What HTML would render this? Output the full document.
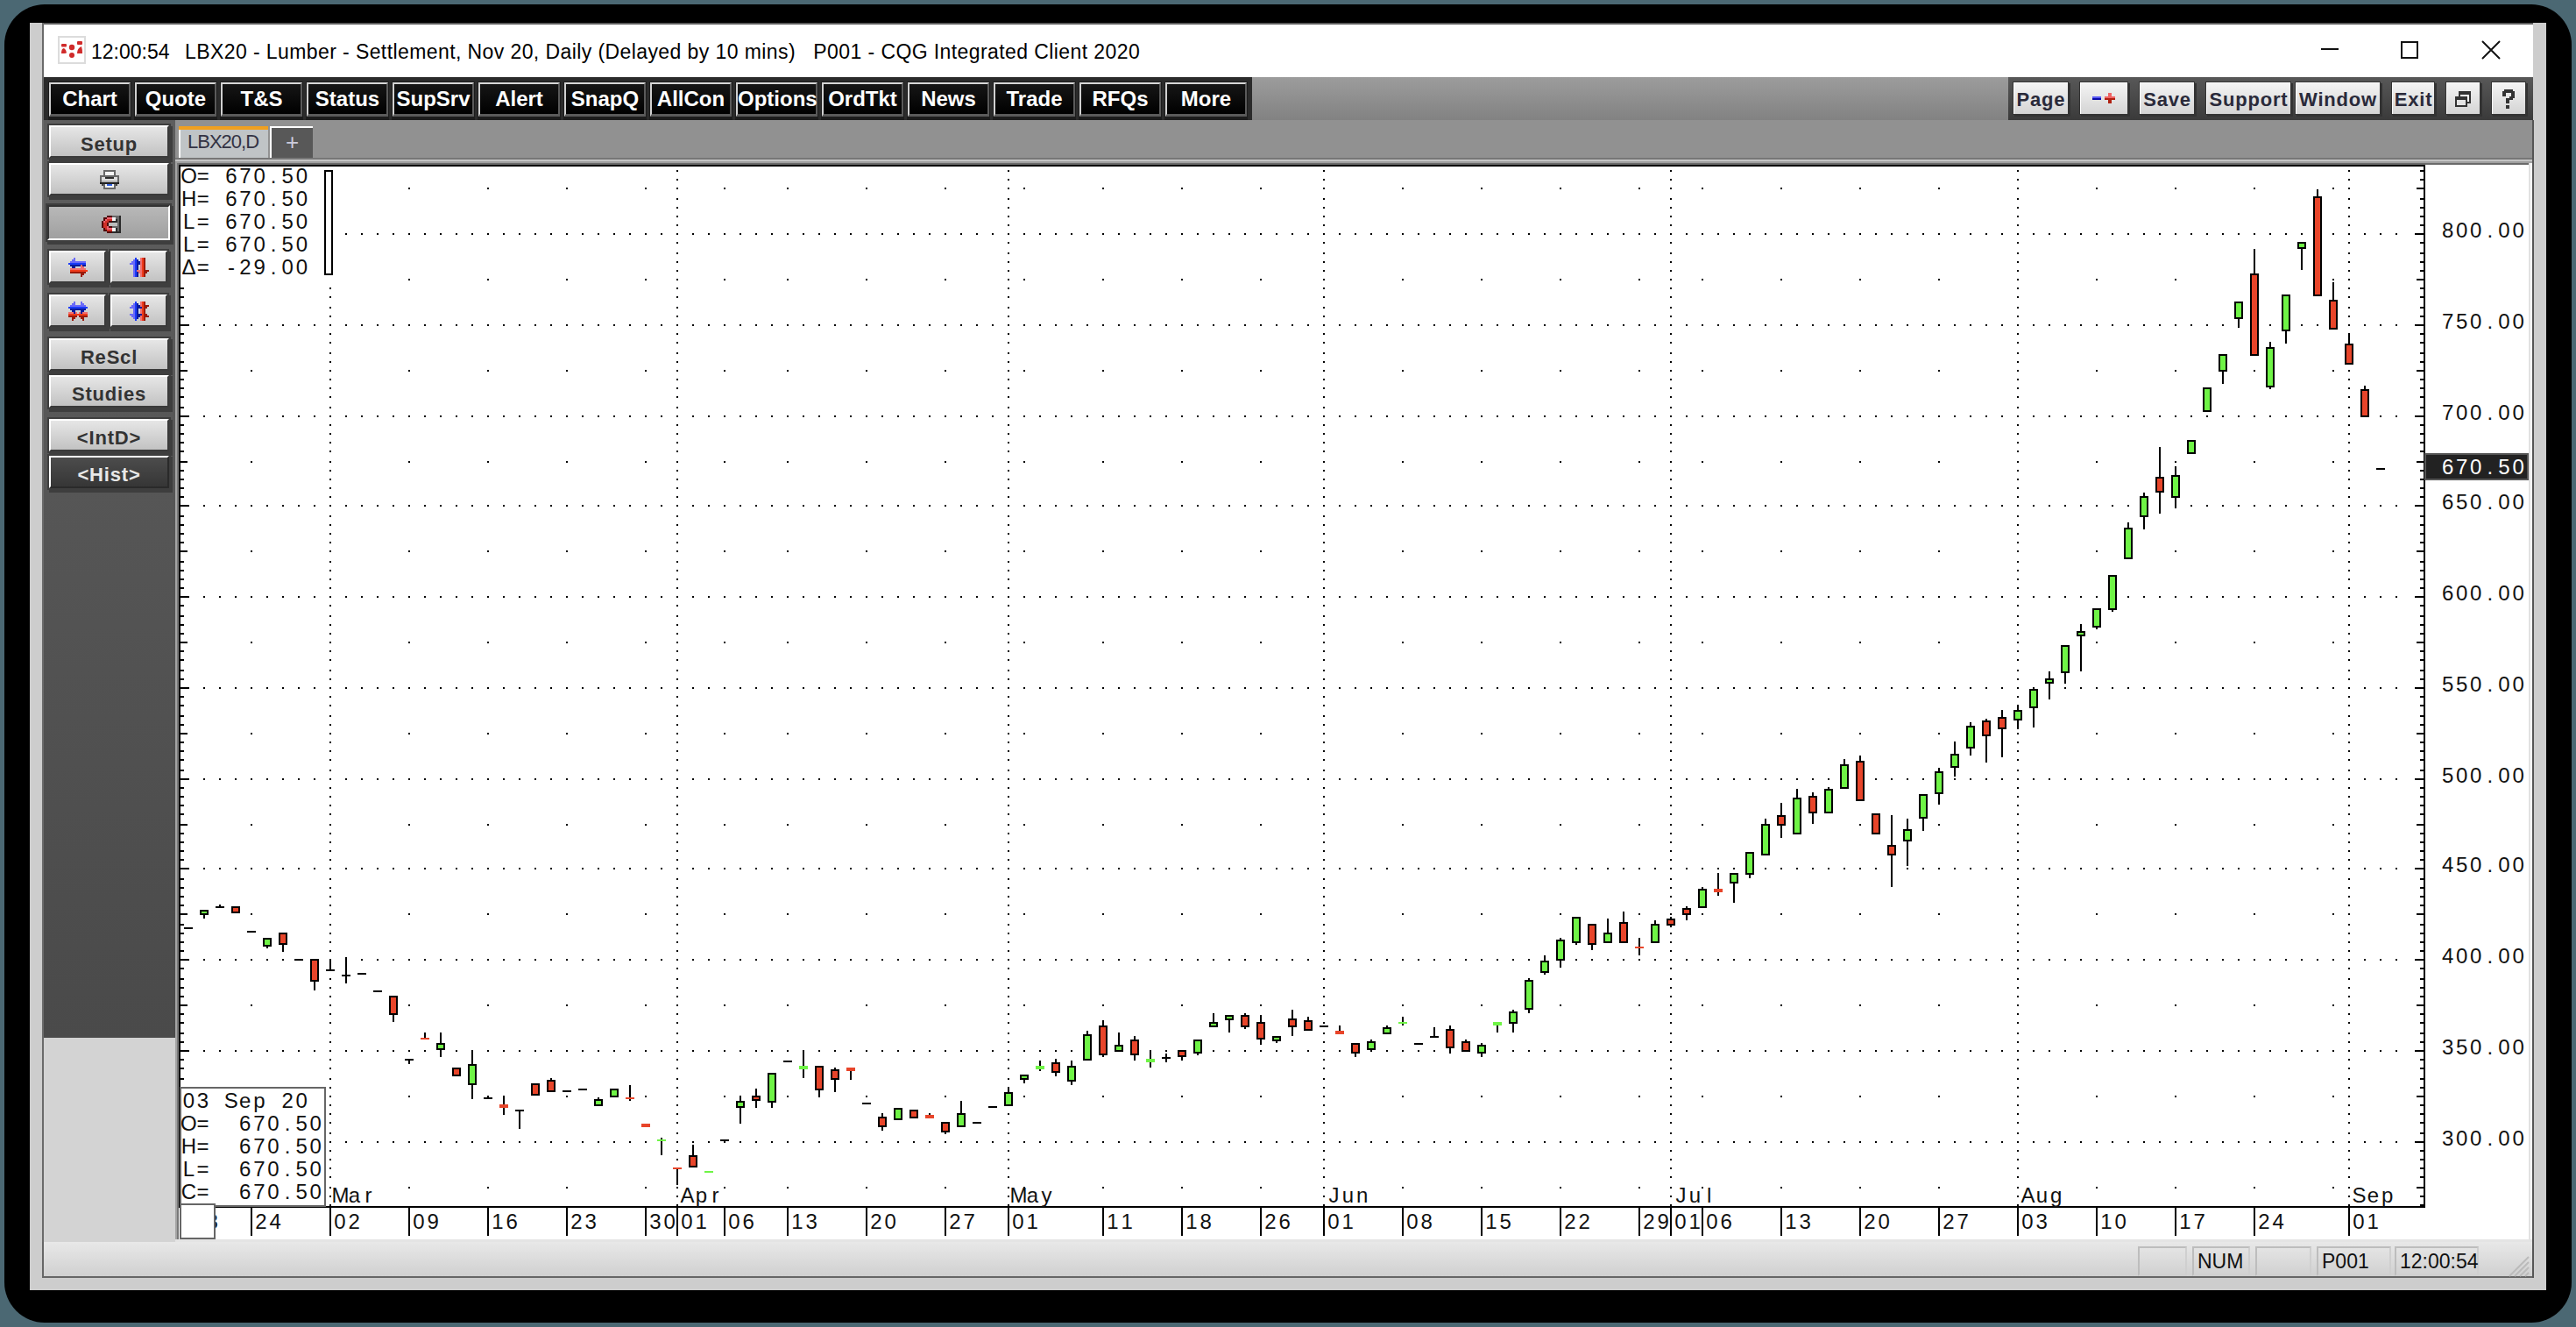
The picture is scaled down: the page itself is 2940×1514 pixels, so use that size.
<!DOCTYPE html>
<html><head><meta charset="utf-8"><style>
html,body{margin:0;padding:0;}
body{width:2940px;height:1514px;overflow:hidden;background:#4b6873;position:relative;font-family:"Liberation Sans",sans-serif;}
.a{position:absolute;}
.bd{position:absolute;top:94px;width:93px;height:39px;box-sizing:border-box;box-shadow:0 0 0 1px #1c1c1c,0 3px 0 1px #1c1c1c;background:linear-gradient(#161616,#000);border-top:2px solid #d8d8d8;border-left:2px solid #d0d0d0;border-right:2px solid #5a5a5a;border-bottom:3px solid #5a5a5a;color:#fff;font:bold 24px "Liberation Sans",sans-serif;text-align:center;line-height:33px;}
.bl{position:absolute;top:94px;height:36px;box-sizing:border-box;background:linear-gradient(#f4f4f4,#d4d4d4);border-top:1px solid #fff;border-left:1px solid #fff;color:#2a2a3a;font:bold 22px "Liberation Sans",sans-serif;letter-spacing:0.8px;text-align:center;line-height:38px;white-space:nowrap;overflow:hidden;box-shadow:0 0 0 1px #333,2px 2px 0 1px #333;}
.lb{position:absolute;left:56px;width:137px;height:37px;box-sizing:border-box;background:linear-gradient(#e6e6e6,#c2c2c2);border-top:2px solid #fff;border-left:2px solid #fff;border-right:2px solid #3a3a3a;border-bottom:2px solid #3a3a3a;color:#333;font:bold 22px "Liberation Sans",sans-serif;letter-spacing:0.8px;text-align:center;line-height:40px;box-shadow:0 0 0 2px #3e3e3e,2px 3px 0 2px #3e3e3e;}
svg text{font-family:"Liberation Sans",sans-serif;}
.ax{font-size:24px;fill:#111;}
.pl{font-size:24px;fill:#111;}
.ob{font-size:24px;fill:#111;}
.st{position:absolute;top:1422px;height:34px;box-sizing:border-box;border:2px solid #cfcfcf;border-top-color:#bdbdbd;border-left-color:#bdbdbd;font:23px "Liberation Sans",sans-serif;color:#111;line-height:30px;padding-left:4px;}
</style></head><body>
<div class="a" style="left:5px;top:5px;width:2930px;height:1504px;background:#000;border-radius:46px;"></div>
<div class="a" style="left:34px;top:26px;width:2872px;height:1446px;background:#cdcdcd;"></div>
<div class="a" style="left:48px;top:26px;width:2843px;height:2px;background:#5c5c5c;"></div>
<div class="a" style="left:48px;top:26px;width:2px;height:1431px;background:#6a6a6a;"></div>
<!-- title bar -->
<div class="a" style="left:50px;top:28px;width:2841px;height:60px;background:#fff;"></div>
<div class="a" style="left:66px;top:41px;width:28px;height:28px;border:2px solid #dcdcdc;background:#fff;"></div>
<svg class="a" style="left:66px;top:41px" width="32" height="32"><g fill="#d02a2a"><rect x="4" y="9" width="6" height="3.5" rx="1"/><path d="M4 20 Q4 14 7 14 Q10 16 10 19 Q10 20 7 20 Z"/><circle cx="16" cy="13" r="3.2"/><circle cx="16" cy="22" r="3"/><rect x="22" y="6" width="6" height="4" rx="1"/><path d="M22 20 Q22 14 27 12 Q28 15 28 20 Z"/></g></svg>
<div class="a" style="left:104px;top:45px;font-size:23px;color:#000;white-space:pre;line-height:28px;">12:00:54</div><div id="tt" class="a" style="left:211px;top:45px;font-size:23px;letter-spacing:0.41px;color:#000;white-space:pre;line-height:28px;">LBX20 - Lumber - Settlement, Nov 20, Daily (Delayed by 10 mins)   P001 - CQG Integrated Client 2020</div>
<div class="a" style="left:2649px;top:55px;width:20px;height:2px;background:#111;"></div>
<div class="a" style="left:2740px;top:47px;width:16px;height:16px;border:2px solid #111;"></div>
<svg class="a" style="left:2831px;top:45px" width="24" height="24"><path d="M2 2L22 22M22 2L2 22" stroke="#111" stroke-width="2"/></svg>
<!-- toolbar -->
<div class="a" style="left:50px;top:88px;width:1379px;height:49px;background:#2b2b2b;"></div>
<div class="a" style="left:1429px;top:88px;width:863px;height:49px;background:linear-gradient(#9c9c9c,#828282);"></div>
<div class="a" style="left:2292px;top:88px;width:599px;height:49px;background:linear-gradient(#585858,#3a3a3a);"></div>
<div class="bd" style="left:56px">Chart</div><div class="bd" style="left:154px">Quote</div><div class="bd" style="left:252px">T&amp;S</div><div class="bd" style="left:350px">Status</div><div class="bd" style="left:448px">SupSrv</div><div class="bd" style="left:546px">Alert</div><div class="bd" style="left:644px">SnapQ</div><div class="bd" style="left:742px">AllCon</div><div class="bd" style="left:840px">Options</div><div class="bd" style="left:938px">OrdTkt</div><div class="bd" style="left:1036px">News</div><div class="bd" style="left:1134px">Trade</div><div class="bd" style="left:1232px">RFQs</div><div class="bd" style="left:1330px">More</div><div class="bl" style="left:2298px;width:62px">Page</div><div class="bl" style="left:2374px;width:54px"></div><div class="bl" style="left:2442px;width:62px">Save</div><div class="bl" style="left:2518px;width:96px">Support</div><div class="bl" style="left:2620px;width:96px">Window</div><div class="bl" style="left:2730px;width:48px">Exit</div><div class="bl" style="left:2792px;width:38px"></div><div class="bl" style="left:2844px;width:38px"></div>
<svg class="a" style="left:2800px;top:102px" width="24" height="24" shape-rendering="crispEdges">
<rect x="6" y="2" width="14" height="14" fill="#333"/><rect x="8" y="6" width="10" height="8" fill="#fff"/>
<rect x="2" y="8" width="14" height="12" fill="#333"/><rect x="4" y="12" width="10" height="6" fill="#e4e4e4"/>
</svg>
<svg class="a" style="left:2854px;top:102px" width="20" height="24" shape-rendering="crispEdges" fill="#333">
<rect x="4" y="0" width="10" height="4"/><rect x="2" y="2" width="4" height="6"/><rect x="12" y="2" width="4" height="8"/><rect x="10" y="8" width="4" height="4"/><rect x="8" y="10" width="4" height="2"/><rect x="6" y="10" width="4" height="6"/><rect x="6" y="18" width="4" height="4"/>
</svg>
<svg class="a" style="left:2388px;top:106px" width="28" height="14" shape-rendering="crispEdges">
<rect x="0" y="4" width="10" height="2" fill="#5a5af4"/><rect x="0" y="6" width="10" height="2" fill="#0a0aa8"/>
<rect x="14" y="4" width="12" height="2" fill="#f06464"/><rect x="14" y="6" width="12" height="2" fill="#b02010"/>
<rect x="18" y="0" width="4" height="4" fill="#f06464"/><rect x="18" y="8" width="4" height="4" fill="#b02010"/>
</svg>
<!-- tab band -->
<div class="a" style="left:200px;top:137px;width:2691px;height:43px;background:#919191;"></div>
<div class="a" style="left:204px;top:144px;width:102px;height:36px;background:#c0c4c6;border-left:2px solid #fff;box-sizing:border-box;"></div>
<div class="a" style="left:204px;top:144px;width:102px;height:4px;background:#f0a020;"></div>
<div class="a" style="left:214px;top:148px;font-size:22px;letter-spacing:-1px;color:#334;line-height:28px;">LBX20,D</div>
<div class="a" style="left:308px;top:144px;width:49px;height:36px;background:#585858;border-left:2px solid #fff;border-top:2px solid #fff;box-sizing:border-box;color:#ccd;font-size:26px;text-align:center;line-height:32px;">+</div>
<div class="a" style="left:200px;top:180px;width:2691px;height:2px;background:#777;"></div>
<div class="a" style="left:200px;top:182px;width:2691px;height:2px;background:#c4c4c4;"></div>
<div class="a" style="left:200px;top:184px;width:2691px;height:2px;background:#a0a0a0;"></div>
<div class="a" style="left:200px;top:186px;width:2691px;height:2px;background:#6a6a6a;"></div>
<div class="a" style="left:200px;top:186px;width:2px;height:1231px;background:#a4a4a4;"></div><div class="a" style="left:202px;top:186px;width:2px;height:1231px;background:#777;"></div>
<div class="a" style="left:2886px;top:186px;width:2px;height:1228px;background:#e2e2e2;"></div><div class="a" style="left:2888px;top:186px;width:2px;height:1228px;background:#fff;"></div>
<!-- left panel -->
<div class="a" style="left:50px;top:137px;width:150px;height:1047px;background:linear-gradient(#5e5e5e,#4a4a4a);"></div>
<div class="a" style="left:50px;top:1184px;width:150px;height:233px;background:#d3d3d3;"></div>
<div class="lb" style="top:143px;">Setup</div>
<div class="lb" style="top:186px;"></div>
<div class="lb" style="top:234px;left:54px;width:140px;height:40px;background:linear-gradient(#b8b8b8,#a0a0a0);border-top:2px solid #333;border-left:2px solid #333;border-right:2px solid #fff;border-bottom:2px solid #fff;"></div>
<div class="lb" style="top:286px;width:65px;"></div><div class="lb" style="top:286px;left:126px;width:65px;"></div>
<div class="lb" style="top:336px;width:65px;"></div><div class="lb" style="top:336px;left:126px;width:65px;"></div>
<div class="lb" style="top:386px;">ReScl</div>
<div class="lb" style="top:428px;">Studies</div>
<div class="lb" style="top:478px;">&lt;IntD&gt;</div>
<div class="lb" style="top:520px;background:linear-gradient(#4c4c4c,#363636);color:#e8e8e8;border-right-color:#2a2a2a;border-bottom-color:#2a2a2a;">&lt;Hist&gt;</div>

<svg class="a" style="left:78px;top:294px" width="22" height="22" shape-rendering="crispEdges"><rect x="6" y="0" width="2" height="2" fill="#6a6af8"/><rect x="4" y="2" width="4" height="2" fill="#6a6af8"/><rect x="2" y="4" width="18" height="2" fill="#6a6af8"/><rect x="0" y="6" width="20" height="2" fill="#1a3af8"/><rect x="2" y="8" width="18" height="2" fill="#0a1a9a"/><rect x="4" y="10" width="4" height="2" fill="#0a1a9a"/><rect x="6" y="12" width="2" height="2" fill="#0a1a9a"/><rect x="14" y="8" width="2" height="2" fill="#f07070"/><rect x="14" y="10" width="4" height="2" fill="#f07070"/><rect x="2" y="12" width="18" height="2" fill="#f07070"/><rect x="2" y="14" width="20" height="2" fill="#f03a1a"/><rect x="2" y="16" width="18" height="2" fill="#9a1a0a"/><rect x="14" y="18" width="4" height="2" fill="#9a1a0a"/><rect x="14" y="20" width="2" height="2" fill="#9a1a0a"/></svg><svg class="a" style="left:148px;top:294px" width="22" height="22" shape-rendering="crispEdges"><rect x="6" y="0" width="2" height="2" fill="#1a3af8"/><rect x="4" y="2" width="2" height="2" fill="#6a6af8"/><rect x="6" y="2" width="2" height="2" fill="#1a3af8"/><rect x="8" y="2" width="2" height="2" fill="#0a1a9a"/><rect x="2" y="4" width="4" height="2" fill="#6a6af8"/><rect x="6" y="4" width="2" height="2" fill="#1a3af8"/><rect x="8" y="4" width="4" height="2" fill="#0a1a9a"/><rect x="0" y="6" width="6" height="2" fill="#6a6af8"/><rect x="6" y="6" width="2" height="2" fill="#1a3af8"/><rect x="8" y="6" width="6" height="2" fill="#0a1a9a"/><rect x="4" y="8" width="2" height="2" fill="#6a6af8"/><rect x="6" y="8" width="2" height="2" fill="#1a3af8"/><rect x="8" y="8" width="2" height="2" fill="#0a1a9a"/><rect x="4" y="10" width="2" height="2" fill="#6a6af8"/><rect x="6" y="10" width="2" height="2" fill="#1a3af8"/><rect x="8" y="10" width="2" height="2" fill="#0a1a9a"/><rect x="4" y="12" width="2" height="2" fill="#6a6af8"/><rect x="6" y="12" width="2" height="2" fill="#1a3af8"/><rect x="8" y="12" width="2" height="2" fill="#0a1a9a"/><rect x="4" y="14" width="2" height="2" fill="#6a6af8"/><rect x="6" y="14" width="2" height="2" fill="#1a3af8"/><rect x="8" y="14" width="2" height="2" fill="#0a1a9a"/><rect x="4" y="16" width="2" height="2" fill="#6a6af8"/><rect x="6" y="16" width="2" height="2" fill="#1a3af8"/><rect x="8" y="16" width="2" height="2" fill="#0a1a9a"/><rect x="4" y="18" width="2" height="2" fill="#6a6af8"/><rect x="6" y="18" width="2" height="2" fill="#1a3af8"/><rect x="8" y="18" width="2" height="2" fill="#0a1a9a"/><rect x="4" y="20" width="2" height="2" fill="#6a6af8"/><rect x="6" y="20" width="2" height="2" fill="#1a3af8"/><rect x="8" y="20" width="2" height="2" fill="#0a1a9a"/><rect x="12" y="0" width="2" height="2" fill="#f07070"/><rect x="14" y="0" width="2" height="2" fill="#f03a1a"/><rect x="16" y="0" width="2" height="2" fill="#9a1a0a"/><rect x="12" y="2" width="2" height="2" fill="#f07070"/><rect x="14" y="2" width="2" height="2" fill="#f03a1a"/><rect x="16" y="2" width="2" height="2" fill="#9a1a0a"/><rect x="12" y="4" width="2" height="2" fill="#f07070"/><rect x="14" y="4" width="2" height="2" fill="#f03a1a"/><rect x="16" y="4" width="2" height="2" fill="#9a1a0a"/><rect x="12" y="8" width="2" height="2" fill="#f07070"/><rect x="14" y="8" width="2" height="2" fill="#f03a1a"/><rect x="16" y="8" width="2" height="2" fill="#9a1a0a"/><rect x="12" y="10" width="2" height="2" fill="#f07070"/><rect x="14" y="10" width="2" height="2" fill="#f03a1a"/><rect x="16" y="10" width="2" height="2" fill="#9a1a0a"/><rect x="12" y="12" width="2" height="2" fill="#f07070"/><rect x="14" y="12" width="2" height="2" fill="#f03a1a"/><rect x="16" y="12" width="2" height="2" fill="#9a1a0a"/><rect x="12" y="14" width="2" height="2" fill="#f07070"/><rect x="14" y="14" width="2" height="2" fill="#f03a1a"/><rect x="16" y="14" width="2" height="2" fill="#9a1a0a"/><rect x="12" y="16" width="2" height="2" fill="#f07070"/><rect x="14" y="16" width="2" height="2" fill="#f03a1a"/><rect x="16" y="16" width="2" height="2" fill="#9a1a0a"/><rect x="12" y="18" width="2" height="2" fill="#f07070"/><rect x="14" y="18" width="2" height="2" fill="#f03a1a"/><rect x="16" y="18" width="2" height="2" fill="#9a1a0a"/><rect x="12" y="20" width="2" height="2" fill="#f07070"/><rect x="14" y="20" width="2" height="2" fill="#f03a1a"/><rect x="16" y="20" width="2" height="2" fill="#9a1a0a"/><rect x="8" y="14" width="4" height="2" fill="#f07070"/><rect x="18" y="14" width="4" height="2" fill="#9a1a0a"/><rect x="10" y="16" width="2" height="2" fill="#f07070"/><rect x="18" y="16" width="2" height="2" fill="#9a1a0a"/><rect x="12" y="18" width="2" height="2" fill="#f07070"/><rect x="14" y="18" width="2" height="2" fill="#f03a1a"/><rect x="16" y="18" width="2" height="2" fill="#9a1a0a"/><rect x="14" y="20" width="2" height="2" fill="#f03a1a"/><rect x="12" y="6" width="2" height="2" fill="#f07070"/><rect x="14" y="6" width="2" height="2" fill="#f03a1a"/><rect x="16" y="6" width="2" height="2" fill="#9a1a0a"/></svg><svg class="a" style="left:78px;top:344px" width="22" height="22" shape-rendering="crispEdges"><rect x="6" y="0" width="2" height="2" fill="#6a6af8"/><rect x="14" y="0" width="2" height="2" fill="#6a6af8"/><rect x="4" y="2" width="4" height="2" fill="#6a6af8"/><rect x="14" y="2" width="4" height="2" fill="#6a6af8"/><rect x="2" y="4" width="18" height="2" fill="#6a6af8"/><rect x="0" y="6" width="22" height="2" fill="#1a3af8"/><rect x="2" y="8" width="18" height="2" fill="#0a1a9a"/><rect x="4" y="10" width="4" height="2" fill="#0a1a9a"/><rect x="14" y="10" width="4" height="2" fill="#0a1a9a"/><rect x="0" y="12" width="6" height="2" fill="#f07070"/><rect x="8" y="12" width="2" height="2" fill="#f07070"/><rect x="12" y="12" width="2" height="2" fill="#f07070"/><rect x="16" y="12" width="6" height="2" fill="#f07070"/><rect x="6" y="12" width="2" height="2" fill="#0a1a9a"/><rect x="14" y="12" width="2" height="2" fill="#0a1a9a"/><rect x="0" y="14" width="22" height="2" fill="#f03a1a"/><rect x="0" y="16" width="10" height="2" fill="#9a1a0a"/><rect x="12" y="16" width="10" height="2" fill="#9a1a0a"/><rect x="4" y="18" width="4" height="2" fill="#9a1a0a"/><rect x="14" y="18" width="4" height="2" fill="#9a1a0a"/><rect x="4" y="20" width="2" height="2" fill="#9a1a0a"/><rect x="16" y="20" width="2" height="2" fill="#9a1a0a"/></svg><svg class="a" style="left:148px;top:344px" width="22" height="22" shape-rendering="crispEdges"><rect x="12" y="0" width="2" height="2" fill="#f07070"/><rect x="14" y="0" width="2" height="2" fill="#f03a1a"/><rect x="16" y="0" width="2" height="2" fill="#9a1a0a"/><rect x="12" y="2" width="2" height="2" fill="#f07070"/><rect x="14" y="2" width="2" height="2" fill="#f03a1a"/><rect x="16" y="2" width="2" height="2" fill="#9a1a0a"/><rect x="12" y="4" width="2" height="2" fill="#f07070"/><rect x="14" y="4" width="2" height="2" fill="#f03a1a"/><rect x="16" y="4" width="2" height="2" fill="#9a1a0a"/><rect x="12" y="6" width="2" height="2" fill="#f07070"/><rect x="14" y="6" width="2" height="2" fill="#f03a1a"/><rect x="16" y="6" width="2" height="2" fill="#9a1a0a"/><rect x="12" y="8" width="2" height="2" fill="#f07070"/><rect x="14" y="8" width="2" height="2" fill="#f03a1a"/><rect x="16" y="8" width="2" height="2" fill="#9a1a0a"/><rect x="12" y="10" width="2" height="2" fill="#f07070"/><rect x="14" y="10" width="2" height="2" fill="#f03a1a"/><rect x="16" y="10" width="2" height="2" fill="#9a1a0a"/><rect x="12" y="12" width="2" height="2" fill="#f07070"/><rect x="14" y="12" width="2" height="2" fill="#f03a1a"/><rect x="16" y="12" width="2" height="2" fill="#9a1a0a"/><rect x="12" y="14" width="2" height="2" fill="#f07070"/><rect x="14" y="14" width="2" height="2" fill="#f03a1a"/><rect x="16" y="14" width="2" height="2" fill="#9a1a0a"/><rect x="12" y="16" width="2" height="2" fill="#f07070"/><rect x="14" y="16" width="2" height="2" fill="#f03a1a"/><rect x="16" y="16" width="2" height="2" fill="#9a1a0a"/><rect x="12" y="18" width="2" height="2" fill="#f07070"/><rect x="14" y="18" width="2" height="2" fill="#f03a1a"/><rect x="16" y="18" width="2" height="2" fill="#9a1a0a"/><rect x="12" y="20" width="2" height="2" fill="#f07070"/><rect x="14" y="20" width="2" height="2" fill="#f03a1a"/><rect x="16" y="20" width="2" height="2" fill="#9a1a0a"/><rect x="18" y="4" width="4" height="2" fill="#9a1a0a"/><rect x="18" y="6" width="2" height="2" fill="#9a1a0a"/><rect x="18" y="14" width="2" height="2" fill="#9a1a0a"/><rect x="18" y="16" width="4" height="2" fill="#9a1a0a"/><rect x="6" y="0" width="2" height="2" fill="#1a3af8"/><rect x="4" y="2" width="2" height="2" fill="#6a6af8"/><rect x="6" y="2" width="2" height="2" fill="#1a3af8"/><rect x="8" y="2" width="2" height="2" fill="#0a1a9a"/><rect x="2" y="4" width="4" height="2" fill="#6a6af8"/><rect x="6" y="4" width="2" height="2" fill="#1a3af8"/><rect x="8" y="4" width="4" height="2" fill="#0a1a9a"/><rect x="0" y="6" width="6" height="2" fill="#6a6af8"/><rect x="6" y="6" width="2" height="2" fill="#1a3af8"/><rect x="8" y="6" width="6" height="2" fill="#0a1a9a"/><rect x="4" y="8" width="2" height="2" fill="#6a6af8"/><rect x="6" y="8" width="2" height="2" fill="#1a3af8"/><rect x="8" y="8" width="2" height="2" fill="#0a1a9a"/><rect x="4" y="10" width="2" height="2" fill="#6a6af8"/><rect x="6" y="10" width="2" height="2" fill="#1a3af8"/><rect x="8" y="10" width="2" height="2" fill="#0a1a9a"/><rect x="4" y="12" width="2" height="2" fill="#6a6af8"/><rect x="6" y="12" width="2" height="2" fill="#1a3af8"/><rect x="8" y="12" width="2" height="2" fill="#0a1a9a"/><rect x="0" y="14" width="6" height="2" fill="#6a6af8"/><rect x="6" y="14" width="2" height="2" fill="#1a3af8"/><rect x="8" y="14" width="6" height="2" fill="#0a1a9a"/><rect x="2" y="16" width="4" height="2" fill="#6a6af8"/><rect x="6" y="16" width="2" height="2" fill="#1a3af8"/><rect x="8" y="16" width="4" height="2" fill="#0a1a9a"/><rect x="4" y="18" width="2" height="2" fill="#6a6af8"/><rect x="6" y="18" width="2" height="2" fill="#1a3af8"/><rect x="8" y="18" width="2" height="2" fill="#0a1a9a"/><rect x="6" y="20" width="2" height="2" fill="#1a3af8"/></svg><svg class="a" style="left:116px;top:246px" width="22" height="22" shape-rendering="crispEdges"><rect x="6" y="0" width="6" height="2" fill="#500808"/><rect x="12" y="0" width="8" height="2" fill="#686868"/><rect x="20" y="0" width="2" height="2" fill="#2a2a2a"/><rect x="2" y="2" width="4" height="2" fill="#500808"/><rect x="6" y="2" width="6" height="2" fill="#f06070"/><rect x="12" y="2" width="4" height="2" fill="#f4f4f4"/><rect x="16" y="2" width="4" height="2" fill="#686868"/><rect x="20" y="2" width="2" height="2" fill="#2a2a2a"/><rect x="2" y="4" width="2" height="2" fill="#500808"/><rect x="4" y="4" width="2" height="2" fill="#f06070"/><rect x="6" y="4" width="6" height="2" fill="#d03028"/><rect x="12" y="4" width="4" height="2" fill="#f4f4f4"/><rect x="16" y="4" width="2" height="2" fill="#2a2a2a"/><rect x="18" y="4" width="2" height="2" fill="#686868"/><rect x="20" y="4" width="2" height="2" fill="#2a2a2a"/><rect x="0" y="6" width="2" height="2" fill="#500808"/><rect x="2" y="6" width="2" height="2" fill="#f06070"/><rect x="4" y="6" width="4" height="2" fill="#d03028"/><rect x="8" y="6" width="4" height="2" fill="#500808"/><rect x="12" y="6" width="6" height="2" fill="#2a2a2a"/><rect x="18" y="6" width="2" height="2" fill="#686868"/><rect x="20" y="6" width="2" height="2" fill="#2a2a2a"/><rect x="0" y="8" width="2" height="2" fill="#500808"/><rect x="2" y="8" width="4" height="2" fill="#d03028"/><rect x="6" y="8" width="2" height="2" fill="#500808"/><rect x="8" y="8" width="10" height="2" fill="#bcbcbc"/><rect x="18" y="8" width="2" height="2" fill="#686868"/><rect x="20" y="8" width="2" height="2" fill="#2a2a2a"/><rect x="0" y="10" width="2" height="2" fill="#500808"/><rect x="2" y="10" width="4" height="2" fill="#d03028"/><rect x="6" y="10" width="2" height="2" fill="#500808"/><rect x="8" y="10" width="10" height="2" fill="#bcbcbc"/><rect x="18" y="10" width="2" height="2" fill="#686868"/><rect x="20" y="10" width="2" height="2" fill="#2a2a2a"/><rect x="0" y="12" width="2" height="2" fill="#500808"/><rect x="2" y="12" width="4" height="2" fill="#d03028"/><rect x="6" y="12" width="2" height="2" fill="#f06070"/><rect x="8" y="12" width="4" height="2" fill="#500808"/><rect x="12" y="12" width="8" height="2" fill="#686868"/><rect x="20" y="12" width="2" height="2" fill="#2a2a2a"/><rect x="2" y="14" width="2" height="2" fill="#500808"/><rect x="4" y="14" width="2" height="2" fill="#d03028"/><rect x="6" y="14" width="6" height="2" fill="#f06070"/><rect x="12" y="14" width="4" height="2" fill="#f4f4f4"/><rect x="16" y="14" width="2" height="2" fill="#2a2a2a"/><rect x="18" y="14" width="2" height="2" fill="#686868"/><rect x="20" y="14" width="2" height="2" fill="#2a2a2a"/><rect x="2" y="16" width="4" height="2" fill="#500808"/><rect x="6" y="16" width="6" height="2" fill="#d03028"/><rect x="12" y="16" width="4" height="2" fill="#f4f4f4"/><rect x="16" y="16" width="2" height="2" fill="#2a2a2a"/><rect x="18" y="16" width="2" height="2" fill="#686868"/><rect x="20" y="16" width="2" height="2" fill="#2a2a2a"/><rect x="6" y="18" width="6" height="2" fill="#500808"/><rect x="12" y="18" width="10" height="2" fill="#2a2a2a"/></svg><svg class="a" style="left:114px;top:194px" width="22" height="22" shape-rendering="crispEdges"><rect x="4" y="0" width="14" height="2" fill="#686868"/><rect x="4" y="2" width="2" height="2" fill="#686868"/><rect x="6" y="2" width="10" height="2" fill="#f4f4f4"/><rect x="16" y="2" width="2" height="2" fill="#686868"/><rect x="4" y="4" width="2" height="2" fill="#686868"/><rect x="6" y="4" width="10" height="2" fill="#f4f4f4"/><rect x="16" y="4" width="2" height="2" fill="#686868"/><rect x="0" y="6" width="22" height="2" fill="#686868"/><rect x="0" y="8" width="2" height="2" fill="#686868"/><rect x="2" y="8" width="4" height="2" fill="#dcdcdc"/><rect x="6" y="8" width="10" height="2" fill="#2a2a2a"/><rect x="16" y="8" width="4" height="2" fill="#dcdcdc"/><rect x="20" y="8" width="2" height="2" fill="#686868"/><rect x="0" y="10" width="2" height="2" fill="#686868"/><rect x="2" y="10" width="18" height="2" fill="#dcdcdc"/><rect x="20" y="10" width="2" height="2" fill="#686868"/><rect x="0" y="12" width="2" height="2" fill="#686868"/><rect x="2" y="12" width="18" height="2" fill="#b4b4b4"/><rect x="20" y="12" width="2" height="2" fill="#686868"/><rect x="0" y="14" width="22" height="2" fill="#222"/><rect x="2" y="16" width="2" height="2" fill="#444"/><rect x="4" y="16" width="2" height="2" fill="#686868"/><rect x="6" y="16" width="2" height="2" fill="#f4f4f4"/><rect x="8" y="16" width="6" height="2" fill="#3060e0"/><rect x="14" y="16" width="2" height="2" fill="#f4f4f4"/><rect x="16" y="16" width="2" height="2" fill="#686868"/><rect x="18" y="16" width="2" height="2" fill="#444"/><rect x="4" y="18" width="2" height="2" fill="#686868"/><rect x="6" y="18" width="10" height="2" fill="#f4f4f4"/><rect x="16" y="18" width="2" height="2" fill="#686868"/><rect x="4" y="20" width="14" height="2" fill="#686868"/></svg>
<div class="a" style="left:200px;top:1414px;width:2691px;height:3px;background:#e4e4e4;"></div>
<!-- status bar -->
<div class="a" style="left:48px;top:1417px;width:2843px;height:41px;box-sizing:border-box;background:linear-gradient(#e8e8e8,#d0d0d0);border-left:2px solid #666;border-bottom:2px solid #666;"></div>
<div class="st" style="left:2440px;width:56px;"></div>
<div class="st" style="left:2502px;width:66px;">NUM</div>
<div class="st" style="left:2574px;width:64px;"></div>
<div class="st" style="left:2644px;width:85px;">P001</div>
<div class="st" style="left:2733px;width:96px;">12:00:54</div>
<div class="a" style="left:2890px;top:137px;width:2px;height:1321px;background:#555;"></div>
<svg class="a" style="left:2860px;top:1430px" width="27" height="27"><path d="M26 4 L4 26 M26 10 L10 26 M26 16 L16 26 M26 22 L22 26" stroke="#bbb" stroke-width="2"/></svg>
<!-- chart -->
<svg class="a" style="left:0;top:0" width="2940" height="1514" shape-rendering="crispEdges"><rect x="204" y="188" width="2682" height="1226" fill="#fff"/><rect x="232" y="1302" width="2" height="2" fill="#000"/><rect x="250" y="1302" width="2" height="2" fill="#000"/><rect x="268" y="1302" width="2" height="2" fill="#000"/><rect x="286" y="1302" width="2" height="2" fill="#000"/><rect x="304" y="1302" width="2" height="2" fill="#000"/><rect x="322" y="1302" width="2" height="2" fill="#000"/><rect x="340" y="1302" width="2" height="2" fill="#000"/><rect x="358" y="1302" width="2" height="2" fill="#000"/><rect x="376" y="1302" width="2" height="2" fill="#000"/><rect x="394" y="1302" width="2" height="2" fill="#000"/><rect x="412" y="1302" width="2" height="2" fill="#000"/><rect x="430" y="1302" width="2" height="2" fill="#000"/><rect x="448" y="1302" width="2" height="2" fill="#000"/><rect x="466" y="1302" width="2" height="2" fill="#000"/><rect x="484" y="1302" width="2" height="2" fill="#000"/><rect x="502" y="1302" width="2" height="2" fill="#000"/><rect x="520" y="1302" width="2" height="2" fill="#000"/><rect x="538" y="1302" width="2" height="2" fill="#000"/><rect x="556" y="1302" width="2" height="2" fill="#000"/><rect x="574" y="1302" width="2" height="2" fill="#000"/><rect x="592" y="1302" width="2" height="2" fill="#000"/><rect x="610" y="1302" width="2" height="2" fill="#000"/><rect x="628" y="1302" width="2" height="2" fill="#000"/><rect x="646" y="1302" width="2" height="2" fill="#000"/><rect x="664" y="1302" width="2" height="2" fill="#000"/><rect x="682" y="1302" width="2" height="2" fill="#000"/><rect x="700" y="1302" width="2" height="2" fill="#000"/><rect x="718" y="1302" width="2" height="2" fill="#000"/><rect x="736" y="1302" width="2" height="2" fill="#000"/><rect x="754" y="1302" width="2" height="2" fill="#000"/><rect x="772" y="1302" width="2" height="2" fill="#000"/><rect x="790" y="1302" width="2" height="2" fill="#000"/><rect x="808" y="1302" width="2" height="2" fill="#000"/><rect x="826" y="1302" width="2" height="2" fill="#000"/><rect x="844" y="1302" width="2" height="2" fill="#000"/><rect x="862" y="1302" width="2" height="2" fill="#000"/><rect x="880" y="1302" width="2" height="2" fill="#000"/><rect x="898" y="1302" width="2" height="2" fill="#000"/><rect x="916" y="1302" width="2" height="2" fill="#000"/><rect x="934" y="1302" width="2" height="2" fill="#000"/><rect x="952" y="1302" width="2" height="2" fill="#000"/><rect x="970" y="1302" width="2" height="2" fill="#000"/><rect x="988" y="1302" width="2" height="2" fill="#000"/><rect x="1006" y="1302" width="2" height="2" fill="#000"/><rect x="1024" y="1302" width="2" height="2" fill="#000"/><rect x="1042" y="1302" width="2" height="2" fill="#000"/><rect x="1060" y="1302" width="2" height="2" fill="#000"/><rect x="1078" y="1302" width="2" height="2" fill="#000"/><rect x="1096" y="1302" width="2" height="2" fill="#000"/><rect x="1114" y="1302" width="2" height="2" fill="#000"/><rect x="1132" y="1302" width="2" height="2" fill="#000"/><rect x="1150" y="1302" width="2" height="2" fill="#000"/><rect x="1168" y="1302" width="2" height="2" fill="#000"/><rect x="1186" y="1302" width="2" height="2" fill="#000"/><rect x="1204" y="1302" width="2" height="2" fill="#000"/><rect x="1222" y="1302" width="2" height="2" fill="#000"/><rect x="1240" y="1302" width="2" height="2" fill="#000"/><rect x="1258" y="1302" width="2" height="2" fill="#000"/><rect x="1276" y="1302" width="2" height="2" fill="#000"/><rect x="1294" y="1302" width="2" height="2" fill="#000"/><rect x="1312" y="1302" width="2" height="2" fill="#000"/><rect x="1330" y="1302" width="2" height="2" fill="#000"/><rect x="1348" y="1302" width="2" height="2" fill="#000"/><rect x="1366" y="1302" width="2" height="2" fill="#000"/><rect x="1384" y="1302" width="2" height="2" fill="#000"/><rect x="1402" y="1302" width="2" height="2" fill="#000"/><rect x="1420" y="1302" width="2" height="2" fill="#000"/><rect x="1438" y="1302" width="2" height="2" fill="#000"/><rect x="1456" y="1302" width="2" height="2" fill="#000"/><rect x="1474" y="1302" width="2" height="2" fill="#000"/><rect x="1492" y="1302" width="2" height="2" fill="#000"/><rect x="1510" y="1302" width="2" height="2" fill="#000"/><rect x="1528" y="1302" width="2" height="2" fill="#000"/><rect x="1546" y="1302" width="2" height="2" fill="#000"/><rect x="1564" y="1302" width="2" height="2" fill="#000"/><rect x="1582" y="1302" width="2" height="2" fill="#000"/><rect x="1600" y="1302" width="2" height="2" fill="#000"/><rect x="1618" y="1302" width="2" height="2" fill="#000"/><rect x="1636" y="1302" width="2" height="2" fill="#000"/><rect x="1654" y="1302" width="2" height="2" fill="#000"/><rect x="1672" y="1302" width="2" height="2" fill="#000"/><rect x="1690" y="1302" width="2" height="2" fill="#000"/><rect x="1708" y="1302" width="2" height="2" fill="#000"/><rect x="1726" y="1302" width="2" height="2" fill="#000"/><rect x="1744" y="1302" width="2" height="2" fill="#000"/><rect x="1762" y="1302" width="2" height="2" fill="#000"/><rect x="1780" y="1302" width="2" height="2" fill="#000"/><rect x="1798" y="1302" width="2" height="2" fill="#000"/><rect x="1816" y="1302" width="2" height="2" fill="#000"/><rect x="1834" y="1302" width="2" height="2" fill="#000"/><rect x="1852" y="1302" width="2" height="2" fill="#000"/><rect x="1870" y="1302" width="2" height="2" fill="#000"/><rect x="1888" y="1302" width="2" height="2" fill="#000"/><rect x="1906" y="1302" width="2" height="2" fill="#000"/><rect x="1924" y="1302" width="2" height="2" fill="#000"/><rect x="1942" y="1302" width="2" height="2" fill="#000"/><rect x="1960" y="1302" width="2" height="2" fill="#000"/><rect x="1978" y="1302" width="2" height="2" fill="#000"/><rect x="1996" y="1302" width="2" height="2" fill="#000"/><rect x="2014" y="1302" width="2" height="2" fill="#000"/><rect x="2032" y="1302" width="2" height="2" fill="#000"/><rect x="2050" y="1302" width="2" height="2" fill="#000"/><rect x="2068" y="1302" width="2" height="2" fill="#000"/><rect x="2086" y="1302" width="2" height="2" fill="#000"/><rect x="2104" y="1302" width="2" height="2" fill="#000"/><rect x="2122" y="1302" width="2" height="2" fill="#000"/><rect x="2140" y="1302" width="2" height="2" fill="#000"/><rect x="2158" y="1302" width="2" height="2" fill="#000"/><rect x="2176" y="1302" width="2" height="2" fill="#000"/><rect x="2194" y="1302" width="2" height="2" fill="#000"/><rect x="2212" y="1302" width="2" height="2" fill="#000"/><rect x="2230" y="1302" width="2" height="2" fill="#000"/><rect x="2248" y="1302" width="2" height="2" fill="#000"/><rect x="2266" y="1302" width="2" height="2" fill="#000"/><rect x="2284" y="1302" width="2" height="2" fill="#000"/><rect x="2302" y="1302" width="2" height="2" fill="#000"/><rect x="2320" y="1302" width="2" height="2" fill="#000"/><rect x="2338" y="1302" width="2" height="2" fill="#000"/><rect x="2356" y="1302" width="2" height="2" fill="#000"/><rect x="2374" y="1302" width="2" height="2" fill="#000"/><rect x="2392" y="1302" width="2" height="2" fill="#000"/><rect x="2410" y="1302" width="2" height="2" fill="#000"/><rect x="2428" y="1302" width="2" height="2" fill="#000"/><rect x="2446" y="1302" width="2" height="2" fill="#000"/><rect x="2464" y="1302" width="2" height="2" fill="#000"/><rect x="2482" y="1302" width="2" height="2" fill="#000"/><rect x="2500" y="1302" width="2" height="2" fill="#000"/><rect x="2518" y="1302" width="2" height="2" fill="#000"/><rect x="2536" y="1302" width="2" height="2" fill="#000"/><rect x="2554" y="1302" width="2" height="2" fill="#000"/><rect x="2572" y="1302" width="2" height="2" fill="#000"/><rect x="2590" y="1302" width="2" height="2" fill="#000"/><rect x="2608" y="1302" width="2" height="2" fill="#000"/><rect x="2626" y="1302" width="2" height="2" fill="#000"/><rect x="2644" y="1302" width="2" height="2" fill="#000"/><rect x="2662" y="1302" width="2" height="2" fill="#000"/><rect x="2680" y="1302" width="2" height="2" fill="#000"/><rect x="2698" y="1302" width="2" height="2" fill="#000"/><rect x="2716" y="1302" width="2" height="2" fill="#000"/><rect x="2734" y="1302" width="2" height="2" fill="#000"/><rect x="2734" y="1302" width="2" height="2" fill="#000"/><rect x="232" y="1198" width="2" height="2" fill="#000"/><rect x="250" y="1198" width="2" height="2" fill="#000"/><rect x="268" y="1198" width="2" height="2" fill="#000"/><rect x="286" y="1198" width="2" height="2" fill="#000"/><rect x="304" y="1198" width="2" height="2" fill="#000"/><rect x="322" y="1198" width="2" height="2" fill="#000"/><rect x="340" y="1198" width="2" height="2" fill="#000"/><rect x="358" y="1198" width="2" height="2" fill="#000"/><rect x="376" y="1198" width="2" height="2" fill="#000"/><rect x="394" y="1198" width="2" height="2" fill="#000"/><rect x="412" y="1198" width="2" height="2" fill="#000"/><rect x="430" y="1198" width="2" height="2" fill="#000"/><rect x="448" y="1198" width="2" height="2" fill="#000"/><rect x="466" y="1198" width="2" height="2" fill="#000"/><rect x="484" y="1198" width="2" height="2" fill="#000"/><rect x="502" y="1198" width="2" height="2" fill="#000"/><rect x="520" y="1198" width="2" height="2" fill="#000"/><rect x="538" y="1198" width="2" height="2" fill="#000"/><rect x="556" y="1198" width="2" height="2" fill="#000"/><rect x="574" y="1198" width="2" height="2" fill="#000"/><rect x="592" y="1198" width="2" height="2" fill="#000"/><rect x="610" y="1198" width="2" height="2" fill="#000"/><rect x="628" y="1198" width="2" height="2" fill="#000"/><rect x="646" y="1198" width="2" height="2" fill="#000"/><rect x="664" y="1198" width="2" height="2" fill="#000"/><rect x="682" y="1198" width="2" height="2" fill="#000"/><rect x="700" y="1198" width="2" height="2" fill="#000"/><rect x="718" y="1198" width="2" height="2" fill="#000"/><rect x="736" y="1198" width="2" height="2" fill="#000"/><rect x="754" y="1198" width="2" height="2" fill="#000"/><rect x="772" y="1198" width="2" height="2" fill="#000"/><rect x="790" y="1198" width="2" height="2" fill="#000"/><rect x="808" y="1198" width="2" height="2" fill="#000"/><rect x="826" y="1198" width="2" height="2" fill="#000"/><rect x="844" y="1198" width="2" height="2" fill="#000"/><rect x="862" y="1198" width="2" height="2" fill="#000"/><rect x="880" y="1198" width="2" height="2" fill="#000"/><rect x="898" y="1198" width="2" height="2" fill="#000"/><rect x="916" y="1198" width="2" height="2" fill="#000"/><rect x="934" y="1198" width="2" height="2" fill="#000"/><rect x="952" y="1198" width="2" height="2" fill="#000"/><rect x="970" y="1198" width="2" height="2" fill="#000"/><rect x="988" y="1198" width="2" height="2" fill="#000"/><rect x="1006" y="1198" width="2" height="2" fill="#000"/><rect x="1024" y="1198" width="2" height="2" fill="#000"/><rect x="1042" y="1198" width="2" height="2" fill="#000"/><rect x="1060" y="1198" width="2" height="2" fill="#000"/><rect x="1078" y="1198" width="2" height="2" fill="#000"/><rect x="1096" y="1198" width="2" height="2" fill="#000"/><rect x="1114" y="1198" width="2" height="2" fill="#000"/><rect x="1132" y="1198" width="2" height="2" fill="#000"/><rect x="1150" y="1198" width="2" height="2" fill="#000"/><rect x="1168" y="1198" width="2" height="2" fill="#000"/><rect x="1186" y="1198" width="2" height="2" fill="#000"/><rect x="1204" y="1198" width="2" height="2" fill="#000"/><rect x="1222" y="1198" width="2" height="2" fill="#000"/><rect x="1240" y="1198" width="2" height="2" fill="#000"/><rect x="1258" y="1198" width="2" height="2" fill="#000"/><rect x="1276" y="1198" width="2" height="2" fill="#000"/><rect x="1294" y="1198" width="2" height="2" fill="#000"/><rect x="1312" y="1198" width="2" height="2" fill="#000"/><rect x="1330" y="1198" width="2" height="2" fill="#000"/><rect x="1348" y="1198" width="2" height="2" fill="#000"/><rect x="1366" y="1198" width="2" height="2" fill="#000"/><rect x="1384" y="1198" width="2" height="2" fill="#000"/><rect x="1402" y="1198" width="2" height="2" fill="#000"/><rect x="1420" y="1198" width="2" height="2" fill="#000"/><rect x="1438" y="1198" width="2" height="2" fill="#000"/><rect x="1456" y="1198" width="2" height="2" fill="#000"/><rect x="1474" y="1198" width="2" height="2" fill="#000"/><rect x="1492" y="1198" width="2" height="2" fill="#000"/><rect x="1510" y="1198" width="2" height="2" fill="#000"/><rect x="1528" y="1198" width="2" height="2" fill="#000"/><rect x="1546" y="1198" width="2" height="2" fill="#000"/><rect x="1564" y="1198" width="2" height="2" fill="#000"/><rect x="1582" y="1198" width="2" height="2" fill="#000"/><rect x="1600" y="1198" width="2" height="2" fill="#000"/><rect x="1618" y="1198" width="2" height="2" fill="#000"/><rect x="1636" y="1198" width="2" height="2" fill="#000"/><rect x="1654" y="1198" width="2" height="2" fill="#000"/><rect x="1672" y="1198" width="2" height="2" fill="#000"/><rect x="1690" y="1198" width="2" height="2" fill="#000"/><rect x="1708" y="1198" width="2" height="2" fill="#000"/><rect x="1726" y="1198" width="2" height="2" fill="#000"/><rect x="1744" y="1198" width="2" height="2" fill="#000"/><rect x="1762" y="1198" width="2" height="2" fill="#000"/><rect x="1780" y="1198" width="2" height="2" fill="#000"/><rect x="1798" y="1198" width="2" height="2" fill="#000"/><rect x="1816" y="1198" width="2" height="2" fill="#000"/><rect x="1834" y="1198" width="2" height="2" fill="#000"/><rect x="1852" y="1198" width="2" height="2" fill="#000"/><rect x="1870" y="1198" width="2" height="2" fill="#000"/><rect x="1888" y="1198" width="2" height="2" fill="#000"/><rect x="1906" y="1198" width="2" height="2" fill="#000"/><rect x="1924" y="1198" width="2" height="2" fill="#000"/><rect x="1942" y="1198" width="2" height="2" fill="#000"/><rect x="1960" y="1198" width="2" height="2" fill="#000"/><rect x="1978" y="1198" width="2" height="2" fill="#000"/><rect x="1996" y="1198" width="2" height="2" fill="#000"/><rect x="2014" y="1198" width="2" height="2" fill="#000"/><rect x="2032" y="1198" width="2" height="2" fill="#000"/><rect x="2050" y="1198" width="2" height="2" fill="#000"/><rect x="2068" y="1198" width="2" height="2" fill="#000"/><rect x="2086" y="1198" width="2" height="2" fill="#000"/><rect x="2104" y="1198" width="2" height="2" fill="#000"/><rect x="2122" y="1198" width="2" height="2" fill="#000"/><rect x="2140" y="1198" width="2" height="2" fill="#000"/><rect x="2158" y="1198" width="2" height="2" fill="#000"/><rect x="2176" y="1198" width="2" height="2" fill="#000"/><rect x="2194" y="1198" width="2" height="2" fill="#000"/><rect x="2212" y="1198" width="2" height="2" fill="#000"/><rect x="2230" y="1198" width="2" height="2" fill="#000"/><rect x="2248" y="1198" width="2" height="2" fill="#000"/><rect x="2266" y="1198" width="2" height="2" fill="#000"/><rect x="2284" y="1198" width="2" height="2" fill="#000"/><rect x="2302" y="1198" width="2" height="2" fill="#000"/><rect x="2320" y="1198" width="2" height="2" fill="#000"/><rect x="2338" y="1198" width="2" height="2" fill="#000"/><rect x="2356" y="1198" width="2" height="2" fill="#000"/><rect x="2374" y="1198" width="2" height="2" fill="#000"/><rect x="2392" y="1198" width="2" height="2" fill="#000"/><rect x="2410" y="1198" width="2" height="2" fill="#000"/><rect x="2428" y="1198" width="2" height="2" fill="#000"/><rect x="2446" y="1198" width="2" height="2" fill="#000"/><rect x="2464" y="1198" width="2" height="2" fill="#000"/><rect x="2482" y="1198" width="2" height="2" fill="#000"/><rect x="2500" y="1198" width="2" height="2" fill="#000"/><rect x="2518" y="1198" width="2" height="2" fill="#000"/><rect x="2536" y="1198" width="2" height="2" fill="#000"/><rect x="2554" y="1198" width="2" height="2" fill="#000"/><rect x="2572" y="1198" width="2" height="2" fill="#000"/><rect x="2590" y="1198" width="2" height="2" fill="#000"/><rect x="2608" y="1198" width="2" height="2" fill="#000"/><rect x="2626" y="1198" width="2" height="2" fill="#000"/><rect x="2644" y="1198" width="2" height="2" fill="#000"/><rect x="2662" y="1198" width="2" height="2" fill="#000"/><rect x="2680" y="1198" width="2" height="2" fill="#000"/><rect x="2698" y="1198" width="2" height="2" fill="#000"/><rect x="2716" y="1198" width="2" height="2" fill="#000"/><rect x="2734" y="1198" width="2" height="2" fill="#000"/><rect x="2734" y="1198" width="2" height="2" fill="#000"/><rect x="232" y="1094" width="2" height="2" fill="#000"/><rect x="250" y="1094" width="2" height="2" fill="#000"/><rect x="268" y="1094" width="2" height="2" fill="#000"/><rect x="286" y="1094" width="2" height="2" fill="#000"/><rect x="304" y="1094" width="2" height="2" fill="#000"/><rect x="322" y="1094" width="2" height="2" fill="#000"/><rect x="340" y="1094" width="2" height="2" fill="#000"/><rect x="358" y="1094" width="2" height="2" fill="#000"/><rect x="376" y="1094" width="2" height="2" fill="#000"/><rect x="394" y="1094" width="2" height="2" fill="#000"/><rect x="412" y="1094" width="2" height="2" fill="#000"/><rect x="430" y="1094" width="2" height="2" fill="#000"/><rect x="448" y="1094" width="2" height="2" fill="#000"/><rect x="466" y="1094" width="2" height="2" fill="#000"/><rect x="484" y="1094" width="2" height="2" fill="#000"/><rect x="502" y="1094" width="2" height="2" fill="#000"/><rect x="520" y="1094" width="2" height="2" fill="#000"/><rect x="538" y="1094" width="2" height="2" fill="#000"/><rect x="556" y="1094" width="2" height="2" fill="#000"/><rect x="574" y="1094" width="2" height="2" fill="#000"/><rect x="592" y="1094" width="2" height="2" fill="#000"/><rect x="610" y="1094" width="2" height="2" fill="#000"/><rect x="628" y="1094" width="2" height="2" fill="#000"/><rect x="646" y="1094" width="2" height="2" fill="#000"/><rect x="664" y="1094" width="2" height="2" fill="#000"/><rect x="682" y="1094" width="2" height="2" fill="#000"/><rect x="700" y="1094" width="2" height="2" fill="#000"/><rect x="718" y="1094" width="2" height="2" fill="#000"/><rect x="736" y="1094" width="2" height="2" fill="#000"/><rect x="754" y="1094" width="2" height="2" fill="#000"/><rect x="772" y="1094" width="2" height="2" fill="#000"/><rect x="790" y="1094" width="2" height="2" fill="#000"/><rect x="808" y="1094" width="2" height="2" fill="#000"/><rect x="826" y="1094" width="2" height="2" fill="#000"/><rect x="844" y="1094" width="2" height="2" fill="#000"/><rect x="862" y="1094" width="2" height="2" fill="#000"/><rect x="880" y="1094" width="2" height="2" fill="#000"/><rect x="898" y="1094" width="2" height="2" fill="#000"/><rect x="916" y="1094" width="2" height="2" fill="#000"/><rect x="934" y="1094" width="2" height="2" fill="#000"/><rect x="952" y="1094" width="2" height="2" fill="#000"/><rect x="970" y="1094" width="2" height="2" fill="#000"/><rect x="988" y="1094" width="2" height="2" fill="#000"/><rect x="1006" y="1094" width="2" height="2" fill="#000"/><rect x="1024" y="1094" width="2" height="2" fill="#000"/><rect x="1042" y="1094" width="2" height="2" fill="#000"/><rect x="1060" y="1094" width="2" height="2" fill="#000"/><rect x="1078" y="1094" width="2" height="2" fill="#000"/><rect x="1096" y="1094" width="2" height="2" fill="#000"/><rect x="1114" y="1094" width="2" height="2" fill="#000"/><rect x="1132" y="1094" width="2" height="2" fill="#000"/><rect x="1150" y="1094" width="2" height="2" fill="#000"/><rect x="1168" y="1094" width="2" height="2" fill="#000"/><rect x="1186" y="1094" width="2" height="2" fill="#000"/><rect x="1204" y="1094" width="2" height="2" fill="#000"/><rect x="1222" y="1094" width="2" height="2" fill="#000"/><rect x="1240" y="1094" width="2" height="2" fill="#000"/><rect x="1258" y="1094" width="2" height="2" fill="#000"/><rect x="1276" y="1094" width="2" height="2" fill="#000"/><rect x="1294" y="1094" width="2" height="2" fill="#000"/><rect x="1312" y="1094" width="2" height="2" fill="#000"/><rect x="1330" y="1094" width="2" height="2" fill="#000"/><rect x="1348" y="1094" width="2" height="2" fill="#000"/><rect x="1366" y="1094" width="2" height="2" fill="#000"/><rect x="1384" y="1094" width="2" height="2" fill="#000"/><rect x="1402" y="1094" width="2" height="2" fill="#000"/><rect x="1420" y="1094" width="2" height="2" fill="#000"/><rect x="1438" y="1094" width="2" height="2" fill="#000"/><rect x="1456" y="1094" width="2" height="2" fill="#000"/><rect x="1474" y="1094" width="2" height="2" fill="#000"/><rect x="1492" y="1094" width="2" height="2" fill="#000"/><rect x="1510" y="1094" width="2" height="2" fill="#000"/><rect x="1528" y="1094" width="2" height="2" fill="#000"/><rect x="1546" y="1094" width="2" height="2" fill="#000"/><rect x="1564" y="1094" width="2" height="2" fill="#000"/><rect x="1582" y="1094" width="2" height="2" fill="#000"/><rect x="1600" y="1094" width="2" height="2" fill="#000"/><rect x="1618" y="1094" width="2" height="2" fill="#000"/><rect x="1636" y="1094" width="2" height="2" fill="#000"/><rect x="1654" y="1094" width="2" height="2" fill="#000"/><rect x="1672" y="1094" width="2" height="2" fill="#000"/><rect x="1690" y="1094" width="2" height="2" fill="#000"/><rect x="1708" y="1094" width="2" height="2" fill="#000"/><rect x="1726" y="1094" width="2" height="2" fill="#000"/><rect x="1744" y="1094" width="2" height="2" fill="#000"/><rect x="1762" y="1094" width="2" height="2" fill="#000"/><rect x="1780" y="1094" width="2" height="2" fill="#000"/><rect x="1798" y="1094" width="2" height="2" fill="#000"/><rect x="1816" y="1094" width="2" height="2" fill="#000"/><rect x="1834" y="1094" width="2" height="2" fill="#000"/><rect x="1852" y="1094" width="2" height="2" fill="#000"/><rect x="1870" y="1094" width="2" height="2" fill="#000"/><rect x="1888" y="1094" width="2" height="2" fill="#000"/><rect x="1906" y="1094" width="2" height="2" fill="#000"/><rect x="1924" y="1094" width="2" height="2" fill="#000"/><rect x="1942" y="1094" width="2" height="2" fill="#000"/><rect x="1960" y="1094" width="2" height="2" fill="#000"/><rect x="1978" y="1094" width="2" height="2" fill="#000"/><rect x="1996" y="1094" width="2" height="2" fill="#000"/><rect x="2014" y="1094" width="2" height="2" fill="#000"/><rect x="2032" y="1094" width="2" height="2" fill="#000"/><rect x="2050" y="1094" width="2" height="2" fill="#000"/><rect x="2068" y="1094" width="2" height="2" fill="#000"/><rect x="2086" y="1094" width="2" height="2" fill="#000"/><rect x="2104" y="1094" width="2" height="2" fill="#000"/><rect x="2122" y="1094" width="2" height="2" fill="#000"/><rect x="2140" y="1094" width="2" height="2" fill="#000"/><rect x="2158" y="1094" width="2" height="2" fill="#000"/><rect x="2176" y="1094" width="2" height="2" fill="#000"/><rect x="2194" y="1094" width="2" height="2" fill="#000"/><rect x="2212" y="1094" width="2" height="2" fill="#000"/><rect x="2230" y="1094" width="2" height="2" fill="#000"/><rect x="2248" y="1094" width="2" height="2" fill="#000"/><rect x="2266" y="1094" width="2" height="2" fill="#000"/><rect x="2284" y="1094" width="2" height="2" fill="#000"/><rect x="2302" y="1094" width="2" height="2" fill="#000"/><rect x="2320" y="1094" width="2" height="2" fill="#000"/><rect x="2338" y="1094" width="2" height="2" fill="#000"/><rect x="2356" y="1094" width="2" height="2" fill="#000"/><rect x="2374" y="1094" width="2" height="2" fill="#000"/><rect x="2392" y="1094" width="2" height="2" fill="#000"/><rect x="2410" y="1094" width="2" height="2" fill="#000"/><rect x="2428" y="1094" width="2" height="2" fill="#000"/><rect x="2446" y="1094" width="2" height="2" fill="#000"/><rect x="2464" y="1094" width="2" height="2" fill="#000"/><rect x="2482" y="1094" width="2" height="2" fill="#000"/><rect x="2500" y="1094" width="2" height="2" fill="#000"/><rect x="2518" y="1094" width="2" height="2" fill="#000"/><rect x="2536" y="1094" width="2" height="2" fill="#000"/><rect x="2554" y="1094" width="2" height="2" fill="#000"/><rect x="2572" y="1094" width="2" height="2" fill="#000"/><rect x="2590" y="1094" width="2" height="2" fill="#000"/><rect x="2608" y="1094" width="2" height="2" fill="#000"/><rect x="2626" y="1094" width="2" height="2" fill="#000"/><rect x="2644" y="1094" width="2" height="2" fill="#000"/><rect x="2662" y="1094" width="2" height="2" fill="#000"/><rect x="2680" y="1094" width="2" height="2" fill="#000"/><rect x="2698" y="1094" width="2" height="2" fill="#000"/><rect x="2716" y="1094" width="2" height="2" fill="#000"/><rect x="2734" y="1094" width="2" height="2" fill="#000"/><rect x="2734" y="1094" width="2" height="2" fill="#000"/><rect x="232" y="990" width="2" height="2" fill="#000"/><rect x="250" y="990" width="2" height="2" fill="#000"/><rect x="268" y="990" width="2" height="2" fill="#000"/><rect x="286" y="990" width="2" height="2" fill="#000"/><rect x="304" y="990" width="2" height="2" fill="#000"/><rect x="322" y="990" width="2" height="2" fill="#000"/><rect x="340" y="990" width="2" height="2" fill="#000"/><rect x="358" y="990" width="2" height="2" fill="#000"/><rect x="376" y="990" width="2" height="2" fill="#000"/><rect x="394" y="990" width="2" height="2" fill="#000"/><rect x="412" y="990" width="2" height="2" fill="#000"/><rect x="430" y="990" width="2" height="2" fill="#000"/><rect x="448" y="990" width="2" height="2" fill="#000"/><rect x="466" y="990" width="2" height="2" fill="#000"/><rect x="484" y="990" width="2" height="2" fill="#000"/><rect x="502" y="990" width="2" height="2" fill="#000"/><rect x="520" y="990" width="2" height="2" fill="#000"/><rect x="538" y="990" width="2" height="2" fill="#000"/><rect x="556" y="990" width="2" height="2" fill="#000"/><rect x="574" y="990" width="2" height="2" fill="#000"/><rect x="592" y="990" width="2" height="2" fill="#000"/><rect x="610" y="990" width="2" height="2" fill="#000"/><rect x="628" y="990" width="2" height="2" fill="#000"/><rect x="646" y="990" width="2" height="2" fill="#000"/><rect x="664" y="990" width="2" height="2" fill="#000"/><rect x="682" y="990" width="2" height="2" fill="#000"/><rect x="700" y="990" width="2" height="2" fill="#000"/><rect x="718" y="990" width="2" height="2" fill="#000"/><rect x="736" y="990" width="2" height="2" fill="#000"/><rect x="754" y="990" width="2" height="2" fill="#000"/><rect x="772" y="990" width="2" height="2" fill="#000"/><rect x="790" y="990" width="2" height="2" fill="#000"/><rect x="808" y="990" width="2" height="2" fill="#000"/><rect x="826" y="990" width="2" height="2" fill="#000"/><rect x="844" y="990" width="2" height="2" fill="#000"/><rect x="862" y="990" width="2" height="2" fill="#000"/><rect x="880" y="990" width="2" height="2" fill="#000"/><rect x="898" y="990" width="2" height="2" fill="#000"/><rect x="916" y="990" width="2" height="2" fill="#000"/><rect x="934" y="990" width="2" height="2" fill="#000"/><rect x="952" y="990" width="2" height="2" fill="#000"/><rect x="970" y="990" width="2" height="2" fill="#000"/><rect x="988" y="990" width="2" height="2" fill="#000"/><rect x="1006" y="990" width="2" height="2" fill="#000"/><rect x="1024" y="990" width="2" height="2" fill="#000"/><rect x="1042" y="990" width="2" height="2" fill="#000"/><rect x="1060" y="990" width="2" height="2" fill="#000"/><rect x="1078" y="990" width="2" height="2" fill="#000"/><rect x="1096" y="990" width="2" height="2" fill="#000"/><rect x="1114" y="990" width="2" height="2" fill="#000"/><rect x="1132" y="990" width="2" height="2" fill="#000"/><rect x="1150" y="990" width="2" height="2" fill="#000"/><rect x="1168" y="990" width="2" height="2" fill="#000"/><rect x="1186" y="990" width="2" height="2" fill="#000"/><rect x="1204" y="990" width="2" height="2" fill="#000"/><rect x="1222" y="990" width="2" height="2" fill="#000"/><rect x="1240" y="990" width="2" height="2" fill="#000"/><rect x="1258" y="990" width="2" height="2" fill="#000"/><rect x="1276" y="990" width="2" height="2" fill="#000"/><rect x="1294" y="990" width="2" height="2" fill="#000"/><rect x="1312" y="990" width="2" height="2" fill="#000"/><rect x="1330" y="990" width="2" height="2" fill="#000"/><rect x="1348" y="990" width="2" height="2" fill="#000"/><rect x="1366" y="990" width="2" height="2" fill="#000"/><rect x="1384" y="990" width="2" height="2" fill="#000"/><rect x="1402" y="990" width="2" height="2" fill="#000"/><rect x="1420" y="990" width="2" height="2" fill="#000"/><rect x="1438" y="990" width="2" height="2" fill="#000"/><rect x="1456" y="990" width="2" height="2" fill="#000"/><rect x="1474" y="990" width="2" height="2" fill="#000"/><rect x="1492" y="990" width="2" height="2" fill="#000"/><rect x="1510" y="990" width="2" height="2" fill="#000"/><rect x="1528" y="990" width="2" height="2" fill="#000"/><rect x="1546" y="990" width="2" height="2" fill="#000"/><rect x="1564" y="990" width="2" height="2" fill="#000"/><rect x="1582" y="990" width="2" height="2" fill="#000"/><rect x="1600" y="990" width="2" height="2" fill="#000"/><rect x="1618" y="990" width="2" height="2" fill="#000"/><rect x="1636" y="990" width="2" height="2" fill="#000"/><rect x="1654" y="990" width="2" height="2" fill="#000"/><rect x="1672" y="990" width="2" height="2" fill="#000"/><rect x="1690" y="990" width="2" height="2" fill="#000"/><rect x="1708" y="990" width="2" height="2" fill="#000"/><rect x="1726" y="990" width="2" height="2" fill="#000"/><rect x="1744" y="990" width="2" height="2" fill="#000"/><rect x="1762" y="990" width="2" height="2" fill="#000"/><rect x="1780" y="990" width="2" height="2" fill="#000"/><rect x="1798" y="990" width="2" height="2" fill="#000"/><rect x="1816" y="990" width="2" height="2" fill="#000"/><rect x="1834" y="990" width="2" height="2" fill="#000"/><rect x="1852" y="990" width="2" height="2" fill="#000"/><rect x="1870" y="990" width="2" height="2" fill="#000"/><rect x="1888" y="990" width="2" height="2" fill="#000"/><rect x="1906" y="990" width="2" height="2" fill="#000"/><rect x="1924" y="990" width="2" height="2" fill="#000"/><rect x="1942" y="990" width="2" height="2" fill="#000"/><rect x="1960" y="990" width="2" height="2" fill="#000"/><rect x="1978" y="990" width="2" height="2" fill="#000"/><rect x="1996" y="990" width="2" height="2" fill="#000"/><rect x="2014" y="990" width="2" height="2" fill="#000"/><rect x="2032" y="990" width="2" height="2" fill="#000"/><rect x="2050" y="990" width="2" height="2" fill="#000"/><rect x="2068" y="990" width="2" height="2" fill="#000"/><rect x="2086" y="990" width="2" height="2" fill="#000"/><rect x="2104" y="990" width="2" height="2" fill="#000"/><rect x="2122" y="990" width="2" height="2" fill="#000"/><rect x="2140" y="990" width="2" height="2" fill="#000"/><rect x="2158" y="990" width="2" height="2" fill="#000"/><rect x="2176" y="990" width="2" height="2" fill="#000"/><rect x="2194" y="990" width="2" height="2" fill="#000"/><rect x="2212" y="990" width="2" height="2" fill="#000"/><rect x="2230" y="990" width="2" height="2" fill="#000"/><rect x="2248" y="990" width="2" height="2" fill="#000"/><rect x="2266" y="990" width="2" height="2" fill="#000"/><rect x="2284" y="990" width="2" height="2" fill="#000"/><rect x="2302" y="990" width="2" height="2" fill="#000"/><rect x="2320" y="990" width="2" height="2" fill="#000"/><rect x="2338" y="990" width="2" height="2" fill="#000"/><rect x="2356" y="990" width="2" height="2" fill="#000"/><rect x="2374" y="990" width="2" height="2" fill="#000"/><rect x="2392" y="990" width="2" height="2" fill="#000"/><rect x="2410" y="990" width="2" height="2" fill="#000"/><rect x="2428" y="990" width="2" height="2" fill="#000"/><rect x="2446" y="990" width="2" height="2" fill="#000"/><rect x="2464" y="990" width="2" height="2" fill="#000"/><rect x="2482" y="990" width="2" height="2" fill="#000"/><rect x="2500" y="990" width="2" height="2" fill="#000"/><rect x="2518" y="990" width="2" height="2" fill="#000"/><rect x="2536" y="990" width="2" height="2" fill="#000"/><rect x="2554" y="990" width="2" height="2" fill="#000"/><rect x="2572" y="990" width="2" height="2" fill="#000"/><rect x="2590" y="990" width="2" height="2" fill="#000"/><rect x="2608" y="990" width="2" height="2" fill="#000"/><rect x="2626" y="990" width="2" height="2" fill="#000"/><rect x="2644" y="990" width="2" height="2" fill="#000"/><rect x="2662" y="990" width="2" height="2" fill="#000"/><rect x="2680" y="990" width="2" height="2" fill="#000"/><rect x="2698" y="990" width="2" height="2" fill="#000"/><rect x="2716" y="990" width="2" height="2" fill="#000"/><rect x="2734" y="990" width="2" height="2" fill="#000"/><rect x="2734" y="990" width="2" height="2" fill="#000"/><rect x="232" y="888" width="2" height="2" fill="#000"/><rect x="250" y="888" width="2" height="2" fill="#000"/><rect x="268" y="888" width="2" height="2" fill="#000"/><rect x="286" y="888" width="2" height="2" fill="#000"/><rect x="304" y="888" width="2" height="2" fill="#000"/><rect x="322" y="888" width="2" height="2" fill="#000"/><rect x="340" y="888" width="2" height="2" fill="#000"/><rect x="358" y="888" width="2" height="2" fill="#000"/><rect x="376" y="888" width="2" height="2" fill="#000"/><rect x="394" y="888" width="2" height="2" fill="#000"/><rect x="412" y="888" width="2" height="2" fill="#000"/><rect x="430" y="888" width="2" height="2" fill="#000"/><rect x="448" y="888" width="2" height="2" fill="#000"/><rect x="466" y="888" width="2" height="2" fill="#000"/><rect x="484" y="888" width="2" height="2" fill="#000"/><rect x="502" y="888" width="2" height="2" fill="#000"/><rect x="520" y="888" width="2" height="2" fill="#000"/><rect x="538" y="888" width="2" height="2" fill="#000"/><rect x="556" y="888" width="2" height="2" fill="#000"/><rect x="574" y="888" width="2" height="2" fill="#000"/><rect x="592" y="888" width="2" height="2" fill="#000"/><rect x="610" y="888" width="2" height="2" fill="#000"/><rect x="628" y="888" width="2" height="2" fill="#000"/><rect x="646" y="888" width="2" height="2" fill="#000"/><rect x="664" y="888" width="2" height="2" fill="#000"/><rect x="682" y="888" width="2" height="2" fill="#000"/><rect x="700" y="888" width="2" height="2" fill="#000"/><rect x="718" y="888" width="2" height="2" fill="#000"/><rect x="736" y="888" width="2" height="2" fill="#000"/><rect x="754" y="888" width="2" height="2" fill="#000"/><rect x="772" y="888" width="2" height="2" fill="#000"/><rect x="790" y="888" width="2" height="2" fill="#000"/><rect x="808" y="888" width="2" height="2" fill="#000"/><rect x="826" y="888" width="2" height="2" fill="#000"/><rect x="844" y="888" width="2" height="2" fill="#000"/><rect x="862" y="888" width="2" height="2" fill="#000"/><rect x="880" y="888" width="2" height="2" fill="#000"/><rect x="898" y="888" width="2" height="2" fill="#000"/><rect x="916" y="888" width="2" height="2" fill="#000"/><rect x="934" y="888" width="2" height="2" fill="#000"/><rect x="952" y="888" width="2" height="2" fill="#000"/><rect x="970" y="888" width="2" height="2" fill="#000"/><rect x="988" y="888" width="2" height="2" fill="#000"/><rect x="1006" y="888" width="2" height="2" fill="#000"/><rect x="1024" y="888" width="2" height="2" fill="#000"/><rect x="1042" y="888" width="2" height="2" fill="#000"/><rect x="1060" y="888" width="2" height="2" fill="#000"/><rect x="1078" y="888" width="2" height="2" fill="#000"/><rect x="1096" y="888" width="2" height="2" fill="#000"/><rect x="1114" y="888" width="2" height="2" fill="#000"/><rect x="1132" y="888" width="2" height="2" fill="#000"/><rect x="1150" y="888" width="2" height="2" fill="#000"/><rect x="1168" y="888" width="2" height="2" fill="#000"/><rect x="1186" y="888" width="2" height="2" fill="#000"/><rect x="1204" y="888" width="2" height="2" fill="#000"/><rect x="1222" y="888" width="2" height="2" fill="#000"/><rect x="1240" y="888" width="2" height="2" fill="#000"/><rect x="1258" y="888" width="2" height="2" fill="#000"/><rect x="1276" y="888" width="2" height="2" fill="#000"/><rect x="1294" y="888" width="2" height="2" fill="#000"/><rect x="1312" y="888" width="2" height="2" fill="#000"/><rect x="1330" y="888" width="2" height="2" fill="#000"/><rect x="1348" y="888" width="2" height="2" fill="#000"/><rect x="1366" y="888" width="2" height="2" fill="#000"/><rect x="1384" y="888" width="2" height="2" fill="#000"/><rect x="1402" y="888" width="2" height="2" fill="#000"/><rect x="1420" y="888" width="2" height="2" fill="#000"/><rect x="1438" y="888" width="2" height="2" fill="#000"/><rect x="1456" y="888" width="2" height="2" fill="#000"/><rect x="1474" y="888" width="2" height="2" fill="#000"/><rect x="1492" y="888" width="2" height="2" fill="#000"/><rect x="1510" y="888" width="2" height="2" fill="#000"/><rect x="1528" y="888" width="2" height="2" fill="#000"/><rect x="1546" y="888" width="2" height="2" fill="#000"/><rect x="1564" y="888" width="2" height="2" fill="#000"/><rect x="1582" y="888" width="2" height="2" fill="#000"/><rect x="1600" y="888" width="2" height="2" fill="#000"/><rect x="1618" y="888" width="2" height="2" fill="#000"/><rect x="1636" y="888" width="2" height="2" fill="#000"/><rect x="1654" y="888" width="2" height="2" fill="#000"/><rect x="1672" y="888" width="2" height="2" fill="#000"/><rect x="1690" y="888" width="2" height="2" fill="#000"/><rect x="1708" y="888" width="2" height="2" fill="#000"/><rect x="1726" y="888" width="2" height="2" fill="#000"/><rect x="1744" y="888" width="2" height="2" fill="#000"/><rect x="1762" y="888" width="2" height="2" fill="#000"/><rect x="1780" y="888" width="2" height="2" fill="#000"/><rect x="1798" y="888" width="2" height="2" fill="#000"/><rect x="1816" y="888" width="2" height="2" fill="#000"/><rect x="1834" y="888" width="2" height="2" fill="#000"/><rect x="1852" y="888" width="2" height="2" fill="#000"/><rect x="1870" y="888" width="2" height="2" fill="#000"/><rect x="1888" y="888" width="2" height="2" fill="#000"/><rect x="1906" y="888" width="2" height="2" fill="#000"/><rect x="1924" y="888" width="2" height="2" fill="#000"/><rect x="1942" y="888" width="2" height="2" fill="#000"/><rect x="1960" y="888" width="2" height="2" fill="#000"/><rect x="1978" y="888" width="2" height="2" fill="#000"/><rect x="1996" y="888" width="2" height="2" fill="#000"/><rect x="2014" y="888" width="2" height="2" fill="#000"/><rect x="2032" y="888" width="2" height="2" fill="#000"/><rect x="2050" y="888" width="2" height="2" fill="#000"/><rect x="2068" y="888" width="2" height="2" fill="#000"/><rect x="2086" y="888" width="2" height="2" fill="#000"/><rect x="2104" y="888" width="2" height="2" fill="#000"/><rect x="2122" y="888" width="2" height="2" fill="#000"/><rect x="2140" y="888" width="2" height="2" fill="#000"/><rect x="2158" y="888" width="2" height="2" fill="#000"/><rect x="2176" y="888" width="2" height="2" fill="#000"/><rect x="2194" y="888" width="2" height="2" fill="#000"/><rect x="2212" y="888" width="2" height="2" fill="#000"/><rect x="2230" y="888" width="2" height="2" fill="#000"/><rect x="2248" y="888" width="2" height="2" fill="#000"/><rect x="2266" y="888" width="2" height="2" fill="#000"/><rect x="2284" y="888" width="2" height="2" fill="#000"/><rect x="2302" y="888" width="2" height="2" fill="#000"/><rect x="2320" y="888" width="2" height="2" fill="#000"/><rect x="2338" y="888" width="2" height="2" fill="#000"/><rect x="2356" y="888" width="2" height="2" fill="#000"/><rect x="2374" y="888" width="2" height="2" fill="#000"/><rect x="2392" y="888" width="2" height="2" fill="#000"/><rect x="2410" y="888" width="2" height="2" fill="#000"/><rect x="2428" y="888" width="2" height="2" fill="#000"/><rect x="2446" y="888" width="2" height="2" fill="#000"/><rect x="2464" y="888" width="2" height="2" fill="#000"/><rect x="2482" y="888" width="2" height="2" fill="#000"/><rect x="2500" y="888" width="2" height="2" fill="#000"/><rect x="2518" y="888" width="2" height="2" fill="#000"/><rect x="2536" y="888" width="2" height="2" fill="#000"/><rect x="2554" y="888" width="2" height="2" fill="#000"/><rect x="2572" y="888" width="2" height="2" fill="#000"/><rect x="2590" y="888" width="2" height="2" fill="#000"/><rect x="2608" y="888" width="2" height="2" fill="#000"/><rect x="2626" y="888" width="2" height="2" fill="#000"/><rect x="2644" y="888" width="2" height="2" fill="#000"/><rect x="2662" y="888" width="2" height="2" fill="#000"/><rect x="2680" y="888" width="2" height="2" fill="#000"/><rect x="2698" y="888" width="2" height="2" fill="#000"/><rect x="2716" y="888" width="2" height="2" fill="#000"/><rect x="2734" y="888" width="2" height="2" fill="#000"/><rect x="2734" y="888" width="2" height="2" fill="#000"/><rect x="232" y="784" width="2" height="2" fill="#000"/><rect x="250" y="784" width="2" height="2" fill="#000"/><rect x="268" y="784" width="2" height="2" fill="#000"/><rect x="286" y="784" width="2" height="2" fill="#000"/><rect x="304" y="784" width="2" height="2" fill="#000"/><rect x="322" y="784" width="2" height="2" fill="#000"/><rect x="340" y="784" width="2" height="2" fill="#000"/><rect x="358" y="784" width="2" height="2" fill="#000"/><rect x="376" y="784" width="2" height="2" fill="#000"/><rect x="394" y="784" width="2" height="2" fill="#000"/><rect x="412" y="784" width="2" height="2" fill="#000"/><rect x="430" y="784" width="2" height="2" fill="#000"/><rect x="448" y="784" width="2" height="2" fill="#000"/><rect x="466" y="784" width="2" height="2" fill="#000"/><rect x="484" y="784" width="2" height="2" fill="#000"/><rect x="502" y="784" width="2" height="2" fill="#000"/><rect x="520" y="784" width="2" height="2" fill="#000"/><rect x="538" y="784" width="2" height="2" fill="#000"/><rect x="556" y="784" width="2" height="2" fill="#000"/><rect x="574" y="784" width="2" height="2" fill="#000"/><rect x="592" y="784" width="2" height="2" fill="#000"/><rect x="610" y="784" width="2" height="2" fill="#000"/><rect x="628" y="784" width="2" height="2" fill="#000"/><rect x="646" y="784" width="2" height="2" fill="#000"/><rect x="664" y="784" width="2" height="2" fill="#000"/><rect x="682" y="784" width="2" height="2" fill="#000"/><rect x="700" y="784" width="2" height="2" fill="#000"/><rect x="718" y="784" width="2" height="2" fill="#000"/><rect x="736" y="784" width="2" height="2" fill="#000"/><rect x="754" y="784" width="2" height="2" fill="#000"/><rect x="772" y="784" width="2" height="2" fill="#000"/><rect x="790" y="784" width="2" height="2" fill="#000"/><rect x="808" y="784" width="2" height="2" fill="#000"/><rect x="826" y="784" width="2" height="2" fill="#000"/><rect x="844" y="784" width="2" height="2" fill="#000"/><rect x="862" y="784" width="2" height="2" fill="#000"/><rect x="880" y="784" width="2" height="2" fill="#000"/><rect x="898" y="784" width="2" height="2" fill="#000"/><rect x="916" y="784" width="2" height="2" fill="#000"/><rect x="934" y="784" width="2" height="2" fill="#000"/><rect x="952" y="784" width="2" height="2" fill="#000"/><rect x="970" y="784" width="2" height="2" fill="#000"/><rect x="988" y="784" width="2" height="2" fill="#000"/><rect x="1006" y="784" width="2" height="2" fill="#000"/><rect x="1024" y="784" width="2" height="2" fill="#000"/><rect x="1042" y="784" width="2" height="2" fill="#000"/><rect x="1060" y="784" width="2" height="2" fill="#000"/><rect x="1078" y="784" width="2" height="2" fill="#000"/><rect x="1096" y="784" width="2" height="2" fill="#000"/><rect x="1114" y="784" width="2" height="2" fill="#000"/><rect x="1132" y="784" width="2" height="2" fill="#000"/><rect x="1150" y="784" width="2" height="2" fill="#000"/><rect x="1168" y="784" width="2" height="2" fill="#000"/><rect x="1186" y="784" width="2" height="2" fill="#000"/><rect x="1204" y="784" width="2" height="2" fill="#000"/><rect x="1222" y="784" width="2" height="2" fill="#000"/><rect x="1240" y="784" width="2" height="2" fill="#000"/><rect x="1258" y="784" width="2" height="2" fill="#000"/><rect x="1276" y="784" width="2" height="2" fill="#000"/><rect x="1294" y="784" width="2" height="2" fill="#000"/><rect x="1312" y="784" width="2" height="2" fill="#000"/><rect x="1330" y="784" width="2" height="2" fill="#000"/><rect x="1348" y="784" width="2" height="2" fill="#000"/><rect x="1366" y="784" width="2" height="2" fill="#000"/><rect x="1384" y="784" width="2" height="2" fill="#000"/><rect x="1402" y="784" width="2" height="2" fill="#000"/><rect x="1420" y="784" width="2" height="2" fill="#000"/><rect x="1438" y="784" width="2" height="2" fill="#000"/><rect x="1456" y="784" width="2" height="2" fill="#000"/><rect x="1474" y="784" width="2" height="2" fill="#000"/><rect x="1492" y="784" width="2" height="2" fill="#000"/><rect x="1510" y="784" width="2" height="2" fill="#000"/><rect x="1528" y="784" width="2" height="2" fill="#000"/><rect x="1546" y="784" width="2" height="2" fill="#000"/><rect x="1564" y="784" width="2" height="2" fill="#000"/><rect x="1582" y="784" width="2" height="2" fill="#000"/><rect x="1600" y="784" width="2" height="2" fill="#000"/><rect x="1618" y="784" width="2" height="2" fill="#000"/><rect x="1636" y="784" width="2" height="2" fill="#000"/><rect x="1654" y="784" width="2" height="2" fill="#000"/><rect x="1672" y="784" width="2" height="2" fill="#000"/><rect x="1690" y="784" width="2" height="2" fill="#000"/><rect x="1708" y="784" width="2" height="2" fill="#000"/><rect x="1726" y="784" width="2" height="2" fill="#000"/><rect x="1744" y="784" width="2" height="2" fill="#000"/><rect x="1762" y="784" width="2" height="2" fill="#000"/><rect x="1780" y="784" width="2" height="2" fill="#000"/><rect x="1798" y="784" width="2" height="2" fill="#000"/><rect x="1816" y="784" width="2" height="2" fill="#000"/><rect x="1834" y="784" width="2" height="2" fill="#000"/><rect x="1852" y="784" width="2" height="2" fill="#000"/><rect x="1870" y="784" width="2" height="2" fill="#000"/><rect x="1888" y="784" width="2" height="2" fill="#000"/><rect x="1906" y="784" width="2" height="2" fill="#000"/><rect x="1924" y="784" width="2" height="2" fill="#000"/><rect x="1942" y="784" width="2" height="2" fill="#000"/><rect x="1960" y="784" width="2" height="2" fill="#000"/><rect x="1978" y="784" width="2" height="2" fill="#000"/><rect x="1996" y="784" width="2" height="2" fill="#000"/><rect x="2014" y="784" width="2" height="2" fill="#000"/><rect x="2032" y="784" width="2" height="2" fill="#000"/><rect x="2050" y="784" width="2" height="2" fill="#000"/><rect x="2068" y="784" width="2" height="2" fill="#000"/><rect x="2086" y="784" width="2" height="2" fill="#000"/><rect x="2104" y="784" width="2" height="2" fill="#000"/><rect x="2122" y="784" width="2" height="2" fill="#000"/><rect x="2140" y="784" width="2" height="2" fill="#000"/><rect x="2158" y="784" width="2" height="2" fill="#000"/><rect x="2176" y="784" width="2" height="2" fill="#000"/><rect x="2194" y="784" width="2" height="2" fill="#000"/><rect x="2212" y="784" width="2" height="2" fill="#000"/><rect x="2230" y="784" width="2" height="2" fill="#000"/><rect x="2248" y="784" width="2" height="2" fill="#000"/><rect x="2266" y="784" width="2" height="2" fill="#000"/><rect x="2284" y="784" width="2" height="2" fill="#000"/><rect x="2302" y="784" width="2" height="2" fill="#000"/><rect x="2320" y="784" width="2" height="2" fill="#000"/><rect x="2338" y="784" width="2" height="2" fill="#000"/><rect x="2356" y="784" width="2" height="2" fill="#000"/><rect x="2374" y="784" width="2" height="2" fill="#000"/><rect x="2392" y="784" width="2" height="2" fill="#000"/><rect x="2410" y="784" width="2" height="2" fill="#000"/><rect x="2428" y="784" width="2" height="2" fill="#000"/><rect x="2446" y="784" width="2" height="2" fill="#000"/><rect x="2464" y="784" width="2" height="2" fill="#000"/><rect x="2482" y="784" width="2" height="2" fill="#000"/><rect x="2500" y="784" width="2" height="2" fill="#000"/><rect x="2518" y="784" width="2" height="2" fill="#000"/><rect x="2536" y="784" width="2" height="2" fill="#000"/><rect x="2554" y="784" width="2" height="2" fill="#000"/><rect x="2572" y="784" width="2" height="2" fill="#000"/><rect x="2590" y="784" width="2" height="2" fill="#000"/><rect x="2608" y="784" width="2" height="2" fill="#000"/><rect x="2626" y="784" width="2" height="2" fill="#000"/><rect x="2644" y="784" width="2" height="2" fill="#000"/><rect x="2662" y="784" width="2" height="2" fill="#000"/><rect x="2680" y="784" width="2" height="2" fill="#000"/><rect x="2698" y="784" width="2" height="2" fill="#000"/><rect x="2716" y="784" width="2" height="2" fill="#000"/><rect x="2734" y="784" width="2" height="2" fill="#000"/><rect x="2734" y="784" width="2" height="2" fill="#000"/><rect x="232" y="680" width="2" height="2" fill="#000"/><rect x="250" y="680" width="2" height="2" fill="#000"/><rect x="268" y="680" width="2" height="2" fill="#000"/><rect x="286" y="680" width="2" height="2" fill="#000"/><rect x="304" y="680" width="2" height="2" fill="#000"/><rect x="322" y="680" width="2" height="2" fill="#000"/><rect x="340" y="680" width="2" height="2" fill="#000"/><rect x="358" y="680" width="2" height="2" fill="#000"/><rect x="376" y="680" width="2" height="2" fill="#000"/><rect x="394" y="680" width="2" height="2" fill="#000"/><rect x="412" y="680" width="2" height="2" fill="#000"/><rect x="430" y="680" width="2" height="2" fill="#000"/><rect x="448" y="680" width="2" height="2" fill="#000"/><rect x="466" y="680" width="2" height="2" fill="#000"/><rect x="484" y="680" width="2" height="2" fill="#000"/><rect x="502" y="680" width="2" height="2" fill="#000"/><rect x="520" y="680" width="2" height="2" fill="#000"/><rect x="538" y="680" width="2" height="2" fill="#000"/><rect x="556" y="680" width="2" height="2" fill="#000"/><rect x="574" y="680" width="2" height="2" fill="#000"/><rect x="592" y="680" width="2" height="2" fill="#000"/><rect x="610" y="680" width="2" height="2" fill="#000"/><rect x="628" y="680" width="2" height="2" fill="#000"/><rect x="646" y="680" width="2" height="2" fill="#000"/><rect x="664" y="680" width="2" height="2" fill="#000"/><rect x="682" y="680" width="2" height="2" fill="#000"/><rect x="700" y="680" width="2" height="2" fill="#000"/><rect x="718" y="680" width="2" height="2" fill="#000"/><rect x="736" y="680" width="2" height="2" fill="#000"/><rect x="754" y="680" width="2" height="2" fill="#000"/><rect x="772" y="680" width="2" height="2" fill="#000"/><rect x="790" y="680" width="2" height="2" fill="#000"/><rect x="808" y="680" width="2" height="2" fill="#000"/><rect x="826" y="680" width="2" height="2" fill="#000"/><rect x="844" y="680" width="2" height="2" fill="#000"/><rect x="862" y="680" width="2" height="2" fill="#000"/><rect x="880" y="680" width="2" height="2" fill="#000"/><rect x="898" y="680" width="2" height="2" fill="#000"/><rect x="916" y="680" width="2" height="2" fill="#000"/><rect x="934" y="680" width="2" height="2" fill="#000"/><rect x="952" y="680" width="2" height="2" fill="#000"/><rect x="970" y="680" width="2" height="2" fill="#000"/><rect x="988" y="680" width="2" height="2" fill="#000"/><rect x="1006" y="680" width="2" height="2" fill="#000"/><rect x="1024" y="680" width="2" height="2" fill="#000"/><rect x="1042" y="680" width="2" height="2" fill="#000"/><rect x="1060" y="680" width="2" height="2" fill="#000"/><rect x="1078" y="680" width="2" height="2" fill="#000"/><rect x="1096" y="680" width="2" height="2" fill="#000"/><rect x="1114" y="680" width="2" height="2" fill="#000"/><rect x="1132" y="680" width="2" height="2" fill="#000"/><rect x="1150" y="680" width="2" height="2" fill="#000"/><rect x="1168" y="680" width="2" height="2" fill="#000"/><rect x="1186" y="680" width="2" height="2" fill="#000"/><rect x="1204" y="680" width="2" height="2" fill="#000"/><rect x="1222" y="680" width="2" height="2" fill="#000"/><rect x="1240" y="680" width="2" height="2" fill="#000"/><rect x="1258" y="680" width="2" height="2" fill="#000"/><rect x="1276" y="680" width="2" height="2" fill="#000"/><rect x="1294" y="680" width="2" height="2" fill="#000"/><rect x="1312" y="680" width="2" height="2" fill="#000"/><rect x="1330" y="680" width="2" height="2" fill="#000"/><rect x="1348" y="680" width="2" height="2" fill="#000"/><rect x="1366" y="680" width="2" height="2" fill="#000"/><rect x="1384" y="680" width="2" height="2" fill="#000"/><rect x="1402" y="680" width="2" height="2" fill="#000"/><rect x="1420" y="680" width="2" height="2" fill="#000"/><rect x="1438" y="680" width="2" height="2" fill="#000"/><rect x="1456" y="680" width="2" height="2" fill="#000"/><rect x="1474" y="680" width="2" height="2" fill="#000"/><rect x="1492" y="680" width="2" height="2" fill="#000"/><rect x="1510" y="680" width="2" height="2" fill="#000"/><rect x="1528" y="680" width="2" height="2" fill="#000"/><rect x="1546" y="680" width="2" height="2" fill="#000"/><rect x="1564" y="680" width="2" height="2" fill="#000"/><rect x="1582" y="680" width="2" height="2" fill="#000"/><rect x="1600" y="680" width="2" height="2" fill="#000"/><rect x="1618" y="680" width="2" height="2" fill="#000"/><rect x="1636" y="680" width="2" height="2" fill="#000"/><rect x="1654" y="680" width="2" height="2" fill="#000"/><rect x="1672" y="680" width="2" height="2" fill="#000"/><rect x="1690" y="680" width="2" height="2" fill="#000"/><rect x="1708" y="680" width="2" height="2" fill="#000"/><rect x="1726" y="680" width="2" height="2" fill="#000"/><rect x="1744" y="680" width="2" height="2" fill="#000"/><rect x="1762" y="680" width="2" height="2" fill="#000"/><rect x="1780" y="680" width="2" height="2" fill="#000"/><rect x="1798" y="680" width="2" height="2" fill="#000"/><rect x="1816" y="680" width="2" height="2" fill="#000"/><rect x="1834" y="680" width="2" height="2" fill="#000"/><rect x="1852" y="680" width="2" height="2" fill="#000"/><rect x="1870" y="680" width="2" height="2" fill="#000"/><rect x="1888" y="680" width="2" height="2" fill="#000"/><rect x="1906" y="680" width="2" height="2" fill="#000"/><rect x="1924" y="680" width="2" height="2" fill="#000"/><rect x="1942" y="680" width="2" height="2" fill="#000"/><rect x="1960" y="680" width="2" height="2" fill="#000"/><rect x="1978" y="680" width="2" height="2" fill="#000"/><rect x="1996" y="680" width="2" height="2" fill="#000"/><rect x="2014" y="680" width="2" height="2" fill="#000"/><rect x="2032" y="680" width="2" height="2" fill="#000"/><rect x="2050" y="680" width="2" height="2" fill="#000"/><rect x="2068" y="680" width="2" height="2" fill="#000"/><rect x="2086" y="680" width="2" height="2" fill="#000"/><rect x="2104" y="680" width="2" height="2" fill="#000"/><rect x="2122" y="680" width="2" height="2" fill="#000"/><rect x="2140" y="680" width="2" height="2" fill="#000"/><rect x="2158" y="680" width="2" height="2" fill="#000"/><rect x="2176" y="680" width="2" height="2" fill="#000"/><rect x="2194" y="680" width="2" height="2" fill="#000"/><rect x="2212" y="680" width="2" height="2" fill="#000"/><rect x="2230" y="680" width="2" height="2" fill="#000"/><rect x="2248" y="680" width="2" height="2" fill="#000"/><rect x="2266" y="680" width="2" height="2" fill="#000"/><rect x="2284" y="680" width="2" height="2" fill="#000"/><rect x="2302" y="680" width="2" height="2" fill="#000"/><rect x="2320" y="680" width="2" height="2" fill="#000"/><rect x="2338" y="680" width="2" height="2" fill="#000"/><rect x="2356" y="680" width="2" height="2" fill="#000"/><rect x="2374" y="680" width="2" height="2" fill="#000"/><rect x="2392" y="680" width="2" height="2" fill="#000"/><rect x="2410" y="680" width="2" height="2" fill="#000"/><rect x="2428" y="680" width="2" height="2" fill="#000"/><rect x="2446" y="680" width="2" height="2" fill="#000"/><rect x="2464" y="680" width="2" height="2" fill="#000"/><rect x="2482" y="680" width="2" height="2" fill="#000"/><rect x="2500" y="680" width="2" height="2" fill="#000"/><rect x="2518" y="680" width="2" height="2" fill="#000"/><rect x="2536" y="680" width="2" height="2" fill="#000"/><rect x="2554" y="680" width="2" height="2" fill="#000"/><rect x="2572" y="680" width="2" height="2" fill="#000"/><rect x="2590" y="680" width="2" height="2" fill="#000"/><rect x="2608" y="680" width="2" height="2" fill="#000"/><rect x="2626" y="680" width="2" height="2" fill="#000"/><rect x="2644" y="680" width="2" height="2" fill="#000"/><rect x="2662" y="680" width="2" height="2" fill="#000"/><rect x="2680" y="680" width="2" height="2" fill="#000"/><rect x="2698" y="680" width="2" height="2" fill="#000"/><rect x="2716" y="680" width="2" height="2" fill="#000"/><rect x="2734" y="680" width="2" height="2" fill="#000"/><rect x="2734" y="680" width="2" height="2" fill="#000"/><rect x="232" y="576" width="2" height="2" fill="#000"/><rect x="250" y="576" width="2" height="2" fill="#000"/><rect x="268" y="576" width="2" height="2" fill="#000"/><rect x="286" y="576" width="2" height="2" fill="#000"/><rect x="304" y="576" width="2" height="2" fill="#000"/><rect x="322" y="576" width="2" height="2" fill="#000"/><rect x="340" y="576" width="2" height="2" fill="#000"/><rect x="358" y="576" width="2" height="2" fill="#000"/><rect x="376" y="576" width="2" height="2" fill="#000"/><rect x="394" y="576" width="2" height="2" fill="#000"/><rect x="412" y="576" width="2" height="2" fill="#000"/><rect x="430" y="576" width="2" height="2" fill="#000"/><rect x="448" y="576" width="2" height="2" fill="#000"/><rect x="466" y="576" width="2" height="2" fill="#000"/><rect x="484" y="576" width="2" height="2" fill="#000"/><rect x="502" y="576" width="2" height="2" fill="#000"/><rect x="520" y="576" width="2" height="2" fill="#000"/><rect x="538" y="576" width="2" height="2" fill="#000"/><rect x="556" y="576" width="2" height="2" fill="#000"/><rect x="574" y="576" width="2" height="2" fill="#000"/><rect x="592" y="576" width="2" height="2" fill="#000"/><rect x="610" y="576" width="2" height="2" fill="#000"/><rect x="628" y="576" width="2" height="2" fill="#000"/><rect x="646" y="576" width="2" height="2" fill="#000"/><rect x="664" y="576" width="2" height="2" fill="#000"/><rect x="682" y="576" width="2" height="2" fill="#000"/><rect x="700" y="576" width="2" height="2" fill="#000"/><rect x="718" y="576" width="2" height="2" fill="#000"/><rect x="736" y="576" width="2" height="2" fill="#000"/><rect x="754" y="576" width="2" height="2" fill="#000"/><rect x="772" y="576" width="2" height="2" fill="#000"/><rect x="790" y="576" width="2" height="2" fill="#000"/><rect x="808" y="576" width="2" height="2" fill="#000"/><rect x="826" y="576" width="2" height="2" fill="#000"/><rect x="844" y="576" width="2" height="2" fill="#000"/><rect x="862" y="576" width="2" height="2" fill="#000"/><rect x="880" y="576" width="2" height="2" fill="#000"/><rect x="898" y="576" width="2" height="2" fill="#000"/><rect x="916" y="576" width="2" height="2" fill="#000"/><rect x="934" y="576" width="2" height="2" fill="#000"/><rect x="952" y="576" width="2" height="2" fill="#000"/><rect x="970" y="576" width="2" height="2" fill="#000"/><rect x="988" y="576" width="2" height="2" fill="#000"/><rect x="1006" y="576" width="2" height="2" fill="#000"/><rect x="1024" y="576" width="2" height="2" fill="#000"/><rect x="1042" y="576" width="2" height="2" fill="#000"/><rect x="1060" y="576" width="2" height="2" fill="#000"/><rect x="1078" y="576" width="2" height="2" fill="#000"/><rect x="1096" y="576" width="2" height="2" fill="#000"/><rect x="1114" y="576" width="2" height="2" fill="#000"/><rect x="1132" y="576" width="2" height="2" fill="#000"/><rect x="1150" y="576" width="2" height="2" fill="#000"/><rect x="1168" y="576" width="2" height="2" fill="#000"/><rect x="1186" y="576" width="2" height="2" fill="#000"/><rect x="1204" y="576" width="2" height="2" fill="#000"/><rect x="1222" y="576" width="2" height="2" fill="#000"/><rect x="1240" y="576" width="2" height="2" fill="#000"/><rect x="1258" y="576" width="2" height="2" fill="#000"/><rect x="1276" y="576" width="2" height="2" fill="#000"/><rect x="1294" y="576" width="2" height="2" fill="#000"/><rect x="1312" y="576" width="2" height="2" fill="#000"/><rect x="1330" y="576" width="2" height="2" fill="#000"/><rect x="1348" y="576" width="2" height="2" fill="#000"/><rect x="1366" y="576" width="2" height="2" fill="#000"/><rect x="1384" y="576" width="2" height="2" fill="#000"/><rect x="1402" y="576" width="2" height="2" fill="#000"/><rect x="1420" y="576" width="2" height="2" fill="#000"/><rect x="1438" y="576" width="2" height="2" fill="#000"/><rect x="1456" y="576" width="2" height="2" fill="#000"/><rect x="1474" y="576" width="2" height="2" fill="#000"/><rect x="1492" y="576" width="2" height="2" fill="#000"/><rect x="1510" y="576" width="2" height="2" fill="#000"/><rect x="1528" y="576" width="2" height="2" fill="#000"/><rect x="1546" y="576" width="2" height="2" fill="#000"/><rect x="1564" y="576" width="2" height="2" fill="#000"/><rect x="1582" y="576" width="2" height="2" fill="#000"/><rect x="1600" y="576" width="2" height="2" fill="#000"/><rect x="1618" y="576" width="2" height="2" fill="#000"/><rect x="1636" y="576" width="2" height="2" fill="#000"/><rect x="1654" y="576" width="2" height="2" fill="#000"/><rect x="1672" y="576" width="2" height="2" fill="#000"/><rect x="1690" y="576" width="2" height="2" fill="#000"/><rect x="1708" y="576" width="2" height="2" fill="#000"/><rect x="1726" y="576" width="2" height="2" fill="#000"/><rect x="1744" y="576" width="2" height="2" fill="#000"/><rect x="1762" y="576" width="2" height="2" fill="#000"/><rect x="1780" y="576" width="2" height="2" fill="#000"/><rect x="1798" y="576" width="2" height="2" fill="#000"/><rect x="1816" y="576" width="2" height="2" fill="#000"/><rect x="1834" y="576" width="2" height="2" fill="#000"/><rect x="1852" y="576" width="2" height="2" fill="#000"/><rect x="1870" y="576" width="2" height="2" fill="#000"/><rect x="1888" y="576" width="2" height="2" fill="#000"/><rect x="1906" y="576" width="2" height="2" fill="#000"/><rect x="1924" y="576" width="2" height="2" fill="#000"/><rect x="1942" y="576" width="2" height="2" fill="#000"/><rect x="1960" y="576" width="2" height="2" fill="#000"/><rect x="1978" y="576" width="2" height="2" fill="#000"/><rect x="1996" y="576" width="2" height="2" fill="#000"/><rect x="2014" y="576" width="2" height="2" fill="#000"/><rect x="2032" y="576" width="2" height="2" fill="#000"/><rect x="2050" y="576" width="2" height="2" fill="#000"/><rect x="2068" y="576" width="2" height="2" fill="#000"/><rect x="2086" y="576" width="2" height="2" fill="#000"/><rect x="2104" y="576" width="2" height="2" fill="#000"/><rect x="2122" y="576" width="2" height="2" fill="#000"/><rect x="2140" y="576" width="2" height="2" fill="#000"/><rect x="2158" y="576" width="2" height="2" fill="#000"/><rect x="2176" y="576" width="2" height="2" fill="#000"/><rect x="2194" y="576" width="2" height="2" fill="#000"/><rect x="2212" y="576" width="2" height="2" fill="#000"/><rect x="2230" y="576" width="2" height="2" fill="#000"/><rect x="2248" y="576" width="2" height="2" fill="#000"/><rect x="2266" y="576" width="2" height="2" fill="#000"/><rect x="2284" y="576" width="2" height="2" fill="#000"/><rect x="2302" y="576" width="2" height="2" fill="#000"/><rect x="2320" y="576" width="2" height="2" fill="#000"/><rect x="2338" y="576" width="2" height="2" fill="#000"/><rect x="2356" y="576" width="2" height="2" fill="#000"/><rect x="2374" y="576" width="2" height="2" fill="#000"/><rect x="2392" y="576" width="2" height="2" fill="#000"/><rect x="2410" y="576" width="2" height="2" fill="#000"/><rect x="2428" y="576" width="2" height="2" fill="#000"/><rect x="2446" y="576" width="2" height="2" fill="#000"/><rect x="2464" y="576" width="2" height="2" fill="#000"/><rect x="2482" y="576" width="2" height="2" fill="#000"/><rect x="2500" y="576" width="2" height="2" fill="#000"/><rect x="2518" y="576" width="2" height="2" fill="#000"/><rect x="2536" y="576" width="2" height="2" fill="#000"/><rect x="2554" y="576" width="2" height="2" fill="#000"/><rect x="2572" y="576" width="2" height="2" fill="#000"/><rect x="2590" y="576" width="2" height="2" fill="#000"/><rect x="2608" y="576" width="2" height="2" fill="#000"/><rect x="2626" y="576" width="2" height="2" fill="#000"/><rect x="2644" y="576" width="2" height="2" fill="#000"/><rect x="2662" y="576" width="2" height="2" fill="#000"/><rect x="2680" y="576" width="2" height="2" fill="#000"/><rect x="2698" y="576" width="2" height="2" fill="#000"/><rect x="2716" y="576" width="2" height="2" fill="#000"/><rect x="2734" y="576" width="2" height="2" fill="#000"/><rect x="2734" y="576" width="2" height="2" fill="#000"/><rect x="232" y="474" width="2" height="2" fill="#000"/><rect x="250" y="474" width="2" height="2" fill="#000"/><rect x="268" y="474" width="2" height="2" fill="#000"/><rect x="286" y="474" width="2" height="2" fill="#000"/><rect x="304" y="474" width="2" height="2" fill="#000"/><rect x="322" y="474" width="2" height="2" fill="#000"/><rect x="340" y="474" width="2" height="2" fill="#000"/><rect x="358" y="474" width="2" height="2" fill="#000"/><rect x="376" y="474" width="2" height="2" fill="#000"/><rect x="394" y="474" width="2" height="2" fill="#000"/><rect x="412" y="474" width="2" height="2" fill="#000"/><rect x="430" y="474" width="2" height="2" fill="#000"/><rect x="448" y="474" width="2" height="2" fill="#000"/><rect x="466" y="474" width="2" height="2" fill="#000"/><rect x="484" y="474" width="2" height="2" fill="#000"/><rect x="502" y="474" width="2" height="2" fill="#000"/><rect x="520" y="474" width="2" height="2" fill="#000"/><rect x="538" y="474" width="2" height="2" fill="#000"/><rect x="556" y="474" width="2" height="2" fill="#000"/><rect x="574" y="474" width="2" height="2" fill="#000"/><rect x="592" y="474" width="2" height="2" fill="#000"/><rect x="610" y="474" width="2" height="2" fill="#000"/><rect x="628" y="474" width="2" height="2" fill="#000"/><rect x="646" y="474" width="2" height="2" fill="#000"/><rect x="664" y="474" width="2" height="2" fill="#000"/><rect x="682" y="474" width="2" height="2" fill="#000"/><rect x="700" y="474" width="2" height="2" fill="#000"/><rect x="718" y="474" width="2" height="2" fill="#000"/><rect x="736" y="474" width="2" height="2" fill="#000"/><rect x="754" y="474" width="2" height="2" fill="#000"/><rect x="772" y="474" width="2" height="2" fill="#000"/><rect x="790" y="474" width="2" height="2" fill="#000"/><rect x="808" y="474" width="2" height="2" fill="#000"/><rect x="826" y="474" width="2" height="2" fill="#000"/><rect x="844" y="474" width="2" height="2" fill="#000"/><rect x="862" y="474" width="2" height="2" fill="#000"/><rect x="880" y="474" width="2" height="2" fill="#000"/><rect x="898" y="474" width="2" height="2" fill="#000"/><rect x="916" y="474" width="2" height="2" fill="#000"/><rect x="934" y="474" width="2" height="2" fill="#000"/><rect x="952" y="474" width="2" height="2" fill="#000"/><rect x="970" y="474" width="2" height="2" fill="#000"/><rect x="988" y="474" width="2" height="2" fill="#000"/><rect x="1006" y="474" width="2" height="2" fill="#000"/><rect x="1024" y="474" width="2" height="2" fill="#000"/><rect x="1042" y="474" width="2" height="2" fill="#000"/><rect x="1060" y="474" width="2" height="2" fill="#000"/><rect x="1078" y="474" width="2" height="2" fill="#000"/><rect x="1096" y="474" width="2" height="2" fill="#000"/><rect x="1114" y="474" width="2" height="2" fill="#000"/><rect x="1132" y="474" width="2" height="2" fill="#000"/><rect x="1150" y="474" width="2" height="2" fill="#000"/><rect x="1168" y="474" width="2" height="2" fill="#000"/><rect x="1186" y="474" width="2" height="2" fill="#000"/><rect x="1204" y="474" width="2" height="2" fill="#000"/><rect x="1222" y="474" width="2" height="2" fill="#000"/><rect x="1240" y="474" width="2" height="2" fill="#000"/><rect x="1258" y="474" width="2" height="2" fill="#000"/><rect x="1276" y="474" width="2" height="2" fill="#000"/><rect x="1294" y="474" width="2" height="2" fill="#000"/><rect x="1312" y="474" width="2" height="2" fill="#000"/><rect x="1330" y="474" width="2" height="2" fill="#000"/><rect x="1348" y="474" width="2" height="2" fill="#000"/><rect x="1366" y="474" width="2" height="2" fill="#000"/><rect x="1384" y="474" width="2" height="2" fill="#000"/><rect x="1402" y="474" width="2" height="2" fill="#000"/><rect x="1420" y="474" width="2" height="2" fill="#000"/><rect x="1438" y="474" width="2" height="2" fill="#000"/><rect x="1456" y="474" width="2" height="2" fill="#000"/><rect x="1474" y="474" width="2" height="2" fill="#000"/><rect x="1492" y="474" width="2" height="2" fill="#000"/><rect x="1510" y="474" width="2" height="2" fill="#000"/><rect x="1528" y="474" width="2" height="2" fill="#000"/><rect x="1546" y="474" width="2" height="2" fill="#000"/><rect x="1564" y="474" width="2" height="2" fill="#000"/><rect x="1582" y="474" width="2" height="2" fill="#000"/><rect x="1600" y="474" width="2" height="2" fill="#000"/><rect x="1618" y="474" width="2" height="2" fill="#000"/><rect x="1636" y="474" width="2" height="2" fill="#000"/><rect x="1654" y="474" width="2" height="2" fill="#000"/><rect x="1672" y="474" width="2" height="2" fill="#000"/><rect x="1690" y="474" width="2" height="2" fill="#000"/><rect x="1708" y="474" width="2" height="2" fill="#000"/><rect x="1726" y="474" width="2" height="2" fill="#000"/><rect x="1744" y="474" width="2" height="2" fill="#000"/><rect x="1762" y="474" width="2" height="2" fill="#000"/><rect x="1780" y="474" width="2" height="2" fill="#000"/><rect x="1798" y="474" width="2" height="2" fill="#000"/><rect x="1816" y="474" width="2" height="2" fill="#000"/><rect x="1834" y="474" width="2" height="2" fill="#000"/><rect x="1852" y="474" width="2" height="2" fill="#000"/><rect x="1870" y="474" width="2" height="2" fill="#000"/><rect x="1888" y="474" width="2" height="2" fill="#000"/><rect x="1906" y="474" width="2" height="2" fill="#000"/><rect x="1924" y="474" width="2" height="2" fill="#000"/><rect x="1942" y="474" width="2" height="2" fill="#000"/><rect x="1960" y="474" width="2" height="2" fill="#000"/><rect x="1978" y="474" width="2" height="2" fill="#000"/><rect x="1996" y="474" width="2" height="2" fill="#000"/><rect x="2014" y="474" width="2" height="2" fill="#000"/><rect x="2032" y="474" width="2" height="2" fill="#000"/><rect x="2050" y="474" width="2" height="2" fill="#000"/><rect x="2068" y="474" width="2" height="2" fill="#000"/><rect x="2086" y="474" width="2" height="2" fill="#000"/><rect x="2104" y="474" width="2" height="2" fill="#000"/><rect x="2122" y="474" width="2" height="2" fill="#000"/><rect x="2140" y="474" width="2" height="2" fill="#000"/><rect x="2158" y="474" width="2" height="2" fill="#000"/><rect x="2176" y="474" width="2" height="2" fill="#000"/><rect x="2194" y="474" width="2" height="2" fill="#000"/><rect x="2212" y="474" width="2" height="2" fill="#000"/><rect x="2230" y="474" width="2" height="2" fill="#000"/><rect x="2248" y="474" width="2" height="2" fill="#000"/><rect x="2266" y="474" width="2" height="2" fill="#000"/><rect x="2284" y="474" width="2" height="2" fill="#000"/><rect x="2302" y="474" width="2" height="2" fill="#000"/><rect x="2320" y="474" width="2" height="2" fill="#000"/><rect x="2338" y="474" width="2" height="2" fill="#000"/><rect x="2356" y="474" width="2" height="2" fill="#000"/><rect x="2374" y="474" width="2" height="2" fill="#000"/><rect x="2392" y="474" width="2" height="2" fill="#000"/><rect x="2410" y="474" width="2" height="2" fill="#000"/><rect x="2428" y="474" width="2" height="2" fill="#000"/><rect x="2446" y="474" width="2" height="2" fill="#000"/><rect x="2464" y="474" width="2" height="2" fill="#000"/><rect x="2482" y="474" width="2" height="2" fill="#000"/><rect x="2500" y="474" width="2" height="2" fill="#000"/><rect x="2518" y="474" width="2" height="2" fill="#000"/><rect x="2536" y="474" width="2" height="2" fill="#000"/><rect x="2554" y="474" width="2" height="2" fill="#000"/><rect x="2572" y="474" width="2" height="2" fill="#000"/><rect x="2590" y="474" width="2" height="2" fill="#000"/><rect x="2608" y="474" width="2" height="2" fill="#000"/><rect x="2626" y="474" width="2" height="2" fill="#000"/><rect x="2644" y="474" width="2" height="2" fill="#000"/><rect x="2662" y="474" width="2" height="2" fill="#000"/><rect x="2680" y="474" width="2" height="2" fill="#000"/><rect x="2698" y="474" width="2" height="2" fill="#000"/><rect x="2716" y="474" width="2" height="2" fill="#000"/><rect x="2734" y="474" width="2" height="2" fill="#000"/><rect x="2734" y="474" width="2" height="2" fill="#000"/><rect x="232" y="370" width="2" height="2" fill="#000"/><rect x="250" y="370" width="2" height="2" fill="#000"/><rect x="268" y="370" width="2" height="2" fill="#000"/><rect x="286" y="370" width="2" height="2" fill="#000"/><rect x="304" y="370" width="2" height="2" fill="#000"/><rect x="322" y="370" width="2" height="2" fill="#000"/><rect x="340" y="370" width="2" height="2" fill="#000"/><rect x="358" y="370" width="2" height="2" fill="#000"/><rect x="376" y="370" width="2" height="2" fill="#000"/><rect x="394" y="370" width="2" height="2" fill="#000"/><rect x="412" y="370" width="2" height="2" fill="#000"/><rect x="430" y="370" width="2" height="2" fill="#000"/><rect x="448" y="370" width="2" height="2" fill="#000"/><rect x="466" y="370" width="2" height="2" fill="#000"/><rect x="484" y="370" width="2" height="2" fill="#000"/><rect x="502" y="370" width="2" height="2" fill="#000"/><rect x="520" y="370" width="2" height="2" fill="#000"/><rect x="538" y="370" width="2" height="2" fill="#000"/><rect x="556" y="370" width="2" height="2" fill="#000"/><rect x="574" y="370" width="2" height="2" fill="#000"/><rect x="592" y="370" width="2" height="2" fill="#000"/><rect x="610" y="370" width="2" height="2" fill="#000"/><rect x="628" y="370" width="2" height="2" fill="#000"/><rect x="646" y="370" width="2" height="2" fill="#000"/><rect x="664" y="370" width="2" height="2" fill="#000"/><rect x="682" y="370" width="2" height="2" fill="#000"/><rect x="700" y="370" width="2" height="2" fill="#000"/><rect x="718" y="370" width="2" height="2" fill="#000"/><rect x="736" y="370" width="2" height="2" fill="#000"/><rect x="754" y="370" width="2" height="2" fill="#000"/><rect x="772" y="370" width="2" height="2" fill="#000"/><rect x="790" y="370" width="2" height="2" fill="#000"/><rect x="808" y="370" width="2" height="2" fill="#000"/><rect x="826" y="370" width="2" height="2" fill="#000"/><rect x="844" y="370" width="2" height="2" fill="#000"/><rect x="862" y="370" width="2" height="2" fill="#000"/><rect x="880" y="370" width="2" height="2" fill="#000"/><rect x="898" y="370" width="2" height="2" fill="#000"/><rect x="916" y="370" width="2" height="2" fill="#000"/><rect x="934" y="370" width="2" height="2" fill="#000"/><rect x="952" y="370" width="2" height="2" fill="#000"/><rect x="970" y="370" width="2" height="2" fill="#000"/><rect x="988" y="370" width="2" height="2" fill="#000"/><rect x="1006" y="370" width="2" height="2" fill="#000"/><rect x="1024" y="370" width="2" height="2" fill="#000"/><rect x="1042" y="370" width="2" height="2" fill="#000"/><rect x="1060" y="370" width="2" height="2" fill="#000"/><rect x="1078" y="370" width="2" height="2" fill="#000"/><rect x="1096" y="370" width="2" height="2" fill="#000"/><rect x="1114" y="370" width="2" height="2" fill="#000"/><rect x="1132" y="370" width="2" height="2" fill="#000"/><rect x="1150" y="370" width="2" height="2" fill="#000"/><rect x="1168" y="370" width="2" height="2" fill="#000"/><rect x="1186" y="370" width="2" height="2" fill="#000"/><rect x="1204" y="370" width="2" height="2" fill="#000"/><rect x="1222" y="370" width="2" height="2" fill="#000"/><rect x="1240" y="370" width="2" height="2" fill="#000"/><rect x="1258" y="370" width="2" height="2" fill="#000"/><rect x="1276" y="370" width="2" height="2" fill="#000"/><rect x="1294" y="370" width="2" height="2" fill="#000"/><rect x="1312" y="370" width="2" height="2" fill="#000"/><rect x="1330" y="370" width="2" height="2" fill="#000"/><rect x="1348" y="370" width="2" height="2" fill="#000"/><rect x="1366" y="370" width="2" height="2" fill="#000"/><rect x="1384" y="370" width="2" height="2" fill="#000"/><rect x="1402" y="370" width="2" height="2" fill="#000"/><rect x="1420" y="370" width="2" height="2" fill="#000"/><rect x="1438" y="370" width="2" height="2" fill="#000"/><rect x="1456" y="370" width="2" height="2" fill="#000"/><rect x="1474" y="370" width="2" height="2" fill="#000"/><rect x="1492" y="370" width="2" height="2" fill="#000"/><rect x="1510" y="370" width="2" height="2" fill="#000"/><rect x="1528" y="370" width="2" height="2" fill="#000"/><rect x="1546" y="370" width="2" height="2" fill="#000"/><rect x="1564" y="370" width="2" height="2" fill="#000"/><rect x="1582" y="370" width="2" height="2" fill="#000"/><rect x="1600" y="370" width="2" height="2" fill="#000"/><rect x="1618" y="370" width="2" height="2" fill="#000"/><rect x="1636" y="370" width="2" height="2" fill="#000"/><rect x="1654" y="370" width="2" height="2" fill="#000"/><rect x="1672" y="370" width="2" height="2" fill="#000"/><rect x="1690" y="370" width="2" height="2" fill="#000"/><rect x="1708" y="370" width="2" height="2" fill="#000"/><rect x="1726" y="370" width="2" height="2" fill="#000"/><rect x="1744" y="370" width="2" height="2" fill="#000"/><rect x="1762" y="370" width="2" height="2" fill="#000"/><rect x="1780" y="370" width="2" height="2" fill="#000"/><rect x="1798" y="370" width="2" height="2" fill="#000"/><rect x="1816" y="370" width="2" height="2" fill="#000"/><rect x="1834" y="370" width="2" height="2" fill="#000"/><rect x="1852" y="370" width="2" height="2" fill="#000"/><rect x="1870" y="370" width="2" height="2" fill="#000"/><rect x="1888" y="370" width="2" height="2" fill="#000"/><rect x="1906" y="370" width="2" height="2" fill="#000"/><rect x="1924" y="370" width="2" height="2" fill="#000"/><rect x="1942" y="370" width="2" height="2" fill="#000"/><rect x="1960" y="370" width="2" height="2" fill="#000"/><rect x="1978" y="370" width="2" height="2" fill="#000"/><rect x="1996" y="370" width="2" height="2" fill="#000"/><rect x="2014" y="370" width="2" height="2" fill="#000"/><rect x="2032" y="370" width="2" height="2" fill="#000"/><rect x="2050" y="370" width="2" height="2" fill="#000"/><rect x="2068" y="370" width="2" height="2" fill="#000"/><rect x="2086" y="370" width="2" height="2" fill="#000"/><rect x="2104" y="370" width="2" height="2" fill="#000"/><rect x="2122" y="370" width="2" height="2" fill="#000"/><rect x="2140" y="370" width="2" height="2" fill="#000"/><rect x="2158" y="370" width="2" height="2" fill="#000"/><rect x="2176" y="370" width="2" height="2" fill="#000"/><rect x="2194" y="370" width="2" height="2" fill="#000"/><rect x="2212" y="370" width="2" height="2" fill="#000"/><rect x="2230" y="370" width="2" height="2" fill="#000"/><rect x="2248" y="370" width="2" height="2" fill="#000"/><rect x="2266" y="370" width="2" height="2" fill="#000"/><rect x="2284" y="370" width="2" height="2" fill="#000"/><rect x="2302" y="370" width="2" height="2" fill="#000"/><rect x="2320" y="370" width="2" height="2" fill="#000"/><rect x="2338" y="370" width="2" height="2" fill="#000"/><rect x="2356" y="370" width="2" height="2" fill="#000"/><rect x="2374" y="370" width="2" height="2" fill="#000"/><rect x="2392" y="370" width="2" height="2" fill="#000"/><rect x="2410" y="370" width="2" height="2" fill="#000"/><rect x="2428" y="370" width="2" height="2" fill="#000"/><rect x="2446" y="370" width="2" height="2" fill="#000"/><rect x="2464" y="370" width="2" height="2" fill="#000"/><rect x="2482" y="370" width="2" height="2" fill="#000"/><rect x="2500" y="370" width="2" height="2" fill="#000"/><rect x="2518" y="370" width="2" height="2" fill="#000"/><rect x="2536" y="370" width="2" height="2" fill="#000"/><rect x="2554" y="370" width="2" height="2" fill="#000"/><rect x="2572" y="370" width="2" height="2" fill="#000"/><rect x="2590" y="370" width="2" height="2" fill="#000"/><rect x="2608" y="370" width="2" height="2" fill="#000"/><rect x="2626" y="370" width="2" height="2" fill="#000"/><rect x="2644" y="370" width="2" height="2" fill="#000"/><rect x="2662" y="370" width="2" height="2" fill="#000"/><rect x="2680" y="370" width="2" height="2" fill="#000"/><rect x="2698" y="370" width="2" height="2" fill="#000"/><rect x="2716" y="370" width="2" height="2" fill="#000"/><rect x="2734" y="370" width="2" height="2" fill="#000"/><rect x="2734" y="370" width="2" height="2" fill="#000"/><rect x="232" y="266" width="2" height="2" fill="#000"/><rect x="250" y="266" width="2" height="2" fill="#000"/><rect x="268" y="266" width="2" height="2" fill="#000"/><rect x="286" y="266" width="2" height="2" fill="#000"/><rect x="304" y="266" width="2" height="2" fill="#000"/><rect x="322" y="266" width="2" height="2" fill="#000"/><rect x="340" y="266" width="2" height="2" fill="#000"/><rect x="358" y="266" width="2" height="2" fill="#000"/><rect x="376" y="266" width="2" height="2" fill="#000"/><rect x="394" y="266" width="2" height="2" fill="#000"/><rect x="412" y="266" width="2" height="2" fill="#000"/><rect x="430" y="266" width="2" height="2" fill="#000"/><rect x="448" y="266" width="2" height="2" fill="#000"/><rect x="466" y="266" width="2" height="2" fill="#000"/><rect x="484" y="266" width="2" height="2" fill="#000"/><rect x="502" y="266" width="2" height="2" fill="#000"/><rect x="520" y="266" width="2" height="2" fill="#000"/><rect x="538" y="266" width="2" height="2" fill="#000"/><rect x="556" y="266" width="2" height="2" fill="#000"/><rect x="574" y="266" width="2" height="2" fill="#000"/><rect x="592" y="266" width="2" height="2" fill="#000"/><rect x="610" y="266" width="2" height="2" fill="#000"/><rect x="628" y="266" width="2" height="2" fill="#000"/><rect x="646" y="266" width="2" height="2" fill="#000"/><rect x="664" y="266" width="2" height="2" fill="#000"/><rect x="682" y="266" width="2" height="2" fill="#000"/><rect x="700" y="266" width="2" height="2" fill="#000"/><rect x="718" y="266" width="2" height="2" fill="#000"/><rect x="736" y="266" width="2" height="2" fill="#000"/><rect x="754" y="266" width="2" height="2" fill="#000"/><rect x="772" y="266" width="2" height="2" fill="#000"/><rect x="790" y="266" width="2" height="2" fill="#000"/><rect x="808" y="266" width="2" height="2" fill="#000"/><rect x="826" y="266" width="2" height="2" fill="#000"/><rect x="844" y="266" width="2" height="2" fill="#000"/><rect x="862" y="266" width="2" height="2" fill="#000"/><rect x="880" y="266" width="2" height="2" fill="#000"/><rect x="898" y="266" width="2" height="2" fill="#000"/><rect x="916" y="266" width="2" height="2" fill="#000"/><rect x="934" y="266" width="2" height="2" fill="#000"/><rect x="952" y="266" width="2" height="2" fill="#000"/><rect x="970" y="266" width="2" height="2" fill="#000"/><rect x="988" y="266" width="2" height="2" fill="#000"/><rect x="1006" y="266" width="2" height="2" fill="#000"/><rect x="1024" y="266" width="2" height="2" fill="#000"/><rect x="1042" y="266" width="2" height="2" fill="#000"/><rect x="1060" y="266" width="2" height="2" fill="#000"/><rect x="1078" y="266" width="2" height="2" fill="#000"/><rect x="1096" y="266" width="2" height="2" fill="#000"/><rect x="1114" y="266" width="2" height="2" fill="#000"/><rect x="1132" y="266" width="2" height="2" fill="#000"/><rect x="1150" y="266" width="2" height="2" fill="#000"/><rect x="1168" y="266" width="2" height="2" fill="#000"/><rect x="1186" y="266" width="2" height="2" fill="#000"/><rect x="1204" y="266" width="2" height="2" fill="#000"/><rect x="1222" y="266" width="2" height="2" fill="#000"/><rect x="1240" y="266" width="2" height="2" fill="#000"/><rect x="1258" y="266" width="2" height="2" fill="#000"/><rect x="1276" y="266" width="2" height="2" fill="#000"/><rect x="1294" y="266" width="2" height="2" fill="#000"/><rect x="1312" y="266" width="2" height="2" fill="#000"/><rect x="1330" y="266" width="2" height="2" fill="#000"/><rect x="1348" y="266" width="2" height="2" fill="#000"/><rect x="1366" y="266" width="2" height="2" fill="#000"/><rect x="1384" y="266" width="2" height="2" fill="#000"/><rect x="1402" y="266" width="2" height="2" fill="#000"/><rect x="1420" y="266" width="2" height="2" fill="#000"/><rect x="1438" y="266" width="2" height="2" fill="#000"/><rect x="1456" y="266" width="2" height="2" fill="#000"/><rect x="1474" y="266" width="2" height="2" fill="#000"/><rect x="1492" y="266" width="2" height="2" fill="#000"/><rect x="1510" y="266" width="2" height="2" fill="#000"/><rect x="1528" y="266" width="2" height="2" fill="#000"/><rect x="1546" y="266" width="2" height="2" fill="#000"/><rect x="1564" y="266" width="2" height="2" fill="#000"/><rect x="1582" y="266" width="2" height="2" fill="#000"/><rect x="1600" y="266" width="2" height="2" fill="#000"/><rect x="1618" y="266" width="2" height="2" fill="#000"/><rect x="1636" y="266" width="2" height="2" fill="#000"/><rect x="1654" y="266" width="2" height="2" fill="#000"/><rect x="1672" y="266" width="2" height="2" fill="#000"/><rect x="1690" y="266" width="2" height="2" fill="#000"/><rect x="1708" y="266" width="2" height="2" fill="#000"/><rect x="1726" y="266" width="2" height="2" fill="#000"/><rect x="1744" y="266" width="2" height="2" fill="#000"/><rect x="1762" y="266" width="2" height="2" fill="#000"/><rect x="1780" y="266" width="2" height="2" fill="#000"/><rect x="1798" y="266" width="2" height="2" fill="#000"/><rect x="1816" y="266" width="2" height="2" fill="#000"/><rect x="1834" y="266" width="2" height="2" fill="#000"/><rect x="1852" y="266" width="2" height="2" fill="#000"/><rect x="1870" y="266" width="2" height="2" fill="#000"/><rect x="1888" y="266" width="2" height="2" fill="#000"/><rect x="1906" y="266" width="2" height="2" fill="#000"/><rect x="1924" y="266" width="2" height="2" fill="#000"/><rect x="1942" y="266" width="2" height="2" fill="#000"/><rect x="1960" y="266" width="2" height="2" fill="#000"/><rect x="1978" y="266" width="2" height="2" fill="#000"/><rect x="1996" y="266" width="2" height="2" fill="#000"/><rect x="2014" y="266" width="2" height="2" fill="#000"/><rect x="2032" y="266" width="2" height="2" fill="#000"/><rect x="2050" y="266" width="2" height="2" fill="#000"/><rect x="2068" y="266" width="2" height="2" fill="#000"/><rect x="2086" y="266" width="2" height="2" fill="#000"/><rect x="2104" y="266" width="2" height="2" fill="#000"/><rect x="2122" y="266" width="2" height="2" fill="#000"/><rect x="2140" y="266" width="2" height="2" fill="#000"/><rect x="2158" y="266" width="2" height="2" fill="#000"/><rect x="2176" y="266" width="2" height="2" fill="#000"/><rect x="2194" y="266" width="2" height="2" fill="#000"/><rect x="2212" y="266" width="2" height="2" fill="#000"/><rect x="2230" y="266" width="2" height="2" fill="#000"/><rect x="2248" y="266" width="2" height="2" fill="#000"/><rect x="2266" y="266" width="2" height="2" fill="#000"/><rect x="2284" y="266" width="2" height="2" fill="#000"/><rect x="2302" y="266" width="2" height="2" fill="#000"/><rect x="2320" y="266" width="2" height="2" fill="#000"/><rect x="2338" y="266" width="2" height="2" fill="#000"/><rect x="2356" y="266" width="2" height="2" fill="#000"/><rect x="2374" y="266" width="2" height="2" fill="#000"/><rect x="2392" y="266" width="2" height="2" fill="#000"/><rect x="2410" y="266" width="2" height="2" fill="#000"/><rect x="2428" y="266" width="2" height="2" fill="#000"/><rect x="2446" y="266" width="2" height="2" fill="#000"/><rect x="2464" y="266" width="2" height="2" fill="#000"/><rect x="2482" y="266" width="2" height="2" fill="#000"/><rect x="2500" y="266" width="2" height="2" fill="#000"/><rect x="2518" y="266" width="2" height="2" fill="#000"/><rect x="2536" y="266" width="2" height="2" fill="#000"/><rect x="2554" y="266" width="2" height="2" fill="#000"/><rect x="2572" y="266" width="2" height="2" fill="#000"/><rect x="2590" y="266" width="2" height="2" fill="#000"/><rect x="2608" y="266" width="2" height="2" fill="#000"/><rect x="2626" y="266" width="2" height="2" fill="#000"/><rect x="2644" y="266" width="2" height="2" fill="#000"/><rect x="2662" y="266" width="2" height="2" fill="#000"/><rect x="2680" y="266" width="2" height="2" fill="#000"/><rect x="2698" y="266" width="2" height="2" fill="#000"/><rect x="2716" y="266" width="2" height="2" fill="#000"/><rect x="2734" y="266" width="2" height="2" fill="#000"/><rect x="2734" y="266" width="2" height="2" fill="#000"/><rect x="286" y="1354" width="2" height="2" fill="#000"/><rect x="466" y="1354" width="2" height="2" fill="#000"/><rect x="556" y="1354" width="2" height="2" fill="#000"/><rect x="646" y="1354" width="2" height="2" fill="#000"/><rect x="736" y="1354" width="2" height="2" fill="#000"/><rect x="826" y="1354" width="2" height="2" fill="#000"/><rect x="898" y="1354" width="2" height="2" fill="#000"/><rect x="988" y="1354" width="2" height="2" fill="#000"/><rect x="1078" y="1354" width="2" height="2" fill="#000"/><rect x="1168" y="1354" width="2" height="2" fill="#000"/><rect x="1258" y="1354" width="2" height="2" fill="#000"/><rect x="1348" y="1354" width="2" height="2" fill="#000"/><rect x="1438" y="1354" width="2" height="2" fill="#000"/><rect x="1600" y="1354" width="2" height="2" fill="#000"/><rect x="1690" y="1354" width="2" height="2" fill="#000"/><rect x="1780" y="1354" width="2" height="2" fill="#000"/><rect x="1870" y="1354" width="2" height="2" fill="#000"/><rect x="1942" y="1354" width="2" height="2" fill="#000"/><rect x="2032" y="1354" width="2" height="2" fill="#000"/><rect x="2122" y="1354" width="2" height="2" fill="#000"/><rect x="2212" y="1354" width="2" height="2" fill="#000"/><rect x="2392" y="1354" width="2" height="2" fill="#000"/><rect x="2482" y="1354" width="2" height="2" fill="#000"/><rect x="2572" y="1354" width="2" height="2" fill="#000"/><rect x="2662" y="1354" width="2" height="2" fill="#000"/><rect x="286" y="1250" width="2" height="2" fill="#000"/><rect x="466" y="1250" width="2" height="2" fill="#000"/><rect x="556" y="1250" width="2" height="2" fill="#000"/><rect x="646" y="1250" width="2" height="2" fill="#000"/><rect x="736" y="1250" width="2" height="2" fill="#000"/><rect x="826" y="1250" width="2" height="2" fill="#000"/><rect x="898" y="1250" width="2" height="2" fill="#000"/><rect x="988" y="1250" width="2" height="2" fill="#000"/><rect x="1078" y="1250" width="2" height="2" fill="#000"/><rect x="1168" y="1250" width="2" height="2" fill="#000"/><rect x="1258" y="1250" width="2" height="2" fill="#000"/><rect x="1348" y="1250" width="2" height="2" fill="#000"/><rect x="1438" y="1250" width="2" height="2" fill="#000"/><rect x="1600" y="1250" width="2" height="2" fill="#000"/><rect x="1690" y="1250" width="2" height="2" fill="#000"/><rect x="1780" y="1250" width="2" height="2" fill="#000"/><rect x="1870" y="1250" width="2" height="2" fill="#000"/><rect x="1942" y="1250" width="2" height="2" fill="#000"/><rect x="2032" y="1250" width="2" height="2" fill="#000"/><rect x="2122" y="1250" width="2" height="2" fill="#000"/><rect x="2212" y="1250" width="2" height="2" fill="#000"/><rect x="2392" y="1250" width="2" height="2" fill="#000"/><rect x="2482" y="1250" width="2" height="2" fill="#000"/><rect x="2572" y="1250" width="2" height="2" fill="#000"/><rect x="2662" y="1250" width="2" height="2" fill="#000"/><rect x="286" y="1146" width="2" height="2" fill="#000"/><rect x="466" y="1146" width="2" height="2" fill="#000"/><rect x="556" y="1146" width="2" height="2" fill="#000"/><rect x="646" y="1146" width="2" height="2" fill="#000"/><rect x="736" y="1146" width="2" height="2" fill="#000"/><rect x="826" y="1146" width="2" height="2" fill="#000"/><rect x="898" y="1146" width="2" height="2" fill="#000"/><rect x="988" y="1146" width="2" height="2" fill="#000"/><rect x="1078" y="1146" width="2" height="2" fill="#000"/><rect x="1168" y="1146" width="2" height="2" fill="#000"/><rect x="1258" y="1146" width="2" height="2" fill="#000"/><rect x="1348" y="1146" width="2" height="2" fill="#000"/><rect x="1438" y="1146" width="2" height="2" fill="#000"/><rect x="1600" y="1146" width="2" height="2" fill="#000"/><rect x="1690" y="1146" width="2" height="2" fill="#000"/><rect x="1780" y="1146" width="2" height="2" fill="#000"/><rect x="1870" y="1146" width="2" height="2" fill="#000"/><rect x="1942" y="1146" width="2" height="2" fill="#000"/><rect x="2032" y="1146" width="2" height="2" fill="#000"/><rect x="2122" y="1146" width="2" height="2" fill="#000"/><rect x="2212" y="1146" width="2" height="2" fill="#000"/><rect x="2392" y="1146" width="2" height="2" fill="#000"/><rect x="2482" y="1146" width="2" height="2" fill="#000"/><rect x="2572" y="1146" width="2" height="2" fill="#000"/><rect x="2662" y="1146" width="2" height="2" fill="#000"/><rect x="286" y="1042" width="2" height="2" fill="#000"/><rect x="466" y="1042" width="2" height="2" fill="#000"/><rect x="556" y="1042" width="2" height="2" fill="#000"/><rect x="646" y="1042" width="2" height="2" fill="#000"/><rect x="736" y="1042" width="2" height="2" fill="#000"/><rect x="826" y="1042" width="2" height="2" fill="#000"/><rect x="898" y="1042" width="2" height="2" fill="#000"/><rect x="988" y="1042" width="2" height="2" fill="#000"/><rect x="1078" y="1042" width="2" height="2" fill="#000"/><rect x="1168" y="1042" width="2" height="2" fill="#000"/><rect x="1258" y="1042" width="2" height="2" fill="#000"/><rect x="1348" y="1042" width="2" height="2" fill="#000"/><rect x="1438" y="1042" width="2" height="2" fill="#000"/><rect x="1600" y="1042" width="2" height="2" fill="#000"/><rect x="1690" y="1042" width="2" height="2" fill="#000"/><rect x="1780" y="1042" width="2" height="2" fill="#000"/><rect x="1870" y="1042" width="2" height="2" fill="#000"/><rect x="1942" y="1042" width="2" height="2" fill="#000"/><rect x="2032" y="1042" width="2" height="2" fill="#000"/><rect x="2122" y="1042" width="2" height="2" fill="#000"/><rect x="2212" y="1042" width="2" height="2" fill="#000"/><rect x="2392" y="1042" width="2" height="2" fill="#000"/><rect x="2482" y="1042" width="2" height="2" fill="#000"/><rect x="2572" y="1042" width="2" height="2" fill="#000"/><rect x="2662" y="1042" width="2" height="2" fill="#000"/><rect x="286" y="940" width="2" height="2" fill="#000"/><rect x="466" y="940" width="2" height="2" fill="#000"/><rect x="556" y="940" width="2" height="2" fill="#000"/><rect x="646" y="940" width="2" height="2" fill="#000"/><rect x="736" y="940" width="2" height="2" fill="#000"/><rect x="826" y="940" width="2" height="2" fill="#000"/><rect x="898" y="940" width="2" height="2" fill="#000"/><rect x="988" y="940" width="2" height="2" fill="#000"/><rect x="1078" y="940" width="2" height="2" fill="#000"/><rect x="1168" y="940" width="2" height="2" fill="#000"/><rect x="1258" y="940" width="2" height="2" fill="#000"/><rect x="1348" y="940" width="2" height="2" fill="#000"/><rect x="1438" y="940" width="2" height="2" fill="#000"/><rect x="1600" y="940" width="2" height="2" fill="#000"/><rect x="1690" y="940" width="2" height="2" fill="#000"/><rect x="1780" y="940" width="2" height="2" fill="#000"/><rect x="1870" y="940" width="2" height="2" fill="#000"/><rect x="1942" y="940" width="2" height="2" fill="#000"/><rect x="2032" y="940" width="2" height="2" fill="#000"/><rect x="2122" y="940" width="2" height="2" fill="#000"/><rect x="2212" y="940" width="2" height="2" fill="#000"/><rect x="2392" y="940" width="2" height="2" fill="#000"/><rect x="2482" y="940" width="2" height="2" fill="#000"/><rect x="2572" y="940" width="2" height="2" fill="#000"/><rect x="2662" y="940" width="2" height="2" fill="#000"/><rect x="286" y="836" width="2" height="2" fill="#000"/><rect x="466" y="836" width="2" height="2" fill="#000"/><rect x="556" y="836" width="2" height="2" fill="#000"/><rect x="646" y="836" width="2" height="2" fill="#000"/><rect x="736" y="836" width="2" height="2" fill="#000"/><rect x="826" y="836" width="2" height="2" fill="#000"/><rect x="898" y="836" width="2" height="2" fill="#000"/><rect x="988" y="836" width="2" height="2" fill="#000"/><rect x="1078" y="836" width="2" height="2" fill="#000"/><rect x="1168" y="836" width="2" height="2" fill="#000"/><rect x="1258" y="836" width="2" height="2" fill="#000"/><rect x="1348" y="836" width="2" height="2" fill="#000"/><rect x="1438" y="836" width="2" height="2" fill="#000"/><rect x="1600" y="836" width="2" height="2" fill="#000"/><rect x="1690" y="836" width="2" height="2" fill="#000"/><rect x="1780" y="836" width="2" height="2" fill="#000"/><rect x="1870" y="836" width="2" height="2" fill="#000"/><rect x="1942" y="836" width="2" height="2" fill="#000"/><rect x="2032" y="836" width="2" height="2" fill="#000"/><rect x="2122" y="836" width="2" height="2" fill="#000"/><rect x="2212" y="836" width="2" height="2" fill="#000"/><rect x="2392" y="836" width="2" height="2" fill="#000"/><rect x="2482" y="836" width="2" height="2" fill="#000"/><rect x="2572" y="836" width="2" height="2" fill="#000"/><rect x="2662" y="836" width="2" height="2" fill="#000"/><rect x="286" y="732" width="2" height="2" fill="#000"/><rect x="466" y="732" width="2" height="2" fill="#000"/><rect x="556" y="732" width="2" height="2" fill="#000"/><rect x="646" y="732" width="2" height="2" fill="#000"/><rect x="736" y="732" width="2" height="2" fill="#000"/><rect x="826" y="732" width="2" height="2" fill="#000"/><rect x="898" y="732" width="2" height="2" fill="#000"/><rect x="988" y="732" width="2" height="2" fill="#000"/><rect x="1078" y="732" width="2" height="2" fill="#000"/><rect x="1168" y="732" width="2" height="2" fill="#000"/><rect x="1258" y="732" width="2" height="2" fill="#000"/><rect x="1348" y="732" width="2" height="2" fill="#000"/><rect x="1438" y="732" width="2" height="2" fill="#000"/><rect x="1600" y="732" width="2" height="2" fill="#000"/><rect x="1690" y="732" width="2" height="2" fill="#000"/><rect x="1780" y="732" width="2" height="2" fill="#000"/><rect x="1870" y="732" width="2" height="2" fill="#000"/><rect x="1942" y="732" width="2" height="2" fill="#000"/><rect x="2032" y="732" width="2" height="2" fill="#000"/><rect x="2122" y="732" width="2" height="2" fill="#000"/><rect x="2212" y="732" width="2" height="2" fill="#000"/><rect x="2392" y="732" width="2" height="2" fill="#000"/><rect x="2482" y="732" width="2" height="2" fill="#000"/><rect x="2572" y="732" width="2" height="2" fill="#000"/><rect x="2662" y="732" width="2" height="2" fill="#000"/><rect x="286" y="628" width="2" height="2" fill="#000"/><rect x="466" y="628" width="2" height="2" fill="#000"/><rect x="556" y="628" width="2" height="2" fill="#000"/><rect x="646" y="628" width="2" height="2" fill="#000"/><rect x="736" y="628" width="2" height="2" fill="#000"/><rect x="826" y="628" width="2" height="2" fill="#000"/><rect x="898" y="628" width="2" height="2" fill="#000"/><rect x="988" y="628" width="2" height="2" fill="#000"/><rect x="1078" y="628" width="2" height="2" fill="#000"/><rect x="1168" y="628" width="2" height="2" fill="#000"/><rect x="1258" y="628" width="2" height="2" fill="#000"/><rect x="1348" y="628" width="2" height="2" fill="#000"/><rect x="1438" y="628" width="2" height="2" fill="#000"/><rect x="1600" y="628" width="2" height="2" fill="#000"/><rect x="1690" y="628" width="2" height="2" fill="#000"/><rect x="1780" y="628" width="2" height="2" fill="#000"/><rect x="1870" y="628" width="2" height="2" fill="#000"/><rect x="1942" y="628" width="2" height="2" fill="#000"/><rect x="2032" y="628" width="2" height="2" fill="#000"/><rect x="2122" y="628" width="2" height="2" fill="#000"/><rect x="2212" y="628" width="2" height="2" fill="#000"/><rect x="2392" y="628" width="2" height="2" fill="#000"/><rect x="2482" y="628" width="2" height="2" fill="#000"/><rect x="2572" y="628" width="2" height="2" fill="#000"/><rect x="2662" y="628" width="2" height="2" fill="#000"/><rect x="286" y="526" width="2" height="2" fill="#000"/><rect x="466" y="526" width="2" height="2" fill="#000"/><rect x="556" y="526" width="2" height="2" fill="#000"/><rect x="646" y="526" width="2" height="2" fill="#000"/><rect x="736" y="526" width="2" height="2" fill="#000"/><rect x="826" y="526" width="2" height="2" fill="#000"/><rect x="898" y="526" width="2" height="2" fill="#000"/><rect x="988" y="526" width="2" height="2" fill="#000"/><rect x="1078" y="526" width="2" height="2" fill="#000"/><rect x="1168" y="526" width="2" height="2" fill="#000"/><rect x="1258" y="526" width="2" height="2" fill="#000"/><rect x="1348" y="526" width="2" height="2" fill="#000"/><rect x="1438" y="526" width="2" height="2" fill="#000"/><rect x="1600" y="526" width="2" height="2" fill="#000"/><rect x="1690" y="526" width="2" height="2" fill="#000"/><rect x="1780" y="526" width="2" height="2" fill="#000"/><rect x="1870" y="526" width="2" height="2" fill="#000"/><rect x="1942" y="526" width="2" height="2" fill="#000"/><rect x="2032" y="526" width="2" height="2" fill="#000"/><rect x="2122" y="526" width="2" height="2" fill="#000"/><rect x="2212" y="526" width="2" height="2" fill="#000"/><rect x="2392" y="526" width="2" height="2" fill="#000"/><rect x="2482" y="526" width="2" height="2" fill="#000"/><rect x="2572" y="526" width="2" height="2" fill="#000"/><rect x="2662" y="526" width="2" height="2" fill="#000"/><rect x="286" y="422" width="2" height="2" fill="#000"/><rect x="466" y="422" width="2" height="2" fill="#000"/><rect x="556" y="422" width="2" height="2" fill="#000"/><rect x="646" y="422" width="2" height="2" fill="#000"/><rect x="736" y="422" width="2" height="2" fill="#000"/><rect x="826" y="422" width="2" height="2" fill="#000"/><rect x="898" y="422" width="2" height="2" fill="#000"/><rect x="988" y="422" width="2" height="2" fill="#000"/><rect x="1078" y="422" width="2" height="2" fill="#000"/><rect x="1168" y="422" width="2" height="2" fill="#000"/><rect x="1258" y="422" width="2" height="2" fill="#000"/><rect x="1348" y="422" width="2" height="2" fill="#000"/><rect x="1438" y="422" width="2" height="2" fill="#000"/><rect x="1600" y="422" width="2" height="2" fill="#000"/><rect x="1690" y="422" width="2" height="2" fill="#000"/><rect x="1780" y="422" width="2" height="2" fill="#000"/><rect x="1870" y="422" width="2" height="2" fill="#000"/><rect x="1942" y="422" width="2" height="2" fill="#000"/><rect x="2032" y="422" width="2" height="2" fill="#000"/><rect x="2122" y="422" width="2" height="2" fill="#000"/><rect x="2212" y="422" width="2" height="2" fill="#000"/><rect x="2392" y="422" width="2" height="2" fill="#000"/><rect x="2482" y="422" width="2" height="2" fill="#000"/><rect x="2572" y="422" width="2" height="2" fill="#000"/><rect x="2662" y="422" width="2" height="2" fill="#000"/><rect x="286" y="318" width="2" height="2" fill="#000"/><rect x="466" y="318" width="2" height="2" fill="#000"/><rect x="556" y="318" width="2" height="2" fill="#000"/><rect x="646" y="318" width="2" height="2" fill="#000"/><rect x="736" y="318" width="2" height="2" fill="#000"/><rect x="826" y="318" width="2" height="2" fill="#000"/><rect x="898" y="318" width="2" height="2" fill="#000"/><rect x="988" y="318" width="2" height="2" fill="#000"/><rect x="1078" y="318" width="2" height="2" fill="#000"/><rect x="1168" y="318" width="2" height="2" fill="#000"/><rect x="1258" y="318" width="2" height="2" fill="#000"/><rect x="1348" y="318" width="2" height="2" fill="#000"/><rect x="1438" y="318" width="2" height="2" fill="#000"/><rect x="1600" y="318" width="2" height="2" fill="#000"/><rect x="1690" y="318" width="2" height="2" fill="#000"/><rect x="1780" y="318" width="2" height="2" fill="#000"/><rect x="1870" y="318" width="2" height="2" fill="#000"/><rect x="1942" y="318" width="2" height="2" fill="#000"/><rect x="2032" y="318" width="2" height="2" fill="#000"/><rect x="2122" y="318" width="2" height="2" fill="#000"/><rect x="2212" y="318" width="2" height="2" fill="#000"/><rect x="2392" y="318" width="2" height="2" fill="#000"/><rect x="2482" y="318" width="2" height="2" fill="#000"/><rect x="2572" y="318" width="2" height="2" fill="#000"/><rect x="2662" y="318" width="2" height="2" fill="#000"/><rect x="286" y="214" width="2" height="2" fill="#000"/><rect x="466" y="214" width="2" height="2" fill="#000"/><rect x="556" y="214" width="2" height="2" fill="#000"/><rect x="646" y="214" width="2" height="2" fill="#000"/><rect x="736" y="214" width="2" height="2" fill="#000"/><rect x="826" y="214" width="2" height="2" fill="#000"/><rect x="898" y="214" width="2" height="2" fill="#000"/><rect x="988" y="214" width="2" height="2" fill="#000"/><rect x="1078" y="214" width="2" height="2" fill="#000"/><rect x="1168" y="214" width="2" height="2" fill="#000"/><rect x="1258" y="214" width="2" height="2" fill="#000"/><rect x="1348" y="214" width="2" height="2" fill="#000"/><rect x="1438" y="214" width="2" height="2" fill="#000"/><rect x="1600" y="214" width="2" height="2" fill="#000"/><rect x="1690" y="214" width="2" height="2" fill="#000"/><rect x="1780" y="214" width="2" height="2" fill="#000"/><rect x="1870" y="214" width="2" height="2" fill="#000"/><rect x="1942" y="214" width="2" height="2" fill="#000"/><rect x="2032" y="214" width="2" height="2" fill="#000"/><rect x="2122" y="214" width="2" height="2" fill="#000"/><rect x="2212" y="214" width="2" height="2" fill="#000"/><rect x="2392" y="214" width="2" height="2" fill="#000"/><rect x="2482" y="214" width="2" height="2" fill="#000"/><rect x="2572" y="214" width="2" height="2" fill="#000"/><rect x="2662" y="214" width="2" height="2" fill="#000"/><rect x="376" y="1374" width="2" height="2" fill="#000"/><rect x="376" y="1364" width="2" height="2" fill="#000"/><rect x="376" y="1354" width="2" height="2" fill="#000"/><rect x="376" y="1342" width="2" height="2" fill="#000"/><rect x="376" y="1332" width="2" height="2" fill="#000"/><rect x="376" y="1322" width="2" height="2" fill="#000"/><rect x="376" y="1312" width="2" height="2" fill="#000"/><rect x="376" y="1302" width="2" height="2" fill="#000"/><rect x="376" y="1292" width="2" height="2" fill="#000"/><rect x="376" y="1280" width="2" height="2" fill="#000"/><rect x="376" y="1270" width="2" height="2" fill="#000"/><rect x="376" y="1260" width="2" height="2" fill="#000"/><rect x="376" y="1250" width="2" height="2" fill="#000"/><rect x="376" y="1240" width="2" height="2" fill="#000"/><rect x="376" y="1230" width="2" height="2" fill="#000"/><rect x="376" y="1218" width="2" height="2" fill="#000"/><rect x="376" y="1208" width="2" height="2" fill="#000"/><rect x="376" y="1198" width="2" height="2" fill="#000"/><rect x="376" y="1188" width="2" height="2" fill="#000"/><rect x="376" y="1178" width="2" height="2" fill="#000"/><rect x="376" y="1166" width="2" height="2" fill="#000"/><rect x="376" y="1156" width="2" height="2" fill="#000"/><rect x="376" y="1146" width="2" height="2" fill="#000"/><rect x="376" y="1136" width="2" height="2" fill="#000"/><rect x="376" y="1126" width="2" height="2" fill="#000"/><rect x="376" y="1116" width="2" height="2" fill="#000"/><rect x="376" y="1104" width="2" height="2" fill="#000"/><rect x="376" y="1094" width="2" height="2" fill="#000"/><rect x="376" y="1084" width="2" height="2" fill="#000"/><rect x="376" y="1074" width="2" height="2" fill="#000"/><rect x="376" y="1064" width="2" height="2" fill="#000"/><rect x="376" y="1054" width="2" height="2" fill="#000"/><rect x="376" y="1042" width="2" height="2" fill="#000"/><rect x="376" y="1032" width="2" height="2" fill="#000"/><rect x="376" y="1022" width="2" height="2" fill="#000"/><rect x="376" y="1012" width="2" height="2" fill="#000"/><rect x="376" y="1002" width="2" height="2" fill="#000"/><rect x="376" y="990" width="2" height="2" fill="#000"/><rect x="376" y="980" width="2" height="2" fill="#000"/><rect x="376" y="970" width="2" height="2" fill="#000"/><rect x="376" y="960" width="2" height="2" fill="#000"/><rect x="376" y="950" width="2" height="2" fill="#000"/><rect x="376" y="940" width="2" height="2" fill="#000"/><rect x="376" y="928" width="2" height="2" fill="#000"/><rect x="376" y="918" width="2" height="2" fill="#000"/><rect x="376" y="908" width="2" height="2" fill="#000"/><rect x="376" y="898" width="2" height="2" fill="#000"/><rect x="376" y="888" width="2" height="2" fill="#000"/><rect x="376" y="878" width="2" height="2" fill="#000"/><rect x="376" y="866" width="2" height="2" fill="#000"/><rect x="376" y="856" width="2" height="2" fill="#000"/><rect x="376" y="846" width="2" height="2" fill="#000"/><rect x="376" y="836" width="2" height="2" fill="#000"/><rect x="376" y="826" width="2" height="2" fill="#000"/><rect x="376" y="816" width="2" height="2" fill="#000"/><rect x="376" y="804" width="2" height="2" fill="#000"/><rect x="376" y="794" width="2" height="2" fill="#000"/><rect x="376" y="784" width="2" height="2" fill="#000"/><rect x="376" y="774" width="2" height="2" fill="#000"/><rect x="376" y="764" width="2" height="2" fill="#000"/><rect x="376" y="752" width="2" height="2" fill="#000"/><rect x="376" y="742" width="2" height="2" fill="#000"/><rect x="376" y="732" width="2" height="2" fill="#000"/><rect x="376" y="722" width="2" height="2" fill="#000"/><rect x="376" y="712" width="2" height="2" fill="#000"/><rect x="376" y="702" width="2" height="2" fill="#000"/><rect x="376" y="690" width="2" height="2" fill="#000"/><rect x="376" y="680" width="2" height="2" fill="#000"/><rect x="376" y="670" width="2" height="2" fill="#000"/><rect x="376" y="660" width="2" height="2" fill="#000"/><rect x="376" y="650" width="2" height="2" fill="#000"/><rect x="376" y="640" width="2" height="2" fill="#000"/><rect x="376" y="628" width="2" height="2" fill="#000"/><rect x="376" y="618" width="2" height="2" fill="#000"/><rect x="376" y="608" width="2" height="2" fill="#000"/><rect x="376" y="598" width="2" height="2" fill="#000"/><rect x="376" y="588" width="2" height="2" fill="#000"/><rect x="376" y="576" width="2" height="2" fill="#000"/><rect x="376" y="566" width="2" height="2" fill="#000"/><rect x="376" y="556" width="2" height="2" fill="#000"/><rect x="376" y="546" width="2" height="2" fill="#000"/><rect x="376" y="536" width="2" height="2" fill="#000"/><rect x="376" y="526" width="2" height="2" fill="#000"/><rect x="376" y="514" width="2" height="2" fill="#000"/><rect x="376" y="504" width="2" height="2" fill="#000"/><rect x="376" y="494" width="2" height="2" fill="#000"/><rect x="376" y="484" width="2" height="2" fill="#000"/><rect x="376" y="474" width="2" height="2" fill="#000"/><rect x="376" y="464" width="2" height="2" fill="#000"/><rect x="376" y="452" width="2" height="2" fill="#000"/><rect x="376" y="442" width="2" height="2" fill="#000"/><rect x="376" y="432" width="2" height="2" fill="#000"/><rect x="376" y="422" width="2" height="2" fill="#000"/><rect x="376" y="412" width="2" height="2" fill="#000"/><rect x="376" y="402" width="2" height="2" fill="#000"/><rect x="376" y="390" width="2" height="2" fill="#000"/><rect x="376" y="380" width="2" height="2" fill="#000"/><rect x="376" y="370" width="2" height="2" fill="#000"/><rect x="376" y="360" width="2" height="2" fill="#000"/><rect x="376" y="350" width="2" height="2" fill="#000"/><rect x="376" y="338" width="2" height="2" fill="#000"/><rect x="376" y="328" width="2" height="2" fill="#000"/><rect x="376" y="318" width="2" height="2" fill="#000"/><rect x="376" y="308" width="2" height="2" fill="#000"/><rect x="376" y="298" width="2" height="2" fill="#000"/><rect x="376" y="288" width="2" height="2" fill="#000"/><rect x="376" y="276" width="2" height="2" fill="#000"/><rect x="376" y="266" width="2" height="2" fill="#000"/><rect x="376" y="256" width="2" height="2" fill="#000"/><rect x="376" y="246" width="2" height="2" fill="#000"/><rect x="376" y="236" width="2" height="2" fill="#000"/><rect x="376" y="226" width="2" height="2" fill="#000"/><rect x="376" y="214" width="2" height="2" fill="#000"/><rect x="376" y="204" width="2" height="2" fill="#000"/><rect x="376" y="194" width="2" height="2" fill="#000"/><rect x="772" y="1374" width="2" height="2" fill="#000"/><rect x="772" y="1364" width="2" height="2" fill="#000"/><rect x="772" y="1354" width="2" height="2" fill="#000"/><rect x="772" y="1342" width="2" height="2" fill="#000"/><rect x="772" y="1332" width="2" height="2" fill="#000"/><rect x="772" y="1322" width="2" height="2" fill="#000"/><rect x="772" y="1312" width="2" height="2" fill="#000"/><rect x="772" y="1302" width="2" height="2" fill="#000"/><rect x="772" y="1292" width="2" height="2" fill="#000"/><rect x="772" y="1280" width="2" height="2" fill="#000"/><rect x="772" y="1270" width="2" height="2" fill="#000"/><rect x="772" y="1260" width="2" height="2" fill="#000"/><rect x="772" y="1250" width="2" height="2" fill="#000"/><rect x="772" y="1240" width="2" height="2" fill="#000"/><rect x="772" y="1230" width="2" height="2" fill="#000"/><rect x="772" y="1218" width="2" height="2" fill="#000"/><rect x="772" y="1208" width="2" height="2" fill="#000"/><rect x="772" y="1198" width="2" height="2" fill="#000"/><rect x="772" y="1188" width="2" height="2" fill="#000"/><rect x="772" y="1178" width="2" height="2" fill="#000"/><rect x="772" y="1166" width="2" height="2" fill="#000"/><rect x="772" y="1156" width="2" height="2" fill="#000"/><rect x="772" y="1146" width="2" height="2" fill="#000"/><rect x="772" y="1136" width="2" height="2" fill="#000"/><rect x="772" y="1126" width="2" height="2" fill="#000"/><rect x="772" y="1116" width="2" height="2" fill="#000"/><rect x="772" y="1104" width="2" height="2" fill="#000"/><rect x="772" y="1094" width="2" height="2" fill="#000"/><rect x="772" y="1084" width="2" height="2" fill="#000"/><rect x="772" y="1074" width="2" height="2" fill="#000"/><rect x="772" y="1064" width="2" height="2" fill="#000"/><rect x="772" y="1054" width="2" height="2" fill="#000"/><rect x="772" y="1042" width="2" height="2" fill="#000"/><rect x="772" y="1032" width="2" height="2" fill="#000"/><rect x="772" y="1022" width="2" height="2" fill="#000"/><rect x="772" y="1012" width="2" height="2" fill="#000"/><rect x="772" y="1002" width="2" height="2" fill="#000"/><rect x="772" y="990" width="2" height="2" fill="#000"/><rect x="772" y="980" width="2" height="2" fill="#000"/><rect x="772" y="970" width="2" height="2" fill="#000"/><rect x="772" y="960" width="2" height="2" fill="#000"/><rect x="772" y="950" width="2" height="2" fill="#000"/><rect x="772" y="940" width="2" height="2" fill="#000"/><rect x="772" y="928" width="2" height="2" fill="#000"/><rect x="772" y="918" width="2" height="2" fill="#000"/><rect x="772" y="908" width="2" height="2" fill="#000"/><rect x="772" y="898" width="2" height="2" fill="#000"/><rect x="772" y="888" width="2" height="2" fill="#000"/><rect x="772" y="878" width="2" height="2" fill="#000"/><rect x="772" y="866" width="2" height="2" fill="#000"/><rect x="772" y="856" width="2" height="2" fill="#000"/><rect x="772" y="846" width="2" height="2" fill="#000"/><rect x="772" y="836" width="2" height="2" fill="#000"/><rect x="772" y="826" width="2" height="2" fill="#000"/><rect x="772" y="816" width="2" height="2" fill="#000"/><rect x="772" y="804" width="2" height="2" fill="#000"/><rect x="772" y="794" width="2" height="2" fill="#000"/><rect x="772" y="784" width="2" height="2" fill="#000"/><rect x="772" y="774" width="2" height="2" fill="#000"/><rect x="772" y="764" width="2" height="2" fill="#000"/><rect x="772" y="752" width="2" height="2" fill="#000"/><rect x="772" y="742" width="2" height="2" fill="#000"/><rect x="772" y="732" width="2" height="2" fill="#000"/><rect x="772" y="722" width="2" height="2" fill="#000"/><rect x="772" y="712" width="2" height="2" fill="#000"/><rect x="772" y="702" width="2" height="2" fill="#000"/><rect x="772" y="690" width="2" height="2" fill="#000"/><rect x="772" y="680" width="2" height="2" fill="#000"/><rect x="772" y="670" width="2" height="2" fill="#000"/><rect x="772" y="660" width="2" height="2" fill="#000"/><rect x="772" y="650" width="2" height="2" fill="#000"/><rect x="772" y="640" width="2" height="2" fill="#000"/><rect x="772" y="628" width="2" height="2" fill="#000"/><rect x="772" y="618" width="2" height="2" fill="#000"/><rect x="772" y="608" width="2" height="2" fill="#000"/><rect x="772" y="598" width="2" height="2" fill="#000"/><rect x="772" y="588" width="2" height="2" fill="#000"/><rect x="772" y="576" width="2" height="2" fill="#000"/><rect x="772" y="566" width="2" height="2" fill="#000"/><rect x="772" y="556" width="2" height="2" fill="#000"/><rect x="772" y="546" width="2" height="2" fill="#000"/><rect x="772" y="536" width="2" height="2" fill="#000"/><rect x="772" y="526" width="2" height="2" fill="#000"/><rect x="772" y="514" width="2" height="2" fill="#000"/><rect x="772" y="504" width="2" height="2" fill="#000"/><rect x="772" y="494" width="2" height="2" fill="#000"/><rect x="772" y="484" width="2" height="2" fill="#000"/><rect x="772" y="474" width="2" height="2" fill="#000"/><rect x="772" y="464" width="2" height="2" fill="#000"/><rect x="772" y="452" width="2" height="2" fill="#000"/><rect x="772" y="442" width="2" height="2" fill="#000"/><rect x="772" y="432" width="2" height="2" fill="#000"/><rect x="772" y="422" width="2" height="2" fill="#000"/><rect x="772" y="412" width="2" height="2" fill="#000"/><rect x="772" y="402" width="2" height="2" fill="#000"/><rect x="772" y="390" width="2" height="2" fill="#000"/><rect x="772" y="380" width="2" height="2" fill="#000"/><rect x="772" y="370" width="2" height="2" fill="#000"/><rect x="772" y="360" width="2" height="2" fill="#000"/><rect x="772" y="350" width="2" height="2" fill="#000"/><rect x="772" y="338" width="2" height="2" fill="#000"/><rect x="772" y="328" width="2" height="2" fill="#000"/><rect x="772" y="318" width="2" height="2" fill="#000"/><rect x="772" y="308" width="2" height="2" fill="#000"/><rect x="772" y="298" width="2" height="2" fill="#000"/><rect x="772" y="288" width="2" height="2" fill="#000"/><rect x="772" y="276" width="2" height="2" fill="#000"/><rect x="772" y="266" width="2" height="2" fill="#000"/><rect x="772" y="256" width="2" height="2" fill="#000"/><rect x="772" y="246" width="2" height="2" fill="#000"/><rect x="772" y="236" width="2" height="2" fill="#000"/><rect x="772" y="226" width="2" height="2" fill="#000"/><rect x="772" y="214" width="2" height="2" fill="#000"/><rect x="772" y="204" width="2" height="2" fill="#000"/><rect x="772" y="194" width="2" height="2" fill="#000"/><rect x="1150" y="1374" width="2" height="2" fill="#000"/><rect x="1150" y="1364" width="2" height="2" fill="#000"/><rect x="1150" y="1354" width="2" height="2" fill="#000"/><rect x="1150" y="1342" width="2" height="2" fill="#000"/><rect x="1150" y="1332" width="2" height="2" fill="#000"/><rect x="1150" y="1322" width="2" height="2" fill="#000"/><rect x="1150" y="1312" width="2" height="2" fill="#000"/><rect x="1150" y="1302" width="2" height="2" fill="#000"/><rect x="1150" y="1292" width="2" height="2" fill="#000"/><rect x="1150" y="1280" width="2" height="2" fill="#000"/><rect x="1150" y="1270" width="2" height="2" fill="#000"/><rect x="1150" y="1260" width="2" height="2" fill="#000"/><rect x="1150" y="1250" width="2" height="2" fill="#000"/><rect x="1150" y="1240" width="2" height="2" fill="#000"/><rect x="1150" y="1230" width="2" height="2" fill="#000"/><rect x="1150" y="1218" width="2" height="2" fill="#000"/><rect x="1150" y="1208" width="2" height="2" fill="#000"/><rect x="1150" y="1198" width="2" height="2" fill="#000"/><rect x="1150" y="1188" width="2" height="2" fill="#000"/><rect x="1150" y="1178" width="2" height="2" fill="#000"/><rect x="1150" y="1166" width="2" height="2" fill="#000"/><rect x="1150" y="1156" width="2" height="2" fill="#000"/><rect x="1150" y="1146" width="2" height="2" fill="#000"/><rect x="1150" y="1136" width="2" height="2" fill="#000"/><rect x="1150" y="1126" width="2" height="2" fill="#000"/><rect x="1150" y="1116" width="2" height="2" fill="#000"/><rect x="1150" y="1104" width="2" height="2" fill="#000"/><rect x="1150" y="1094" width="2" height="2" fill="#000"/><rect x="1150" y="1084" width="2" height="2" fill="#000"/><rect x="1150" y="1074" width="2" height="2" fill="#000"/><rect x="1150" y="1064" width="2" height="2" fill="#000"/><rect x="1150" y="1054" width="2" height="2" fill="#000"/><rect x="1150" y="1042" width="2" height="2" fill="#000"/><rect x="1150" y="1032" width="2" height="2" fill="#000"/><rect x="1150" y="1022" width="2" height="2" fill="#000"/><rect x="1150" y="1012" width="2" height="2" fill="#000"/><rect x="1150" y="1002" width="2" height="2" fill="#000"/><rect x="1150" y="990" width="2" height="2" fill="#000"/><rect x="1150" y="980" width="2" height="2" fill="#000"/><rect x="1150" y="970" width="2" height="2" fill="#000"/><rect x="1150" y="960" width="2" height="2" fill="#000"/><rect x="1150" y="950" width="2" height="2" fill="#000"/><rect x="1150" y="940" width="2" height="2" fill="#000"/><rect x="1150" y="928" width="2" height="2" fill="#000"/><rect x="1150" y="918" width="2" height="2" fill="#000"/><rect x="1150" y="908" width="2" height="2" fill="#000"/><rect x="1150" y="898" width="2" height="2" fill="#000"/><rect x="1150" y="888" width="2" height="2" fill="#000"/><rect x="1150" y="878" width="2" height="2" fill="#000"/><rect x="1150" y="866" width="2" height="2" fill="#000"/><rect x="1150" y="856" width="2" height="2" fill="#000"/><rect x="1150" y="846" width="2" height="2" fill="#000"/><rect x="1150" y="836" width="2" height="2" fill="#000"/><rect x="1150" y="826" width="2" height="2" fill="#000"/><rect x="1150" y="816" width="2" height="2" fill="#000"/><rect x="1150" y="804" width="2" height="2" fill="#000"/><rect x="1150" y="794" width="2" height="2" fill="#000"/><rect x="1150" y="784" width="2" height="2" fill="#000"/><rect x="1150" y="774" width="2" height="2" fill="#000"/><rect x="1150" y="764" width="2" height="2" fill="#000"/><rect x="1150" y="752" width="2" height="2" fill="#000"/><rect x="1150" y="742" width="2" height="2" fill="#000"/><rect x="1150" y="732" width="2" height="2" fill="#000"/><rect x="1150" y="722" width="2" height="2" fill="#000"/><rect x="1150" y="712" width="2" height="2" fill="#000"/><rect x="1150" y="702" width="2" height="2" fill="#000"/><rect x="1150" y="690" width="2" height="2" fill="#000"/><rect x="1150" y="680" width="2" height="2" fill="#000"/><rect x="1150" y="670" width="2" height="2" fill="#000"/><rect x="1150" y="660" width="2" height="2" fill="#000"/><rect x="1150" y="650" width="2" height="2" fill="#000"/><rect x="1150" y="640" width="2" height="2" fill="#000"/><rect x="1150" y="628" width="2" height="2" fill="#000"/><rect x="1150" y="618" width="2" height="2" fill="#000"/><rect x="1150" y="608" width="2" height="2" fill="#000"/><rect x="1150" y="598" width="2" height="2" fill="#000"/><rect x="1150" y="588" width="2" height="2" fill="#000"/><rect x="1150" y="576" width="2" height="2" fill="#000"/><rect x="1150" y="566" width="2" height="2" fill="#000"/><rect x="1150" y="556" width="2" height="2" fill="#000"/><rect x="1150" y="546" width="2" height="2" fill="#000"/><rect x="1150" y="536" width="2" height="2" fill="#000"/><rect x="1150" y="526" width="2" height="2" fill="#000"/><rect x="1150" y="514" width="2" height="2" fill="#000"/><rect x="1150" y="504" width="2" height="2" fill="#000"/><rect x="1150" y="494" width="2" height="2" fill="#000"/><rect x="1150" y="484" width="2" height="2" fill="#000"/><rect x="1150" y="474" width="2" height="2" fill="#000"/><rect x="1150" y="464" width="2" height="2" fill="#000"/><rect x="1150" y="452" width="2" height="2" fill="#000"/><rect x="1150" y="442" width="2" height="2" fill="#000"/><rect x="1150" y="432" width="2" height="2" fill="#000"/><rect x="1150" y="422" width="2" height="2" fill="#000"/><rect x="1150" y="412" width="2" height="2" fill="#000"/><rect x="1150" y="402" width="2" height="2" fill="#000"/><rect x="1150" y="390" width="2" height="2" fill="#000"/><rect x="1150" y="380" width="2" height="2" fill="#000"/><rect x="1150" y="370" width="2" height="2" fill="#000"/><rect x="1150" y="360" width="2" height="2" fill="#000"/><rect x="1150" y="350" width="2" height="2" fill="#000"/><rect x="1150" y="338" width="2" height="2" fill="#000"/><rect x="1150" y="328" width="2" height="2" fill="#000"/><rect x="1150" y="318" width="2" height="2" fill="#000"/><rect x="1150" y="308" width="2" height="2" fill="#000"/><rect x="1150" y="298" width="2" height="2" fill="#000"/><rect x="1150" y="288" width="2" height="2" fill="#000"/><rect x="1150" y="276" width="2" height="2" fill="#000"/><rect x="1150" y="266" width="2" height="2" fill="#000"/><rect x="1150" y="256" width="2" height="2" fill="#000"/><rect x="1150" y="246" width="2" height="2" fill="#000"/><rect x="1150" y="236" width="2" height="2" fill="#000"/><rect x="1150" y="226" width="2" height="2" fill="#000"/><rect x="1150" y="214" width="2" height="2" fill="#000"/><rect x="1150" y="204" width="2" height="2" fill="#000"/><rect x="1150" y="194" width="2" height="2" fill="#000"/><rect x="1510" y="1374" width="2" height="2" fill="#000"/><rect x="1510" y="1364" width="2" height="2" fill="#000"/><rect x="1510" y="1354" width="2" height="2" fill="#000"/><rect x="1510" y="1342" width="2" height="2" fill="#000"/><rect x="1510" y="1332" width="2" height="2" fill="#000"/><rect x="1510" y="1322" width="2" height="2" fill="#000"/><rect x="1510" y="1312" width="2" height="2" fill="#000"/><rect x="1510" y="1302" width="2" height="2" fill="#000"/><rect x="1510" y="1292" width="2" height="2" fill="#000"/><rect x="1510" y="1280" width="2" height="2" fill="#000"/><rect x="1510" y="1270" width="2" height="2" fill="#000"/><rect x="1510" y="1260" width="2" height="2" fill="#000"/><rect x="1510" y="1250" width="2" height="2" fill="#000"/><rect x="1510" y="1240" width="2" height="2" fill="#000"/><rect x="1510" y="1230" width="2" height="2" fill="#000"/><rect x="1510" y="1218" width="2" height="2" fill="#000"/><rect x="1510" y="1208" width="2" height="2" fill="#000"/><rect x="1510" y="1198" width="2" height="2" fill="#000"/><rect x="1510" y="1188" width="2" height="2" fill="#000"/><rect x="1510" y="1178" width="2" height="2" fill="#000"/><rect x="1510" y="1166" width="2" height="2" fill="#000"/><rect x="1510" y="1156" width="2" height="2" fill="#000"/><rect x="1510" y="1146" width="2" height="2" fill="#000"/><rect x="1510" y="1136" width="2" height="2" fill="#000"/><rect x="1510" y="1126" width="2" height="2" fill="#000"/><rect x="1510" y="1116" width="2" height="2" fill="#000"/><rect x="1510" y="1104" width="2" height="2" fill="#000"/><rect x="1510" y="1094" width="2" height="2" fill="#000"/><rect x="1510" y="1084" width="2" height="2" fill="#000"/><rect x="1510" y="1074" width="2" height="2" fill="#000"/><rect x="1510" y="1064" width="2" height="2" fill="#000"/><rect x="1510" y="1054" width="2" height="2" fill="#000"/><rect x="1510" y="1042" width="2" height="2" fill="#000"/><rect x="1510" y="1032" width="2" height="2" fill="#000"/><rect x="1510" y="1022" width="2" height="2" fill="#000"/><rect x="1510" y="1012" width="2" height="2" fill="#000"/><rect x="1510" y="1002" width="2" height="2" fill="#000"/><rect x="1510" y="990" width="2" height="2" fill="#000"/><rect x="1510" y="980" width="2" height="2" fill="#000"/><rect x="1510" y="970" width="2" height="2" fill="#000"/><rect x="1510" y="960" width="2" height="2" fill="#000"/><rect x="1510" y="950" width="2" height="2" fill="#000"/><rect x="1510" y="940" width="2" height="2" fill="#000"/><rect x="1510" y="928" width="2" height="2" fill="#000"/><rect x="1510" y="918" width="2" height="2" fill="#000"/><rect x="1510" y="908" width="2" height="2" fill="#000"/><rect x="1510" y="898" width="2" height="2" fill="#000"/><rect x="1510" y="888" width="2" height="2" fill="#000"/><rect x="1510" y="878" width="2" height="2" fill="#000"/><rect x="1510" y="866" width="2" height="2" fill="#000"/><rect x="1510" y="856" width="2" height="2" fill="#000"/><rect x="1510" y="846" width="2" height="2" fill="#000"/><rect x="1510" y="836" width="2" height="2" fill="#000"/><rect x="1510" y="826" width="2" height="2" fill="#000"/><rect x="1510" y="816" width="2" height="2" fill="#000"/><rect x="1510" y="804" width="2" height="2" fill="#000"/><rect x="1510" y="794" width="2" height="2" fill="#000"/><rect x="1510" y="784" width="2" height="2" fill="#000"/><rect x="1510" y="774" width="2" height="2" fill="#000"/><rect x="1510" y="764" width="2" height="2" fill="#000"/><rect x="1510" y="752" width="2" height="2" fill="#000"/><rect x="1510" y="742" width="2" height="2" fill="#000"/><rect x="1510" y="732" width="2" height="2" fill="#000"/><rect x="1510" y="722" width="2" height="2" fill="#000"/><rect x="1510" y="712" width="2" height="2" fill="#000"/><rect x="1510" y="702" width="2" height="2" fill="#000"/><rect x="1510" y="690" width="2" height="2" fill="#000"/><rect x="1510" y="680" width="2" height="2" fill="#000"/><rect x="1510" y="670" width="2" height="2" fill="#000"/><rect x="1510" y="660" width="2" height="2" fill="#000"/><rect x="1510" y="650" width="2" height="2" fill="#000"/><rect x="1510" y="640" width="2" height="2" fill="#000"/><rect x="1510" y="628" width="2" height="2" fill="#000"/><rect x="1510" y="618" width="2" height="2" fill="#000"/><rect x="1510" y="608" width="2" height="2" fill="#000"/><rect x="1510" y="598" width="2" height="2" fill="#000"/><rect x="1510" y="588" width="2" height="2" fill="#000"/><rect x="1510" y="576" width="2" height="2" fill="#000"/><rect x="1510" y="566" width="2" height="2" fill="#000"/><rect x="1510" y="556" width="2" height="2" fill="#000"/><rect x="1510" y="546" width="2" height="2" fill="#000"/><rect x="1510" y="536" width="2" height="2" fill="#000"/><rect x="1510" y="526" width="2" height="2" fill="#000"/><rect x="1510" y="514" width="2" height="2" fill="#000"/><rect x="1510" y="504" width="2" height="2" fill="#000"/><rect x="1510" y="494" width="2" height="2" fill="#000"/><rect x="1510" y="484" width="2" height="2" fill="#000"/><rect x="1510" y="474" width="2" height="2" fill="#000"/><rect x="1510" y="464" width="2" height="2" fill="#000"/><rect x="1510" y="452" width="2" height="2" fill="#000"/><rect x="1510" y="442" width="2" height="2" fill="#000"/><rect x="1510" y="432" width="2" height="2" fill="#000"/><rect x="1510" y="422" width="2" height="2" fill="#000"/><rect x="1510" y="412" width="2" height="2" fill="#000"/><rect x="1510" y="402" width="2" height="2" fill="#000"/><rect x="1510" y="390" width="2" height="2" fill="#000"/><rect x="1510" y="380" width="2" height="2" fill="#000"/><rect x="1510" y="370" width="2" height="2" fill="#000"/><rect x="1510" y="360" width="2" height="2" fill="#000"/><rect x="1510" y="350" width="2" height="2" fill="#000"/><rect x="1510" y="338" width="2" height="2" fill="#000"/><rect x="1510" y="328" width="2" height="2" fill="#000"/><rect x="1510" y="318" width="2" height="2" fill="#000"/><rect x="1510" y="308" width="2" height="2" fill="#000"/><rect x="1510" y="298" width="2" height="2" fill="#000"/><rect x="1510" y="288" width="2" height="2" fill="#000"/><rect x="1510" y="276" width="2" height="2" fill="#000"/><rect x="1510" y="266" width="2" height="2" fill="#000"/><rect x="1510" y="256" width="2" height="2" fill="#000"/><rect x="1510" y="246" width="2" height="2" fill="#000"/><rect x="1510" y="236" width="2" height="2" fill="#000"/><rect x="1510" y="226" width="2" height="2" fill="#000"/><rect x="1510" y="214" width="2" height="2" fill="#000"/><rect x="1510" y="204" width="2" height="2" fill="#000"/><rect x="1510" y="194" width="2" height="2" fill="#000"/><rect x="1906" y="1374" width="2" height="2" fill="#000"/><rect x="1906" y="1364" width="2" height="2" fill="#000"/><rect x="1906" y="1354" width="2" height="2" fill="#000"/><rect x="1906" y="1342" width="2" height="2" fill="#000"/><rect x="1906" y="1332" width="2" height="2" fill="#000"/><rect x="1906" y="1322" width="2" height="2" fill="#000"/><rect x="1906" y="1312" width="2" height="2" fill="#000"/><rect x="1906" y="1302" width="2" height="2" fill="#000"/><rect x="1906" y="1292" width="2" height="2" fill="#000"/><rect x="1906" y="1280" width="2" height="2" fill="#000"/><rect x="1906" y="1270" width="2" height="2" fill="#000"/><rect x="1906" y="1260" width="2" height="2" fill="#000"/><rect x="1906" y="1250" width="2" height="2" fill="#000"/><rect x="1906" y="1240" width="2" height="2" fill="#000"/><rect x="1906" y="1230" width="2" height="2" fill="#000"/><rect x="1906" y="1218" width="2" height="2" fill="#000"/><rect x="1906" y="1208" width="2" height="2" fill="#000"/><rect x="1906" y="1198" width="2" height="2" fill="#000"/><rect x="1906" y="1188" width="2" height="2" fill="#000"/><rect x="1906" y="1178" width="2" height="2" fill="#000"/><rect x="1906" y="1166" width="2" height="2" fill="#000"/><rect x="1906" y="1156" width="2" height="2" fill="#000"/><rect x="1906" y="1146" width="2" height="2" fill="#000"/><rect x="1906" y="1136" width="2" height="2" fill="#000"/><rect x="1906" y="1126" width="2" height="2" fill="#000"/><rect x="1906" y="1116" width="2" height="2" fill="#000"/><rect x="1906" y="1104" width="2" height="2" fill="#000"/><rect x="1906" y="1094" width="2" height="2" fill="#000"/><rect x="1906" y="1084" width="2" height="2" fill="#000"/><rect x="1906" y="1074" width="2" height="2" fill="#000"/><rect x="1906" y="1064" width="2" height="2" fill="#000"/><rect x="1906" y="1054" width="2" height="2" fill="#000"/><rect x="1906" y="1042" width="2" height="2" fill="#000"/><rect x="1906" y="1032" width="2" height="2" fill="#000"/><rect x="1906" y="1022" width="2" height="2" fill="#000"/><rect x="1906" y="1012" width="2" height="2" fill="#000"/><rect x="1906" y="1002" width="2" height="2" fill="#000"/><rect x="1906" y="990" width="2" height="2" fill="#000"/><rect x="1906" y="980" width="2" height="2" fill="#000"/><rect x="1906" y="970" width="2" height="2" fill="#000"/><rect x="1906" y="960" width="2" height="2" fill="#000"/><rect x="1906" y="950" width="2" height="2" fill="#000"/><rect x="1906" y="940" width="2" height="2" fill="#000"/><rect x="1906" y="928" width="2" height="2" fill="#000"/><rect x="1906" y="918" width="2" height="2" fill="#000"/><rect x="1906" y="908" width="2" height="2" fill="#000"/><rect x="1906" y="898" width="2" height="2" fill="#000"/><rect x="1906" y="888" width="2" height="2" fill="#000"/><rect x="1906" y="878" width="2" height="2" fill="#000"/><rect x="1906" y="866" width="2" height="2" fill="#000"/><rect x="1906" y="856" width="2" height="2" fill="#000"/><rect x="1906" y="846" width="2" height="2" fill="#000"/><rect x="1906" y="836" width="2" height="2" fill="#000"/><rect x="1906" y="826" width="2" height="2" fill="#000"/><rect x="1906" y="816" width="2" height="2" fill="#000"/><rect x="1906" y="804" width="2" height="2" fill="#000"/><rect x="1906" y="794" width="2" height="2" fill="#000"/><rect x="1906" y="784" width="2" height="2" fill="#000"/><rect x="1906" y="774" width="2" height="2" fill="#000"/><rect x="1906" y="764" width="2" height="2" fill="#000"/><rect x="1906" y="752" width="2" height="2" fill="#000"/><rect x="1906" y="742" width="2" height="2" fill="#000"/><rect x="1906" y="732" width="2" height="2" fill="#000"/><rect x="1906" y="722" width="2" height="2" fill="#000"/><rect x="1906" y="712" width="2" height="2" fill="#000"/><rect x="1906" y="702" width="2" height="2" fill="#000"/><rect x="1906" y="690" width="2" height="2" fill="#000"/><rect x="1906" y="680" width="2" height="2" fill="#000"/><rect x="1906" y="670" width="2" height="2" fill="#000"/><rect x="1906" y="660" width="2" height="2" fill="#000"/><rect x="1906" y="650" width="2" height="2" fill="#000"/><rect x="1906" y="640" width="2" height="2" fill="#000"/><rect x="1906" y="628" width="2" height="2" fill="#000"/><rect x="1906" y="618" width="2" height="2" fill="#000"/><rect x="1906" y="608" width="2" height="2" fill="#000"/><rect x="1906" y="598" width="2" height="2" fill="#000"/><rect x="1906" y="588" width="2" height="2" fill="#000"/><rect x="1906" y="576" width="2" height="2" fill="#000"/><rect x="1906" y="566" width="2" height="2" fill="#000"/><rect x="1906" y="556" width="2" height="2" fill="#000"/><rect x="1906" y="546" width="2" height="2" fill="#000"/><rect x="1906" y="536" width="2" height="2" fill="#000"/><rect x="1906" y="526" width="2" height="2" fill="#000"/><rect x="1906" y="514" width="2" height="2" fill="#000"/><rect x="1906" y="504" width="2" height="2" fill="#000"/><rect x="1906" y="494" width="2" height="2" fill="#000"/><rect x="1906" y="484" width="2" height="2" fill="#000"/><rect x="1906" y="474" width="2" height="2" fill="#000"/><rect x="1906" y="464" width="2" height="2" fill="#000"/><rect x="1906" y="452" width="2" height="2" fill="#000"/><rect x="1906" y="442" width="2" height="2" fill="#000"/><rect x="1906" y="432" width="2" height="2" fill="#000"/><rect x="1906" y="422" width="2" height="2" fill="#000"/><rect x="1906" y="412" width="2" height="2" fill="#000"/><rect x="1906" y="402" width="2" height="2" fill="#000"/><rect x="1906" y="390" width="2" height="2" fill="#000"/><rect x="1906" y="380" width="2" height="2" fill="#000"/><rect x="1906" y="370" width="2" height="2" fill="#000"/><rect x="1906" y="360" width="2" height="2" fill="#000"/><rect x="1906" y="350" width="2" height="2" fill="#000"/><rect x="1906" y="338" width="2" height="2" fill="#000"/><rect x="1906" y="328" width="2" height="2" fill="#000"/><rect x="1906" y="318" width="2" height="2" fill="#000"/><rect x="1906" y="308" width="2" height="2" fill="#000"/><rect x="1906" y="298" width="2" height="2" fill="#000"/><rect x="1906" y="288" width="2" height="2" fill="#000"/><rect x="1906" y="276" width="2" height="2" fill="#000"/><rect x="1906" y="266" width="2" height="2" fill="#000"/><rect x="1906" y="256" width="2" height="2" fill="#000"/><rect x="1906" y="246" width="2" height="2" fill="#000"/><rect x="1906" y="236" width="2" height="2" fill="#000"/><rect x="1906" y="226" width="2" height="2" fill="#000"/><rect x="1906" y="214" width="2" height="2" fill="#000"/><rect x="1906" y="204" width="2" height="2" fill="#000"/><rect x="1906" y="194" width="2" height="2" fill="#000"/><rect x="2302" y="1374" width="2" height="2" fill="#000"/><rect x="2302" y="1364" width="2" height="2" fill="#000"/><rect x="2302" y="1354" width="2" height="2" fill="#000"/><rect x="2302" y="1342" width="2" height="2" fill="#000"/><rect x="2302" y="1332" width="2" height="2" fill="#000"/><rect x="2302" y="1322" width="2" height="2" fill="#000"/><rect x="2302" y="1312" width="2" height="2" fill="#000"/><rect x="2302" y="1302" width="2" height="2" fill="#000"/><rect x="2302" y="1292" width="2" height="2" fill="#000"/><rect x="2302" y="1280" width="2" height="2" fill="#000"/><rect x="2302" y="1270" width="2" height="2" fill="#000"/><rect x="2302" y="1260" width="2" height="2" fill="#000"/><rect x="2302" y="1250" width="2" height="2" fill="#000"/><rect x="2302" y="1240" width="2" height="2" fill="#000"/><rect x="2302" y="1230" width="2" height="2" fill="#000"/><rect x="2302" y="1218" width="2" height="2" fill="#000"/><rect x="2302" y="1208" width="2" height="2" fill="#000"/><rect x="2302" y="1198" width="2" height="2" fill="#000"/><rect x="2302" y="1188" width="2" height="2" fill="#000"/><rect x="2302" y="1178" width="2" height="2" fill="#000"/><rect x="2302" y="1166" width="2" height="2" fill="#000"/><rect x="2302" y="1156" width="2" height="2" fill="#000"/><rect x="2302" y="1146" width="2" height="2" fill="#000"/><rect x="2302" y="1136" width="2" height="2" fill="#000"/><rect x="2302" y="1126" width="2" height="2" fill="#000"/><rect x="2302" y="1116" width="2" height="2" fill="#000"/><rect x="2302" y="1104" width="2" height="2" fill="#000"/><rect x="2302" y="1094" width="2" height="2" fill="#000"/><rect x="2302" y="1084" width="2" height="2" fill="#000"/><rect x="2302" y="1074" width="2" height="2" fill="#000"/><rect x="2302" y="1064" width="2" height="2" fill="#000"/><rect x="2302" y="1054" width="2" height="2" fill="#000"/><rect x="2302" y="1042" width="2" height="2" fill="#000"/><rect x="2302" y="1032" width="2" height="2" fill="#000"/><rect x="2302" y="1022" width="2" height="2" fill="#000"/><rect x="2302" y="1012" width="2" height="2" fill="#000"/><rect x="2302" y="1002" width="2" height="2" fill="#000"/><rect x="2302" y="990" width="2" height="2" fill="#000"/><rect x="2302" y="980" width="2" height="2" fill="#000"/><rect x="2302" y="970" width="2" height="2" fill="#000"/><rect x="2302" y="960" width="2" height="2" fill="#000"/><rect x="2302" y="950" width="2" height="2" fill="#000"/><rect x="2302" y="940" width="2" height="2" fill="#000"/><rect x="2302" y="928" width="2" height="2" fill="#000"/><rect x="2302" y="918" width="2" height="2" fill="#000"/><rect x="2302" y="908" width="2" height="2" fill="#000"/><rect x="2302" y="898" width="2" height="2" fill="#000"/><rect x="2302" y="888" width="2" height="2" fill="#000"/><rect x="2302" y="878" width="2" height="2" fill="#000"/><rect x="2302" y="866" width="2" height="2" fill="#000"/><rect x="2302" y="856" width="2" height="2" fill="#000"/><rect x="2302" y="846" width="2" height="2" fill="#000"/><rect x="2302" y="836" width="2" height="2" fill="#000"/><rect x="2302" y="826" width="2" height="2" fill="#000"/><rect x="2302" y="816" width="2" height="2" fill="#000"/><rect x="2302" y="804" width="2" height="2" fill="#000"/><rect x="2302" y="794" width="2" height="2" fill="#000"/><rect x="2302" y="784" width="2" height="2" fill="#000"/><rect x="2302" y="774" width="2" height="2" fill="#000"/><rect x="2302" y="764" width="2" height="2" fill="#000"/><rect x="2302" y="752" width="2" height="2" fill="#000"/><rect x="2302" y="742" width="2" height="2" fill="#000"/><rect x="2302" y="732" width="2" height="2" fill="#000"/><rect x="2302" y="722" width="2" height="2" fill="#000"/><rect x="2302" y="712" width="2" height="2" fill="#000"/><rect x="2302" y="702" width="2" height="2" fill="#000"/><rect x="2302" y="690" width="2" height="2" fill="#000"/><rect x="2302" y="680" width="2" height="2" fill="#000"/><rect x="2302" y="670" width="2" height="2" fill="#000"/><rect x="2302" y="660" width="2" height="2" fill="#000"/><rect x="2302" y="650" width="2" height="2" fill="#000"/><rect x="2302" y="640" width="2" height="2" fill="#000"/><rect x="2302" y="628" width="2" height="2" fill="#000"/><rect x="2302" y="618" width="2" height="2" fill="#000"/><rect x="2302" y="608" width="2" height="2" fill="#000"/><rect x="2302" y="598" width="2" height="2" fill="#000"/><rect x="2302" y="588" width="2" height="2" fill="#000"/><rect x="2302" y="576" width="2" height="2" fill="#000"/><rect x="2302" y="566" width="2" height="2" fill="#000"/><rect x="2302" y="556" width="2" height="2" fill="#000"/><rect x="2302" y="546" width="2" height="2" fill="#000"/><rect x="2302" y="536" width="2" height="2" fill="#000"/><rect x="2302" y="526" width="2" height="2" fill="#000"/><rect x="2302" y="514" width="2" height="2" fill="#000"/><rect x="2302" y="504" width="2" height="2" fill="#000"/><rect x="2302" y="494" width="2" height="2" fill="#000"/><rect x="2302" y="484" width="2" height="2" fill="#000"/><rect x="2302" y="474" width="2" height="2" fill="#000"/><rect x="2302" y="464" width="2" height="2" fill="#000"/><rect x="2302" y="452" width="2" height="2" fill="#000"/><rect x="2302" y="442" width="2" height="2" fill="#000"/><rect x="2302" y="432" width="2" height="2" fill="#000"/><rect x="2302" y="422" width="2" height="2" fill="#000"/><rect x="2302" y="412" width="2" height="2" fill="#000"/><rect x="2302" y="402" width="2" height="2" fill="#000"/><rect x="2302" y="390" width="2" height="2" fill="#000"/><rect x="2302" y="380" width="2" height="2" fill="#000"/><rect x="2302" y="370" width="2" height="2" fill="#000"/><rect x="2302" y="360" width="2" height="2" fill="#000"/><rect x="2302" y="350" width="2" height="2" fill="#000"/><rect x="2302" y="338" width="2" height="2" fill="#000"/><rect x="2302" y="328" width="2" height="2" fill="#000"/><rect x="2302" y="318" width="2" height="2" fill="#000"/><rect x="2302" y="308" width="2" height="2" fill="#000"/><rect x="2302" y="298" width="2" height="2" fill="#000"/><rect x="2302" y="288" width="2" height="2" fill="#000"/><rect x="2302" y="276" width="2" height="2" fill="#000"/><rect x="2302" y="266" width="2" height="2" fill="#000"/><rect x="2302" y="256" width="2" height="2" fill="#000"/><rect x="2302" y="246" width="2" height="2" fill="#000"/><rect x="2302" y="236" width="2" height="2" fill="#000"/><rect x="2302" y="226" width="2" height="2" fill="#000"/><rect x="2302" y="214" width="2" height="2" fill="#000"/><rect x="2302" y="204" width="2" height="2" fill="#000"/><rect x="2302" y="194" width="2" height="2" fill="#000"/><rect x="2680" y="1374" width="2" height="2" fill="#000"/><rect x="2680" y="1364" width="2" height="2" fill="#000"/><rect x="2680" y="1354" width="2" height="2" fill="#000"/><rect x="2680" y="1342" width="2" height="2" fill="#000"/><rect x="2680" y="1332" width="2" height="2" fill="#000"/><rect x="2680" y="1322" width="2" height="2" fill="#000"/><rect x="2680" y="1312" width="2" height="2" fill="#000"/><rect x="2680" y="1302" width="2" height="2" fill="#000"/><rect x="2680" y="1292" width="2" height="2" fill="#000"/><rect x="2680" y="1280" width="2" height="2" fill="#000"/><rect x="2680" y="1270" width="2" height="2" fill="#000"/><rect x="2680" y="1260" width="2" height="2" fill="#000"/><rect x="2680" y="1250" width="2" height="2" fill="#000"/><rect x="2680" y="1240" width="2" height="2" fill="#000"/><rect x="2680" y="1230" width="2" height="2" fill="#000"/><rect x="2680" y="1218" width="2" height="2" fill="#000"/><rect x="2680" y="1208" width="2" height="2" fill="#000"/><rect x="2680" y="1198" width="2" height="2" fill="#000"/><rect x="2680" y="1188" width="2" height="2" fill="#000"/><rect x="2680" y="1178" width="2" height="2" fill="#000"/><rect x="2680" y="1166" width="2" height="2" fill="#000"/><rect x="2680" y="1156" width="2" height="2" fill="#000"/><rect x="2680" y="1146" width="2" height="2" fill="#000"/><rect x="2680" y="1136" width="2" height="2" fill="#000"/><rect x="2680" y="1126" width="2" height="2" fill="#000"/><rect x="2680" y="1116" width="2" height="2" fill="#000"/><rect x="2680" y="1104" width="2" height="2" fill="#000"/><rect x="2680" y="1094" width="2" height="2" fill="#000"/><rect x="2680" y="1084" width="2" height="2" fill="#000"/><rect x="2680" y="1074" width="2" height="2" fill="#000"/><rect x="2680" y="1064" width="2" height="2" fill="#000"/><rect x="2680" y="1054" width="2" height="2" fill="#000"/><rect x="2680" y="1042" width="2" height="2" fill="#000"/><rect x="2680" y="1032" width="2" height="2" fill="#000"/><rect x="2680" y="1022" width="2" height="2" fill="#000"/><rect x="2680" y="1012" width="2" height="2" fill="#000"/><rect x="2680" y="1002" width="2" height="2" fill="#000"/><rect x="2680" y="990" width="2" height="2" fill="#000"/><rect x="2680" y="980" width="2" height="2" fill="#000"/><rect x="2680" y="970" width="2" height="2" fill="#000"/><rect x="2680" y="960" width="2" height="2" fill="#000"/><rect x="2680" y="950" width="2" height="2" fill="#000"/><rect x="2680" y="940" width="2" height="2" fill="#000"/><rect x="2680" y="928" width="2" height="2" fill="#000"/><rect x="2680" y="918" width="2" height="2" fill="#000"/><rect x="2680" y="908" width="2" height="2" fill="#000"/><rect x="2680" y="898" width="2" height="2" fill="#000"/><rect x="2680" y="888" width="2" height="2" fill="#000"/><rect x="2680" y="878" width="2" height="2" fill="#000"/><rect x="2680" y="866" width="2" height="2" fill="#000"/><rect x="2680" y="856" width="2" height="2" fill="#000"/><rect x="2680" y="846" width="2" height="2" fill="#000"/><rect x="2680" y="836" width="2" height="2" fill="#000"/><rect x="2680" y="826" width="2" height="2" fill="#000"/><rect x="2680" y="816" width="2" height="2" fill="#000"/><rect x="2680" y="804" width="2" height="2" fill="#000"/><rect x="2680" y="794" width="2" height="2" fill="#000"/><rect x="2680" y="784" width="2" height="2" fill="#000"/><rect x="2680" y="774" width="2" height="2" fill="#000"/><rect x="2680" y="764" width="2" height="2" fill="#000"/><rect x="2680" y="752" width="2" height="2" fill="#000"/><rect x="2680" y="742" width="2" height="2" fill="#000"/><rect x="2680" y="732" width="2" height="2" fill="#000"/><rect x="2680" y="722" width="2" height="2" fill="#000"/><rect x="2680" y="712" width="2" height="2" fill="#000"/><rect x="2680" y="702" width="2" height="2" fill="#000"/><rect x="2680" y="690" width="2" height="2" fill="#000"/><rect x="2680" y="680" width="2" height="2" fill="#000"/><rect x="2680" y="670" width="2" height="2" fill="#000"/><rect x="2680" y="660" width="2" height="2" fill="#000"/><rect x="2680" y="650" width="2" height="2" fill="#000"/><rect x="2680" y="640" width="2" height="2" fill="#000"/><rect x="2680" y="628" width="2" height="2" fill="#000"/><rect x="2680" y="618" width="2" height="2" fill="#000"/><rect x="2680" y="608" width="2" height="2" fill="#000"/><rect x="2680" y="598" width="2" height="2" fill="#000"/><rect x="2680" y="588" width="2" height="2" fill="#000"/><rect x="2680" y="576" width="2" height="2" fill="#000"/><rect x="2680" y="566" width="2" height="2" fill="#000"/><rect x="2680" y="556" width="2" height="2" fill="#000"/><rect x="2680" y="546" width="2" height="2" fill="#000"/><rect x="2680" y="536" width="2" height="2" fill="#000"/><rect x="2680" y="526" width="2" height="2" fill="#000"/><rect x="2680" y="514" width="2" height="2" fill="#000"/><rect x="2680" y="504" width="2" height="2" fill="#000"/><rect x="2680" y="494" width="2" height="2" fill="#000"/><rect x="2680" y="484" width="2" height="2" fill="#000"/><rect x="2680" y="474" width="2" height="2" fill="#000"/><rect x="2680" y="464" width="2" height="2" fill="#000"/><rect x="2680" y="452" width="2" height="2" fill="#000"/><rect x="2680" y="442" width="2" height="2" fill="#000"/><rect x="2680" y="432" width="2" height="2" fill="#000"/><rect x="2680" y="422" width="2" height="2" fill="#000"/><rect x="2680" y="412" width="2" height="2" fill="#000"/><rect x="2680" y="402" width="2" height="2" fill="#000"/><rect x="2680" y="390" width="2" height="2" fill="#000"/><rect x="2680" y="380" width="2" height="2" fill="#000"/><rect x="2680" y="370" width="2" height="2" fill="#000"/><rect x="2680" y="360" width="2" height="2" fill="#000"/><rect x="2680" y="350" width="2" height="2" fill="#000"/><rect x="2680" y="338" width="2" height="2" fill="#000"/><rect x="2680" y="328" width="2" height="2" fill="#000"/><rect x="2680" y="318" width="2" height="2" fill="#000"/><rect x="2680" y="308" width="2" height="2" fill="#000"/><rect x="2680" y="298" width="2" height="2" fill="#000"/><rect x="2680" y="288" width="2" height="2" fill="#000"/><rect x="2680" y="276" width="2" height="2" fill="#000"/><rect x="2680" y="266" width="2" height="2" fill="#000"/><rect x="2680" y="256" width="2" height="2" fill="#000"/><rect x="2680" y="246" width="2" height="2" fill="#000"/><rect x="2680" y="236" width="2" height="2" fill="#000"/><rect x="2680" y="226" width="2" height="2" fill="#000"/><rect x="2680" y="214" width="2" height="2" fill="#000"/><rect x="2680" y="204" width="2" height="2" fill="#000"/><rect x="2680" y="194" width="2" height="2" fill="#000"/><rect x="210" y="1058" width="10" height="2" fill="#000"/><rect x="232" y="1044" width="2" height="4" fill="#000"/><rect x="228" y="1038" width="10" height="6" fill="#000"/><rect x="230" y="1040" width="6" height="2" fill="#6ff446"/><rect x="250" y="1032" width="2" height="2" fill="#000"/><rect x="246" y="1034" width="10" height="2" fill="#000"/><rect x="264" y="1034" width="10" height="8" fill="#000"/><rect x="266" y="1036" width="6" height="4" fill="#e8452a"/><rect x="282" y="1062" width="10" height="2" fill="#000"/><rect x="304" y="1080" width="2" height="2" fill="#000"/><rect x="300" y="1070" width="10" height="10" fill="#000"/><rect x="302" y="1072" width="6" height="6" fill="#6ff446"/><rect x="322" y="1078" width="2" height="8" fill="#000"/><rect x="318" y="1064" width="10" height="14" fill="#000"/><rect x="320" y="1066" width="6" height="10" fill="#e8452a"/><rect x="336" y="1094" width="10" height="2" fill="#000"/><rect x="358" y="1120" width="2" height="10" fill="#000"/><rect x="354" y="1094" width="10" height="26" fill="#000"/><rect x="356" y="1096" width="6" height="22" fill="#e8452a"/><rect x="376" y="1094" width="2" height="12" fill="#000"/><rect x="372" y="1106" width="10" height="2" fill="#000"/><rect x="394" y="1092" width="2" height="20" fill="#000"/><rect x="394" y="1114" width="2" height="8" fill="#000"/><rect x="390" y="1112" width="10" height="2" fill="#000"/><rect x="408" y="1110" width="10" height="2" fill="#000"/><rect x="426" y="1130" width="10" height="2" fill="#000"/><rect x="448" y="1158" width="2" height="8" fill="#000"/><rect x="444" y="1136" width="10" height="22" fill="#000"/><rect x="446" y="1138" width="6" height="18" fill="#e8452a"/><rect x="466" y="1210" width="2" height="4" fill="#000"/><rect x="462" y="1208" width="10" height="2" fill="#000"/><rect x="484" y="1178" width="2" height="6" fill="#000"/><rect x="480" y="1184" width="10" height="2" fill="#e8452a"/><rect x="502" y="1178" width="2" height="12" fill="#000"/><rect x="502" y="1198" width="2" height="8" fill="#000"/><rect x="498" y="1190" width="10" height="8" fill="#000"/><rect x="500" y="1192" width="6" height="4" fill="#6ff446"/><rect x="516" y="1218" width="10" height="10" fill="#000"/><rect x="518" y="1220" width="6" height="6" fill="#e8452a"/><rect x="538" y="1198" width="2" height="16" fill="#000"/><rect x="538" y="1238" width="2" height="16" fill="#000"/><rect x="534" y="1214" width="10" height="24" fill="#000"/><rect x="536" y="1216" width="6" height="20" fill="#6ff446"/><rect x="556" y="1250" width="2" height="2" fill="#000"/><rect x="552" y="1252" width="10" height="2" fill="#000"/><rect x="574" y="1250" width="2" height="10" fill="#000"/><rect x="574" y="1264" width="2" height="8" fill="#000"/><rect x="570" y="1260" width="10" height="4" fill="#e8452a"/><rect x="592" y="1268" width="2" height="20" fill="#000"/><rect x="588" y="1266" width="10" height="2" fill="#000"/><rect x="606" y="1236" width="10" height="14" fill="#000"/><rect x="608" y="1238" width="6" height="10" fill="#e8452a"/><rect x="628" y="1230" width="2" height="2" fill="#000"/><rect x="624" y="1232" width="10" height="14" fill="#000"/><rect x="626" y="1234" width="6" height="10" fill="#e8452a"/><rect x="642" y="1244" width="10" height="2" fill="#000"/><rect x="660" y="1242" width="10" height="2" fill="#000"/><rect x="682" y="1252" width="2" height="2" fill="#000"/><rect x="678" y="1254" width="10" height="8" fill="#000"/><rect x="680" y="1256" width="6" height="4" fill="#6ff446"/><rect x="696" y="1242" width="10" height="10" fill="#000"/><rect x="698" y="1244" width="6" height="6" fill="#6ff446"/><rect x="718" y="1238" width="2" height="14" fill="#000"/><rect x="718" y="1254" width="2" height="2" fill="#000"/><rect x="714" y="1252" width="10" height="2" fill="#e8452a"/><rect x="732" y="1282" width="10" height="4" fill="#e8452a"/><rect x="754" y="1298" width="2" height="2" fill="#000"/><rect x="754" y="1302" width="2" height="16" fill="#000"/><rect x="750" y="1300" width="10" height="2" fill="#6ff446"/><rect x="772" y="1334" width="2" height="18" fill="#000"/><rect x="768" y="1332" width="10" height="2" fill="#e8452a"/><rect x="790" y="1306" width="2" height="12" fill="#000"/><rect x="786" y="1318" width="10" height="14" fill="#000"/><rect x="788" y="1320" width="6" height="10" fill="#e8452a"/><rect x="804" y="1336" width="10" height="2" fill="#6ff446"/><rect x="826" y="1302" width="2" height="2" fill="#000"/><rect x="822" y="1300" width="10" height="2" fill="#000"/><rect x="844" y="1250" width="2" height="6" fill="#000"/><rect x="844" y="1264" width="2" height="18" fill="#000"/><rect x="840" y="1256" width="10" height="8" fill="#000"/><rect x="842" y="1258" width="6" height="4" fill="#6ff446"/><rect x="862" y="1242" width="2" height="8" fill="#000"/><rect x="862" y="1256" width="2" height="8" fill="#000"/><rect x="858" y="1250" width="10" height="6" fill="#000"/><rect x="860" y="1252" width="6" height="2" fill="#e8452a"/><rect x="880" y="1258" width="2" height="6" fill="#000"/><rect x="876" y="1224" width="10" height="34" fill="#000"/><rect x="878" y="1226" width="6" height="30" fill="#6ff446"/><rect x="894" y="1210" width="10" height="2" fill="#000"/><rect x="916" y="1198" width="2" height="18" fill="#000"/><rect x="916" y="1220" width="2" height="10" fill="#000"/><rect x="912" y="1216" width="10" height="4" fill="#6ff446"/><rect x="934" y="1244" width="2" height="8" fill="#000"/><rect x="930" y="1216" width="10" height="28" fill="#000"/><rect x="932" y="1218" width="6" height="24" fill="#e8452a"/><rect x="952" y="1218" width="2" height="2" fill="#000"/><rect x="952" y="1232" width="2" height="14" fill="#000"/><rect x="948" y="1220" width="10" height="12" fill="#000"/><rect x="950" y="1222" width="6" height="8" fill="#e8452a"/><rect x="970" y="1222" width="2" height="10" fill="#000"/><rect x="966" y="1218" width="10" height="4" fill="#e8452a"/><rect x="984" y="1258" width="10" height="2" fill="#000"/><rect x="1006" y="1270" width="2" height="4" fill="#000"/><rect x="1006" y="1286" width="2" height="4" fill="#000"/><rect x="1002" y="1274" width="10" height="12" fill="#000"/><rect x="1004" y="1276" width="6" height="8" fill="#e8452a"/><rect x="1020" y="1264" width="10" height="14" fill="#000"/><rect x="1022" y="1266" width="6" height="10" fill="#6ff446"/><rect x="1038" y="1266" width="10" height="10" fill="#000"/><rect x="1040" y="1268" width="6" height="6" fill="#e8452a"/><rect x="1060" y="1270" width="2" height="2" fill="#000"/><rect x="1056" y="1272" width="10" height="4" fill="#e8452a"/><rect x="1078" y="1292" width="2" height="2" fill="#000"/><rect x="1074" y="1280" width="10" height="12" fill="#000"/><rect x="1076" y="1282" width="6" height="8" fill="#e8452a"/><rect x="1096" y="1256" width="2" height="14" fill="#000"/><rect x="1092" y="1270" width="10" height="16" fill="#000"/><rect x="1094" y="1272" width="6" height="12" fill="#6ff446"/><rect x="1110" y="1280" width="10" height="2" fill="#000"/><rect x="1128" y="1262" width="10" height="2" fill="#000"/><rect x="1150" y="1240" width="2" height="6" fill="#000"/><rect x="1146" y="1246" width="10" height="16" fill="#000"/><rect x="1148" y="1248" width="6" height="12" fill="#6ff446"/><rect x="1168" y="1232" width="2" height="4" fill="#000"/><rect x="1164" y="1226" width="10" height="6" fill="#000"/><rect x="1166" y="1228" width="6" height="2" fill="#6ff446"/><rect x="1186" y="1210" width="2" height="6" fill="#000"/><rect x="1186" y="1220" width="2" height="2" fill="#000"/><rect x="1182" y="1216" width="10" height="4" fill="#6ff446"/><rect x="1204" y="1208" width="2" height="4" fill="#000"/><rect x="1204" y="1224" width="2" height="4" fill="#000"/><rect x="1200" y="1212" width="10" height="12" fill="#000"/><rect x="1202" y="1214" width="6" height="8" fill="#e8452a"/><rect x="1222" y="1210" width="2" height="6" fill="#000"/><rect x="1222" y="1234" width="2" height="4" fill="#000"/><rect x="1218" y="1216" width="10" height="18" fill="#000"/><rect x="1220" y="1218" width="6" height="14" fill="#6ff446"/><rect x="1240" y="1176" width="2" height="4" fill="#000"/><rect x="1236" y="1180" width="10" height="30" fill="#000"/><rect x="1238" y="1182" width="6" height="26" fill="#6ff446"/><rect x="1258" y="1164" width="2" height="6" fill="#000"/><rect x="1258" y="1204" width="2" height="2" fill="#000"/><rect x="1254" y="1170" width="10" height="34" fill="#000"/><rect x="1256" y="1172" width="6" height="30" fill="#e8452a"/><rect x="1276" y="1178" width="2" height="14" fill="#000"/><rect x="1272" y="1192" width="10" height="8" fill="#000"/><rect x="1274" y="1194" width="6" height="4" fill="#6ff446"/><rect x="1294" y="1182" width="2" height="4" fill="#000"/><rect x="1294" y="1204" width="2" height="6" fill="#000"/><rect x="1290" y="1186" width="10" height="18" fill="#000"/><rect x="1292" y="1188" width="6" height="14" fill="#e8452a"/><rect x="1312" y="1198" width="2" height="10" fill="#000"/><rect x="1312" y="1212" width="2" height="6" fill="#000"/><rect x="1308" y="1208" width="10" height="4" fill="#6ff446"/><rect x="1330" y="1202" width="2" height="4" fill="#000"/><rect x="1330" y="1208" width="2" height="4" fill="#000"/><rect x="1326" y="1206" width="10" height="2" fill="#000"/><rect x="1348" y="1206" width="2" height="4" fill="#000"/><rect x="1344" y="1198" width="10" height="8" fill="#000"/><rect x="1346" y="1200" width="6" height="4" fill="#e8452a"/><rect x="1366" y="1202" width="2" height="2" fill="#000"/><rect x="1362" y="1186" width="10" height="16" fill="#000"/><rect x="1364" y="1188" width="6" height="12" fill="#6ff446"/><rect x="1384" y="1156" width="2" height="10" fill="#000"/><rect x="1380" y="1166" width="10" height="6" fill="#000"/><rect x="1382" y="1168" width="6" height="2" fill="#6ff446"/><rect x="1402" y="1164" width="2" height="14" fill="#000"/><rect x="1398" y="1158" width="10" height="6" fill="#000"/><rect x="1400" y="1160" width="6" height="2" fill="#6ff446"/><rect x="1420" y="1156" width="2" height="2" fill="#000"/><rect x="1420" y="1172" width="2" height="2" fill="#000"/><rect x="1416" y="1158" width="10" height="14" fill="#000"/><rect x="1418" y="1160" width="6" height="10" fill="#e8452a"/><rect x="1438" y="1158" width="2" height="8" fill="#000"/><rect x="1438" y="1186" width="2" height="6" fill="#000"/><rect x="1434" y="1166" width="10" height="20" fill="#000"/><rect x="1436" y="1168" width="6" height="16" fill="#e8452a"/><rect x="1456" y="1188" width="2" height="2" fill="#000"/><rect x="1452" y="1182" width="10" height="6" fill="#000"/><rect x="1454" y="1184" width="6" height="2" fill="#6ff446"/><rect x="1474" y="1152" width="2" height="10" fill="#000"/><rect x="1474" y="1172" width="2" height="10" fill="#000"/><rect x="1470" y="1162" width="10" height="10" fill="#000"/><rect x="1472" y="1164" width="6" height="6" fill="#e8452a"/><rect x="1492" y="1160" width="2" height="4" fill="#000"/><rect x="1488" y="1164" width="10" height="12" fill="#000"/><rect x="1490" y="1166" width="6" height="8" fill="#e8452a"/><rect x="1506" y="1170" width="10" height="2" fill="#000"/><rect x="1528" y="1170" width="2" height="6" fill="#000"/><rect x="1524" y="1176" width="10" height="4" fill="#e8452a"/><rect x="1546" y="1202" width="2" height="4" fill="#000"/><rect x="1542" y="1190" width="10" height="12" fill="#000"/><rect x="1544" y="1192" width="6" height="8" fill="#e8452a"/><rect x="1564" y="1186" width="2" height="2" fill="#000"/><rect x="1564" y="1198" width="2" height="2" fill="#000"/><rect x="1560" y="1188" width="10" height="10" fill="#000"/><rect x="1562" y="1190" width="6" height="6" fill="#6ff446"/><rect x="1582" y="1170" width="2" height="2" fill="#000"/><rect x="1578" y="1172" width="10" height="8" fill="#000"/><rect x="1580" y="1174" width="6" height="4" fill="#6ff446"/><rect x="1600" y="1160" width="2" height="6" fill="#000"/><rect x="1600" y="1168" width="2" height="2" fill="#000"/><rect x="1596" y="1166" width="10" height="2" fill="#6ff446"/><rect x="1614" y="1190" width="10" height="2" fill="#000"/><rect x="1636" y="1172" width="2" height="10" fill="#000"/><rect x="1632" y="1182" width="10" height="2" fill="#000"/><rect x="1654" y="1170" width="2" height="4" fill="#000"/><rect x="1654" y="1196" width="2" height="6" fill="#000"/><rect x="1650" y="1174" width="10" height="22" fill="#000"/><rect x="1652" y="1176" width="6" height="18" fill="#e8452a"/><rect x="1672" y="1186" width="2" height="2" fill="#000"/><rect x="1668" y="1188" width="10" height="12" fill="#000"/><rect x="1670" y="1190" width="6" height="8" fill="#e8452a"/><rect x="1690" y="1190" width="2" height="2" fill="#000"/><rect x="1690" y="1202" width="2" height="4" fill="#000"/><rect x="1686" y="1192" width="10" height="10" fill="#000"/><rect x="1688" y="1194" width="6" height="6" fill="#6ff446"/><rect x="1708" y="1170" width="2" height="8" fill="#000"/><rect x="1704" y="1166" width="10" height="4" fill="#6ff446"/><rect x="1726" y="1152" width="2" height="2" fill="#000"/><rect x="1726" y="1168" width="2" height="10" fill="#000"/><rect x="1722" y="1154" width="10" height="14" fill="#000"/><rect x="1724" y="1156" width="6" height="10" fill="#6ff446"/><rect x="1744" y="1116" width="2" height="2" fill="#000"/><rect x="1744" y="1152" width="2" height="4" fill="#000"/><rect x="1740" y="1118" width="10" height="34" fill="#000"/><rect x="1742" y="1120" width="6" height="30" fill="#6ff446"/><rect x="1762" y="1090" width="2" height="6" fill="#000"/><rect x="1762" y="1110" width="2" height="2" fill="#000"/><rect x="1758" y="1096" width="10" height="14" fill="#000"/><rect x="1760" y="1098" width="6" height="10" fill="#6ff446"/><rect x="1780" y="1070" width="2" height="2" fill="#000"/><rect x="1780" y="1096" width="2" height="8" fill="#000"/><rect x="1776" y="1072" width="10" height="24" fill="#000"/><rect x="1778" y="1074" width="6" height="20" fill="#6ff446"/><rect x="1798" y="1076" width="2" height="2" fill="#000"/><rect x="1794" y="1046" width="10" height="30" fill="#000"/><rect x="1796" y="1048" width="6" height="26" fill="#6ff446"/><rect x="1816" y="1078" width="2" height="6" fill="#000"/><rect x="1812" y="1054" width="10" height="24" fill="#000"/><rect x="1814" y="1056" width="6" height="20" fill="#e8452a"/><rect x="1834" y="1048" width="2" height="16" fill="#000"/><rect x="1830" y="1064" width="10" height="12" fill="#000"/><rect x="1832" y="1066" width="6" height="8" fill="#6ff446"/><rect x="1852" y="1040" width="2" height="12" fill="#000"/><rect x="1848" y="1052" width="10" height="24" fill="#000"/><rect x="1850" y="1054" width="6" height="20" fill="#e8452a"/><rect x="1870" y="1070" width="2" height="10" fill="#000"/><rect x="1870" y="1082" width="2" height="8" fill="#000"/><rect x="1866" y="1080" width="10" height="2" fill="#e8452a"/><rect x="1888" y="1050" width="2" height="4" fill="#000"/><rect x="1884" y="1054" width="10" height="22" fill="#000"/><rect x="1886" y="1056" width="6" height="18" fill="#6ff446"/><rect x="1906" y="1046" width="2" height="2" fill="#000"/><rect x="1906" y="1056" width="2" height="2" fill="#000"/><rect x="1902" y="1048" width="10" height="8" fill="#000"/><rect x="1904" y="1050" width="6" height="4" fill="#e8452a"/><rect x="1924" y="1034" width="2" height="2" fill="#000"/><rect x="1924" y="1044" width="2" height="6" fill="#000"/><rect x="1920" y="1036" width="10" height="8" fill="#000"/><rect x="1922" y="1038" width="6" height="4" fill="#e8452a"/><rect x="1942" y="1012" width="2" height="2" fill="#000"/><rect x="1938" y="1014" width="10" height="22" fill="#000"/><rect x="1940" y="1016" width="6" height="18" fill="#6ff446"/><rect x="1960" y="996" width="2" height="18" fill="#000"/><rect x="1960" y="1018" width="2" height="4" fill="#000"/><rect x="1956" y="1014" width="10" height="4" fill="#e8452a"/><rect x="1978" y="1008" width="2" height="22" fill="#000"/><rect x="1974" y="996" width="10" height="12" fill="#000"/><rect x="1976" y="998" width="6" height="8" fill="#6ff446"/><rect x="1996" y="998" width="2" height="4" fill="#000"/><rect x="1992" y="972" width="10" height="26" fill="#000"/><rect x="1994" y="974" width="6" height="22" fill="#6ff446"/><rect x="2014" y="934" width="2" height="6" fill="#000"/><rect x="2010" y="940" width="10" height="36" fill="#000"/><rect x="2012" y="942" width="6" height="32" fill="#6ff446"/><rect x="2032" y="916" width="2" height="14" fill="#000"/><rect x="2032" y="942" width="2" height="14" fill="#000"/><rect x="2028" y="930" width="10" height="12" fill="#000"/><rect x="2030" y="932" width="6" height="8" fill="#e8452a"/><rect x="2050" y="900" width="2" height="10" fill="#000"/><rect x="2046" y="910" width="10" height="42" fill="#000"/><rect x="2048" y="912" width="6" height="38" fill="#6ff446"/><rect x="2068" y="904" width="2" height="4" fill="#000"/><rect x="2068" y="928" width="2" height="12" fill="#000"/><rect x="2064" y="908" width="10" height="20" fill="#000"/><rect x="2066" y="910" width="6" height="16" fill="#e8452a"/><rect x="2086" y="898" width="2" height="2" fill="#000"/><rect x="2082" y="900" width="10" height="28" fill="#000"/><rect x="2084" y="902" width="6" height="24" fill="#6ff446"/><rect x="2104" y="866" width="2" height="6" fill="#000"/><rect x="2100" y="872" width="10" height="28" fill="#000"/><rect x="2102" y="874" width="6" height="24" fill="#6ff446"/><rect x="2122" y="862" width="2" height="6" fill="#000"/><rect x="2118" y="868" width="10" height="46" fill="#000"/><rect x="2120" y="870" width="6" height="42" fill="#e8452a"/><rect x="2136" y="928" width="10" height="24" fill="#000"/><rect x="2138" y="930" width="6" height="20" fill="#e8452a"/><rect x="2158" y="930" width="2" height="34" fill="#000"/><rect x="2158" y="976" width="2" height="36" fill="#000"/><rect x="2154" y="964" width="10" height="12" fill="#000"/><rect x="2156" y="966" width="6" height="8" fill="#e8452a"/><rect x="2176" y="934" width="2" height="12" fill="#000"/><rect x="2176" y="960" width="2" height="28" fill="#000"/><rect x="2172" y="946" width="10" height="14" fill="#000"/><rect x="2174" y="948" width="6" height="10" fill="#6ff446"/><rect x="2194" y="934" width="2" height="14" fill="#000"/><rect x="2190" y="906" width="10" height="28" fill="#000"/><rect x="2192" y="908" width="6" height="24" fill="#6ff446"/><rect x="2212" y="876" width="2" height="4" fill="#000"/><rect x="2212" y="906" width="2" height="12" fill="#000"/><rect x="2208" y="880" width="10" height="26" fill="#000"/><rect x="2210" y="882" width="6" height="22" fill="#6ff446"/><rect x="2230" y="846" width="2" height="14" fill="#000"/><rect x="2230" y="876" width="2" height="10" fill="#000"/><rect x="2226" y="860" width="10" height="16" fill="#000"/><rect x="2228" y="862" width="6" height="12" fill="#6ff446"/><rect x="2248" y="824" width="2" height="4" fill="#000"/><rect x="2248" y="854" width="2" height="8" fill="#000"/><rect x="2244" y="828" width="10" height="26" fill="#000"/><rect x="2246" y="830" width="6" height="22" fill="#6ff446"/><rect x="2266" y="820" width="2" height="2" fill="#000"/><rect x="2266" y="840" width="2" height="30" fill="#000"/><rect x="2262" y="822" width="10" height="18" fill="#000"/><rect x="2264" y="824" width="6" height="14" fill="#e8452a"/><rect x="2284" y="810" width="2" height="8" fill="#000"/><rect x="2284" y="832" width="2" height="32" fill="#000"/><rect x="2280" y="818" width="10" height="14" fill="#000"/><rect x="2282" y="820" width="6" height="10" fill="#e8452a"/><rect x="2302" y="804" width="2" height="6" fill="#000"/><rect x="2302" y="822" width="2" height="10" fill="#000"/><rect x="2298" y="810" width="10" height="12" fill="#000"/><rect x="2300" y="812" width="6" height="8" fill="#6ff446"/><rect x="2320" y="808" width="2" height="22" fill="#000"/><rect x="2316" y="786" width="10" height="22" fill="#000"/><rect x="2318" y="788" width="6" height="18" fill="#6ff446"/><rect x="2338" y="766" width="2" height="8" fill="#000"/><rect x="2338" y="780" width="2" height="18" fill="#000"/><rect x="2334" y="774" width="10" height="6" fill="#000"/><rect x="2336" y="776" width="6" height="2" fill="#6ff446"/><rect x="2356" y="768" width="2" height="12" fill="#000"/><rect x="2352" y="736" width="10" height="32" fill="#000"/><rect x="2354" y="738" width="6" height="28" fill="#6ff446"/><rect x="2374" y="712" width="2" height="8" fill="#000"/><rect x="2374" y="726" width="2" height="40" fill="#000"/><rect x="2370" y="720" width="10" height="6" fill="#000"/><rect x="2372" y="722" width="6" height="2" fill="#6ff446"/><rect x="2392" y="716" width="2" height="2" fill="#000"/><rect x="2388" y="694" width="10" height="22" fill="#000"/><rect x="2390" y="696" width="6" height="18" fill="#6ff446"/><rect x="2410" y="696" width="2" height="2" fill="#000"/><rect x="2406" y="656" width="10" height="40" fill="#000"/><rect x="2408" y="658" width="6" height="36" fill="#6ff446"/><rect x="2428" y="596" width="2" height="6" fill="#000"/><rect x="2424" y="602" width="10" height="36" fill="#000"/><rect x="2426" y="604" width="6" height="32" fill="#6ff446"/><rect x="2446" y="562" width="2" height="4" fill="#000"/><rect x="2446" y="590" width="2" height="14" fill="#000"/><rect x="2442" y="566" width="10" height="24" fill="#000"/><rect x="2444" y="568" width="6" height="20" fill="#6ff446"/><rect x="2464" y="510" width="2" height="34" fill="#000"/><rect x="2464" y="562" width="2" height="24" fill="#000"/><rect x="2460" y="544" width="10" height="18" fill="#000"/><rect x="2462" y="546" width="6" height="14" fill="#e8452a"/><rect x="2482" y="532" width="2" height="10" fill="#000"/><rect x="2482" y="568" width="2" height="12" fill="#000"/><rect x="2478" y="542" width="10" height="26" fill="#000"/><rect x="2480" y="544" width="6" height="22" fill="#6ff446"/><rect x="2496" y="502" width="10" height="16" fill="#000"/><rect x="2498" y="504" width="6" height="12" fill="#6ff446"/><rect x="2514" y="442" width="10" height="28" fill="#000"/><rect x="2516" y="444" width="6" height="24" fill="#6ff446"/><rect x="2536" y="424" width="2" height="14" fill="#000"/><rect x="2532" y="404" width="10" height="20" fill="#000"/><rect x="2534" y="406" width="6" height="16" fill="#6ff446"/><rect x="2554" y="364" width="2" height="10" fill="#000"/><rect x="2550" y="344" width="10" height="20" fill="#000"/><rect x="2552" y="346" width="6" height="16" fill="#6ff446"/><rect x="2572" y="284" width="2" height="28" fill="#000"/><rect x="2568" y="312" width="10" height="94" fill="#000"/><rect x="2570" y="314" width="6" height="90" fill="#e8452a"/><rect x="2590" y="390" width="2" height="6" fill="#000"/><rect x="2590" y="442" width="2" height="2" fill="#000"/><rect x="2586" y="396" width="10" height="46" fill="#000"/><rect x="2588" y="398" width="6" height="42" fill="#6ff446"/><rect x="2608" y="378" width="2" height="14" fill="#000"/><rect x="2604" y="336" width="10" height="42" fill="#000"/><rect x="2606" y="338" width="6" height="38" fill="#6ff446"/><rect x="2626" y="284" width="2" height="24" fill="#000"/><rect x="2622" y="276" width="10" height="8" fill="#000"/><rect x="2624" y="278" width="6" height="4" fill="#6ff446"/><rect x="2644" y="216" width="2" height="8" fill="#000"/><rect x="2640" y="224" width="10" height="114" fill="#000"/><rect x="2642" y="226" width="6" height="110" fill="#e8452a"/><rect x="2662" y="322" width="2" height="20" fill="#000"/><rect x="2658" y="342" width="10" height="34" fill="#000"/><rect x="2660" y="344" width="6" height="30" fill="#e8452a"/><rect x="2680" y="380" width="2" height="12" fill="#000"/><rect x="2676" y="392" width="10" height="24" fill="#000"/><rect x="2678" y="394" width="6" height="20" fill="#e8452a"/><rect x="2698" y="440" width="2" height="4" fill="#000"/><rect x="2694" y="444" width="10" height="32" fill="#000"/><rect x="2696" y="446" width="6" height="28" fill="#e8452a"/><rect x="2712" y="534" width="10" height="2" fill="#000"/><rect x="204" y="188" width="2" height="1190" fill="#000"/><rect x="204" y="188" width="2564" height="2" fill="#000"/><rect x="2766" y="188" width="2" height="1190" fill="#000"/><rect x="204" y="1376" width="2564" height="2" fill="#000"/><rect x="204" y="1374" width="6" height="2" fill="#000"/><rect x="2762" y="1374" width="6" height="2" fill="#000"/><rect x="204" y="1364" width="6" height="2" fill="#000"/><rect x="2762" y="1364" width="6" height="2" fill="#000"/><rect x="204" y="1354" width="10" height="2" fill="#000"/><rect x="2758" y="1354" width="10" height="2" fill="#000"/><rect x="204" y="1342" width="6" height="2" fill="#000"/><rect x="2762" y="1342" width="6" height="2" fill="#000"/><rect x="204" y="1332" width="6" height="2" fill="#000"/><rect x="2762" y="1332" width="6" height="2" fill="#000"/><rect x="204" y="1322" width="6" height="2" fill="#000"/><rect x="2762" y="1322" width="6" height="2" fill="#000"/><rect x="204" y="1312" width="6" height="2" fill="#000"/><rect x="2762" y="1312" width="6" height="2" fill="#000"/><rect x="204" y="1302" width="12" height="2" fill="#000"/><rect x="2756" y="1302" width="12" height="2" fill="#000"/><rect x="204" y="1292" width="6" height="2" fill="#000"/><rect x="2762" y="1292" width="6" height="2" fill="#000"/><rect x="204" y="1280" width="6" height="2" fill="#000"/><rect x="2762" y="1280" width="6" height="2" fill="#000"/><rect x="204" y="1270" width="6" height="2" fill="#000"/><rect x="2762" y="1270" width="6" height="2" fill="#000"/><rect x="204" y="1260" width="6" height="2" fill="#000"/><rect x="2762" y="1260" width="6" height="2" fill="#000"/><rect x="204" y="1250" width="10" height="2" fill="#000"/><rect x="2758" y="1250" width="10" height="2" fill="#000"/><rect x="204" y="1240" width="6" height="2" fill="#000"/><rect x="2762" y="1240" width="6" height="2" fill="#000"/><rect x="204" y="1230" width="6" height="2" fill="#000"/><rect x="2762" y="1230" width="6" height="2" fill="#000"/><rect x="204" y="1218" width="6" height="2" fill="#000"/><rect x="2762" y="1218" width="6" height="2" fill="#000"/><rect x="204" y="1208" width="6" height="2" fill="#000"/><rect x="2762" y="1208" width="6" height="2" fill="#000"/><rect x="204" y="1198" width="12" height="2" fill="#000"/><rect x="2756" y="1198" width="12" height="2" fill="#000"/><rect x="204" y="1188" width="6" height="2" fill="#000"/><rect x="2762" y="1188" width="6" height="2" fill="#000"/><rect x="204" y="1178" width="6" height="2" fill="#000"/><rect x="2762" y="1178" width="6" height="2" fill="#000"/><rect x="204" y="1166" width="6" height="2" fill="#000"/><rect x="2762" y="1166" width="6" height="2" fill="#000"/><rect x="204" y="1156" width="6" height="2" fill="#000"/><rect x="2762" y="1156" width="6" height="2" fill="#000"/><rect x="204" y="1146" width="10" height="2" fill="#000"/><rect x="2758" y="1146" width="10" height="2" fill="#000"/><rect x="204" y="1136" width="6" height="2" fill="#000"/><rect x="2762" y="1136" width="6" height="2" fill="#000"/><rect x="204" y="1126" width="6" height="2" fill="#000"/><rect x="2762" y="1126" width="6" height="2" fill="#000"/><rect x="204" y="1116" width="6" height="2" fill="#000"/><rect x="2762" y="1116" width="6" height="2" fill="#000"/><rect x="204" y="1104" width="6" height="2" fill="#000"/><rect x="2762" y="1104" width="6" height="2" fill="#000"/><rect x="204" y="1094" width="12" height="2" fill="#000"/><rect x="2756" y="1094" width="12" height="2" fill="#000"/><rect x="204" y="1084" width="6" height="2" fill="#000"/><rect x="2762" y="1084" width="6" height="2" fill="#000"/><rect x="204" y="1074" width="6" height="2" fill="#000"/><rect x="2762" y="1074" width="6" height="2" fill="#000"/><rect x="204" y="1064" width="6" height="2" fill="#000"/><rect x="2762" y="1064" width="6" height="2" fill="#000"/><rect x="204" y="1054" width="6" height="2" fill="#000"/><rect x="2762" y="1054" width="6" height="2" fill="#000"/><rect x="204" y="1042" width="10" height="2" fill="#000"/><rect x="2758" y="1042" width="10" height="2" fill="#000"/><rect x="204" y="1032" width="6" height="2" fill="#000"/><rect x="2762" y="1032" width="6" height="2" fill="#000"/><rect x="204" y="1022" width="6" height="2" fill="#000"/><rect x="2762" y="1022" width="6" height="2" fill="#000"/><rect x="204" y="1012" width="6" height="2" fill="#000"/><rect x="2762" y="1012" width="6" height="2" fill="#000"/><rect x="204" y="1002" width="6" height="2" fill="#000"/><rect x="2762" y="1002" width="6" height="2" fill="#000"/><rect x="204" y="990" width="12" height="2" fill="#000"/><rect x="2756" y="990" width="12" height="2" fill="#000"/><rect x="204" y="980" width="6" height="2" fill="#000"/><rect x="2762" y="980" width="6" height="2" fill="#000"/><rect x="204" y="970" width="6" height="2" fill="#000"/><rect x="2762" y="970" width="6" height="2" fill="#000"/><rect x="204" y="960" width="6" height="2" fill="#000"/><rect x="2762" y="960" width="6" height="2" fill="#000"/><rect x="204" y="950" width="6" height="2" fill="#000"/><rect x="2762" y="950" width="6" height="2" fill="#000"/><rect x="204" y="940" width="10" height="2" fill="#000"/><rect x="2758" y="940" width="10" height="2" fill="#000"/><rect x="204" y="928" width="6" height="2" fill="#000"/><rect x="2762" y="928" width="6" height="2" fill="#000"/><rect x="204" y="918" width="6" height="2" fill="#000"/><rect x="2762" y="918" width="6" height="2" fill="#000"/><rect x="204" y="908" width="6" height="2" fill="#000"/><rect x="2762" y="908" width="6" height="2" fill="#000"/><rect x="204" y="898" width="6" height="2" fill="#000"/><rect x="2762" y="898" width="6" height="2" fill="#000"/><rect x="204" y="888" width="12" height="2" fill="#000"/><rect x="2756" y="888" width="12" height="2" fill="#000"/><rect x="204" y="878" width="6" height="2" fill="#000"/><rect x="2762" y="878" width="6" height="2" fill="#000"/><rect x="204" y="866" width="6" height="2" fill="#000"/><rect x="2762" y="866" width="6" height="2" fill="#000"/><rect x="204" y="856" width="6" height="2" fill="#000"/><rect x="2762" y="856" width="6" height="2" fill="#000"/><rect x="204" y="846" width="6" height="2" fill="#000"/><rect x="2762" y="846" width="6" height="2" fill="#000"/><rect x="204" y="836" width="10" height="2" fill="#000"/><rect x="2758" y="836" width="10" height="2" fill="#000"/><rect x="204" y="826" width="6" height="2" fill="#000"/><rect x="2762" y="826" width="6" height="2" fill="#000"/><rect x="204" y="816" width="6" height="2" fill="#000"/><rect x="2762" y="816" width="6" height="2" fill="#000"/><rect x="204" y="804" width="6" height="2" fill="#000"/><rect x="2762" y="804" width="6" height="2" fill="#000"/><rect x="204" y="794" width="6" height="2" fill="#000"/><rect x="2762" y="794" width="6" height="2" fill="#000"/><rect x="204" y="784" width="12" height="2" fill="#000"/><rect x="2756" y="784" width="12" height="2" fill="#000"/><rect x="204" y="774" width="6" height="2" fill="#000"/><rect x="2762" y="774" width="6" height="2" fill="#000"/><rect x="204" y="764" width="6" height="2" fill="#000"/><rect x="2762" y="764" width="6" height="2" fill="#000"/><rect x="204" y="752" width="6" height="2" fill="#000"/><rect x="2762" y="752" width="6" height="2" fill="#000"/><rect x="204" y="742" width="6" height="2" fill="#000"/><rect x="2762" y="742" width="6" height="2" fill="#000"/><rect x="204" y="732" width="10" height="2" fill="#000"/><rect x="2758" y="732" width="10" height="2" fill="#000"/><rect x="204" y="722" width="6" height="2" fill="#000"/><rect x="2762" y="722" width="6" height="2" fill="#000"/><rect x="204" y="712" width="6" height="2" fill="#000"/><rect x="2762" y="712" width="6" height="2" fill="#000"/><rect x="204" y="702" width="6" height="2" fill="#000"/><rect x="2762" y="702" width="6" height="2" fill="#000"/><rect x="204" y="690" width="6" height="2" fill="#000"/><rect x="2762" y="690" width="6" height="2" fill="#000"/><rect x="204" y="680" width="12" height="2" fill="#000"/><rect x="2756" y="680" width="12" height="2" fill="#000"/><rect x="204" y="670" width="6" height="2" fill="#000"/><rect x="2762" y="670" width="6" height="2" fill="#000"/><rect x="204" y="660" width="6" height="2" fill="#000"/><rect x="2762" y="660" width="6" height="2" fill="#000"/><rect x="204" y="650" width="6" height="2" fill="#000"/><rect x="2762" y="650" width="6" height="2" fill="#000"/><rect x="204" y="640" width="6" height="2" fill="#000"/><rect x="2762" y="640" width="6" height="2" fill="#000"/><rect x="204" y="628" width="10" height="2" fill="#000"/><rect x="2758" y="628" width="10" height="2" fill="#000"/><rect x="204" y="618" width="6" height="2" fill="#000"/><rect x="2762" y="618" width="6" height="2" fill="#000"/><rect x="204" y="608" width="6" height="2" fill="#000"/><rect x="2762" y="608" width="6" height="2" fill="#000"/><rect x="204" y="598" width="6" height="2" fill="#000"/><rect x="2762" y="598" width="6" height="2" fill="#000"/><rect x="204" y="588" width="6" height="2" fill="#000"/><rect x="2762" y="588" width="6" height="2" fill="#000"/><rect x="204" y="576" width="12" height="2" fill="#000"/><rect x="2756" y="576" width="12" height="2" fill="#000"/><rect x="204" y="566" width="6" height="2" fill="#000"/><rect x="2762" y="566" width="6" height="2" fill="#000"/><rect x="204" y="556" width="6" height="2" fill="#000"/><rect x="2762" y="556" width="6" height="2" fill="#000"/><rect x="204" y="546" width="6" height="2" fill="#000"/><rect x="2762" y="546" width="6" height="2" fill="#000"/><rect x="204" y="536" width="6" height="2" fill="#000"/><rect x="2762" y="536" width="6" height="2" fill="#000"/><rect x="204" y="526" width="10" height="2" fill="#000"/><rect x="2758" y="526" width="10" height="2" fill="#000"/><rect x="204" y="514" width="6" height="2" fill="#000"/><rect x="2762" y="514" width="6" height="2" fill="#000"/><rect x="204" y="504" width="6" height="2" fill="#000"/><rect x="2762" y="504" width="6" height="2" fill="#000"/><rect x="204" y="494" width="6" height="2" fill="#000"/><rect x="2762" y="494" width="6" height="2" fill="#000"/><rect x="204" y="484" width="6" height="2" fill="#000"/><rect x="2762" y="484" width="6" height="2" fill="#000"/><rect x="204" y="474" width="12" height="2" fill="#000"/><rect x="2756" y="474" width="12" height="2" fill="#000"/><rect x="204" y="464" width="6" height="2" fill="#000"/><rect x="2762" y="464" width="6" height="2" fill="#000"/><rect x="204" y="452" width="6" height="2" fill="#000"/><rect x="2762" y="452" width="6" height="2" fill="#000"/><rect x="204" y="442" width="6" height="2" fill="#000"/><rect x="2762" y="442" width="6" height="2" fill="#000"/><rect x="204" y="432" width="6" height="2" fill="#000"/><rect x="2762" y="432" width="6" height="2" fill="#000"/><rect x="204" y="422" width="10" height="2" fill="#000"/><rect x="2758" y="422" width="10" height="2" fill="#000"/><rect x="204" y="412" width="6" height="2" fill="#000"/><rect x="2762" y="412" width="6" height="2" fill="#000"/><rect x="204" y="402" width="6" height="2" fill="#000"/><rect x="2762" y="402" width="6" height="2" fill="#000"/><rect x="204" y="390" width="6" height="2" fill="#000"/><rect x="2762" y="390" width="6" height="2" fill="#000"/><rect x="204" y="380" width="6" height="2" fill="#000"/><rect x="2762" y="380" width="6" height="2" fill="#000"/><rect x="204" y="370" width="12" height="2" fill="#000"/><rect x="2756" y="370" width="12" height="2" fill="#000"/><rect x="204" y="360" width="6" height="2" fill="#000"/><rect x="2762" y="360" width="6" height="2" fill="#000"/><rect x="204" y="350" width="6" height="2" fill="#000"/><rect x="2762" y="350" width="6" height="2" fill="#000"/><rect x="204" y="338" width="6" height="2" fill="#000"/><rect x="2762" y="338" width="6" height="2" fill="#000"/><rect x="204" y="328" width="6" height="2" fill="#000"/><rect x="2762" y="328" width="6" height="2" fill="#000"/><rect x="204" y="318" width="10" height="2" fill="#000"/><rect x="2758" y="318" width="10" height="2" fill="#000"/><rect x="204" y="308" width="6" height="2" fill="#000"/><rect x="2762" y="308" width="6" height="2" fill="#000"/><rect x="204" y="298" width="6" height="2" fill="#000"/><rect x="2762" y="298" width="6" height="2" fill="#000"/><rect x="204" y="288" width="6" height="2" fill="#000"/><rect x="2762" y="288" width="6" height="2" fill="#000"/><rect x="204" y="276" width="6" height="2" fill="#000"/><rect x="2762" y="276" width="6" height="2" fill="#000"/><rect x="204" y="266" width="12" height="2" fill="#000"/><rect x="2756" y="266" width="12" height="2" fill="#000"/><rect x="204" y="256" width="6" height="2" fill="#000"/><rect x="2762" y="256" width="6" height="2" fill="#000"/><rect x="204" y="246" width="6" height="2" fill="#000"/><rect x="2762" y="246" width="6" height="2" fill="#000"/><rect x="204" y="236" width="6" height="2" fill="#000"/><rect x="2762" y="236" width="6" height="2" fill="#000"/><rect x="204" y="226" width="6" height="2" fill="#000"/><rect x="2762" y="226" width="6" height="2" fill="#000"/><rect x="204" y="214" width="10" height="2" fill="#000"/><rect x="2758" y="214" width="10" height="2" fill="#000"/><rect x="204" y="204" width="6" height="2" fill="#000"/><rect x="2762" y="204" width="6" height="2" fill="#000"/><rect x="204" y="194" width="6" height="2" fill="#000"/><rect x="2762" y="194" width="6" height="2" fill="#000"/><rect x="206" y="190" width="182" height="132" fill="#fff"/><rect x="371" y="195" width="8" height="118" fill="none" stroke="#000" stroke-width="2"/><rect x="214" y="1378" width="2" height="32" fill="#000"/><rect x="286" y="1378" width="2" height="32" fill="#000"/><rect x="376" y="1378" width="2" height="32" fill="#000"/><rect x="466" y="1378" width="2" height="32" fill="#000"/><rect x="556" y="1378" width="2" height="32" fill="#000"/><rect x="646" y="1378" width="2" height="32" fill="#000"/><rect x="736" y="1378" width="2" height="32" fill="#000"/><rect x="772" y="1378" width="2" height="32" fill="#000"/><rect x="826" y="1378" width="2" height="32" fill="#000"/><rect x="898" y="1378" width="2" height="32" fill="#000"/><rect x="988" y="1378" width="2" height="32" fill="#000"/><rect x="1078" y="1378" width="2" height="32" fill="#000"/><rect x="1150" y="1378" width="2" height="32" fill="#000"/><rect x="1258" y="1378" width="2" height="32" fill="#000"/><rect x="1348" y="1378" width="2" height="32" fill="#000"/><rect x="1438" y="1378" width="2" height="32" fill="#000"/><rect x="1510" y="1378" width="2" height="32" fill="#000"/><rect x="1600" y="1378" width="2" height="32" fill="#000"/><rect x="1690" y="1378" width="2" height="32" fill="#000"/><rect x="1780" y="1378" width="2" height="32" fill="#000"/><rect x="1870" y="1378" width="2" height="32" fill="#000"/><rect x="1906" y="1378" width="2" height="32" fill="#000"/><rect x="1942" y="1378" width="2" height="32" fill="#000"/><rect x="2032" y="1378" width="2" height="32" fill="#000"/><rect x="2122" y="1378" width="2" height="32" fill="#000"/><rect x="2212" y="1378" width="2" height="32" fill="#000"/><rect x="2302" y="1378" width="2" height="32" fill="#000"/><rect x="2392" y="1378" width="2" height="32" fill="#000"/><rect x="2482" y="1378" width="2" height="32" fill="#000"/><rect x="2572" y="1378" width="2" height="32" fill="#000"/><rect x="2680" y="1378" width="2" height="32" fill="#000"/><rect x="2768" y="518" width="117" height="29" fill="#222" stroke="#555" stroke-width="2"/><rect x="206" y="1241" width="165" height="135" fill="#fff" stroke="#666" stroke-width="2"/><text x="226.0 242.1" y="1402" class="ax" text-anchor="middle">18</text><text x="298.0 314.1" y="1402" class="ax" text-anchor="middle">24</text><text x="388.0 404.1" y="1402" class="ax" text-anchor="middle">02</text><text x="478.0 494.1" y="1402" class="ax" text-anchor="middle">09</text><text x="568.0 584.1" y="1402" class="ax" text-anchor="middle">16</text><text x="658.0 674.1" y="1402" class="ax" text-anchor="middle">23</text><text x="748.0 764.1" y="1402" class="ax" text-anchor="middle">30</text><text x="784.0 800.1" y="1402" class="ax" text-anchor="middle">01</text><text x="838.0 854.1" y="1402" class="ax" text-anchor="middle">06</text><text x="910.0 926.1" y="1402" class="ax" text-anchor="middle">13</text><text x="1000.0 1016.1" y="1402" class="ax" text-anchor="middle">20</text><text x="1090.0 1106.1" y="1402" class="ax" text-anchor="middle">27</text><text x="1162.0 1178.1" y="1402" class="ax" text-anchor="middle">01</text><text x="1270.0 1286.1" y="1402" class="ax" text-anchor="middle">11</text><text x="1360.0 1376.1" y="1402" class="ax" text-anchor="middle">18</text><text x="1450.0 1466.1" y="1402" class="ax" text-anchor="middle">26</text><text x="1522.0 1538.1" y="1402" class="ax" text-anchor="middle">01</text><text x="1612.0 1628.1" y="1402" class="ax" text-anchor="middle">08</text><text x="1702.0 1718.1" y="1402" class="ax" text-anchor="middle">15</text><text x="1792.0 1808.1" y="1402" class="ax" text-anchor="middle">22</text><text x="1882.0 1898.1" y="1402" class="ax" text-anchor="middle">29</text><text x="1918.0 1934.1" y="1402" class="ax" text-anchor="middle">01</text><text x="1954.0 1970.1" y="1402" class="ax" text-anchor="middle">06</text><text x="2044.0 2060.1" y="1402" class="ax" text-anchor="middle">13</text><text x="2134.0 2150.1" y="1402" class="ax" text-anchor="middle">20</text><text x="2224.0 2240.1" y="1402" class="ax" text-anchor="middle">27</text><text x="2314.0 2330.1" y="1402" class="ax" text-anchor="middle">03</text><text x="2404.0 2420.1" y="1402" class="ax" text-anchor="middle">10</text><text x="2494.0 2510.1" y="1402" class="ax" text-anchor="middle">17</text><text x="2584.0 2600.1" y="1402" class="ax" text-anchor="middle">24</text><text x="2692.0 2708.1" y="1402" class="ax" text-anchor="middle">01</text><text x="388.4 404.5 420.6" y="1372" class="ax" text-anchor="middle">Mar</text><text x="784.4 800.5 816.6" y="1372" class="ax" text-anchor="middle">Apr</text><text x="1162.4 1178.5 1194.6" y="1372" class="ax" text-anchor="middle">May</text><text x="1522.4 1538.5 1554.6" y="1372" class="ax" text-anchor="middle">Jun</text><text x="1918.4 1934.5 1950.6" y="1372" class="ax" text-anchor="middle">Jul</text><text x="2314.4 2330.5 2346.6" y="1372" class="ax" text-anchor="middle">Aug</text><text x="2692.4 2708.5 2724.6" y="1372" class="ax" text-anchor="middle">Sep</text><text x="2793.6 2809.7 2825.8 2841.9 2858.0 2874.1" y="1307" class="pl" text-anchor="middle">300.00</text><text x="2793.6 2809.7 2825.8 2841.9 2858.0 2874.1" y="1203" class="pl" text-anchor="middle">350.00</text><text x="2793.6 2809.7 2825.8 2841.9 2858.0 2874.1" y="1099" class="pl" text-anchor="middle">400.00</text><text x="2793.6 2809.7 2825.8 2841.9 2858.0 2874.1" y="995" class="pl" text-anchor="middle">450.00</text><text x="2793.6 2809.7 2825.8 2841.9 2858.0 2874.1" y="893" class="pl" text-anchor="middle">500.00</text><text x="2793.6 2809.7 2825.8 2841.9 2858.0 2874.1" y="789" class="pl" text-anchor="middle">550.00</text><text x="2793.6 2809.7 2825.8 2841.9 2858.0 2874.1" y="685" class="pl" text-anchor="middle">600.00</text><text x="2793.6 2809.7 2825.8 2841.9 2858.0 2874.1" y="581" class="pl" text-anchor="middle">650.00</text><text x="2793.6 2809.7 2825.8 2841.9 2858.0 2874.1" y="479" class="pl" text-anchor="middle">700.00</text><text x="2793.6 2809.7 2825.8 2841.9 2858.0 2874.1" y="375" class="pl" text-anchor="middle">750.00</text><text x="2793.6 2809.7 2825.8 2841.9 2858.0 2874.1" y="271" class="pl" text-anchor="middle">800.00</text><text x="2793.6 2809.7 2825.8 2841.9 2858.0 2874.1" y="541" class="pl" text-anchor="middle" style="fill:#fff">670.50</text><text x="215.6 231.7 263.9 280.0 296.1 312.2 328.3 344.4" y="209" class="ob" text-anchor="middle">O=670.50</text><text x="215.6 231.7 263.9 280.0 296.1 312.2 328.3 344.4" y="235" class="ob" text-anchor="middle">H=670.50</text><text x="215.6 231.7 263.9 280.0 296.1 312.2 328.3 344.4" y="261" class="ob" text-anchor="middle">L=670.50</text><text x="215.6 231.7 263.9 280.0 296.1 312.2 328.3 344.4" y="287" class="ob" text-anchor="middle">L=670.50</text><text x="215.6 231.7 263.9 280.0 296.1 312.2 328.3 344.4" y="313" class="ob" text-anchor="middle">&#916;=-29.00</text><text x="215.4 231.5 263.7 279.8 295.9 328.1 344.2" y="1264" class="ob" text-anchor="middle">03Sep20</text><text x="215.4 231.5 279.8 295.9 312.0 328.1 344.2 360.3" y="1290" class="ob" text-anchor="middle">O=670.50</text><text x="215.4 231.5 279.8 295.9 312.0 328.1 344.2 360.3" y="1316" class="ob" text-anchor="middle">H=670.50</text><text x="215.4 231.5 279.8 295.9 312.0 328.1 344.2 360.3" y="1342" class="ob" text-anchor="middle">L=670.50</text><text x="215.4 231.5 279.8 295.9 312.0 328.1 344.2 360.3" y="1368" class="ob" text-anchor="middle">C=670.50</text><rect x="206" y="1374" width="39" height="39" fill="#fff" stroke="#666" stroke-width="2"/></svg>
</body></html>
